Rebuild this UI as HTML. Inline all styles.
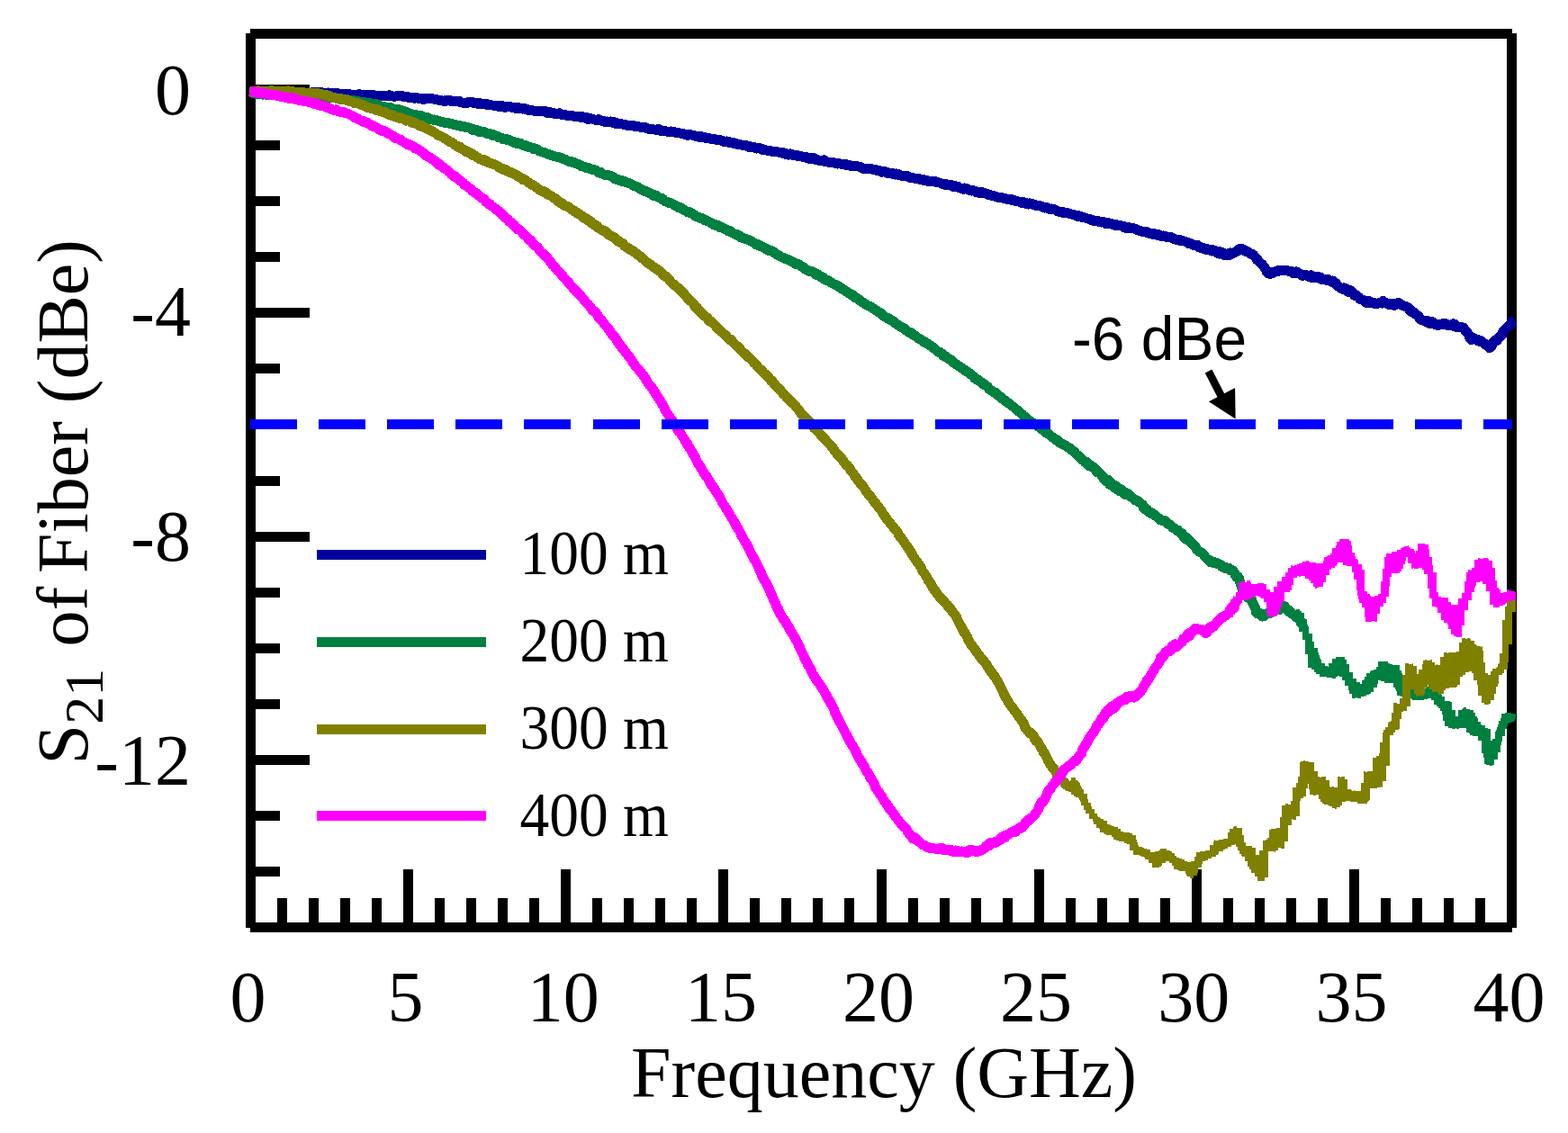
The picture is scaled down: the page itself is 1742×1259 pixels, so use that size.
<!DOCTYPE html>
<html><head><meta charset="utf-8"><title>S21 of Fiber</title>
<style>html,body{margin:0;padding:0;background:#fff}body{width:1742px;height:1259px;overflow:hidden}</style>
</head><body>
<svg width="1742" height="1259" viewBox="0 0 1742 1259" style="display:block">
<rect width="1742" height="1259" fill="#fff"/>
<g stroke="#000" stroke-width="11" fill="none" shape-rendering="crispEdges">
<path d="M278.5,37 V1031 M278,37.5 H1680 M1679.5,37 V1031 M278,1030.5 H1680"/>
<path d="M278.5,99.5 H344 M278.5,161.5 H311 M278.5,223.5 H311 M278.5,285.5 H311 M278.5,347.5 H344 M278.5,409.5 H311 M278.5,471.5 H311 M278.5,534.5 H311 M278.5,596.5 H344 M278.5,658.5 H311 M278.5,720.5 H311 M278.5,782.5 H311 M278.5,844.5 H344 M278.5,906.5 H311 M278.5,968.5 H311 M313.5,1030.5 V998 M348.5,1030.5 V998 M383.5,1030.5 V998 M418.5,1030.5 V998 M453.5,1030.5 V966 M488.5,1030.5 V998 M523.5,1030.5 V998 M558.5,1030.5 V998 M593.5,1030.5 V998 M628.5,1030.5 V966 M663.5,1030.5 V998 M698.5,1030.5 V998 M733.5,1030.5 V998 M768.5,1030.5 V998 M803.5,1030.5 V966 M838.5,1030.5 V998 M873.5,1030.5 V998 M908.5,1030.5 V998 M943.5,1030.5 V998 M979.5,1030.5 V966 M1014.5,1030.5 V998 M1049.5,1030.5 V998 M1084.5,1030.5 V998 M1119.5,1030.5 V998 M1154.5,1030.5 V966 M1189.5,1030.5 V998 M1224.5,1030.5 V998 M1259.5,1030.5 V998 M1294.5,1030.5 V998 M1329.5,1030.5 V966 M1364.5,1030.5 V998 M1399.5,1030.5 V998 M1434.5,1030.5 V998 M1469.5,1030.5 V998 M1504.5,1030.5 V966 M1539.5,1030.5 V998 M1574.5,1030.5 V998 M1609.5,1030.5 V998 M1644.5,1030.5 V998 "/>
</g>
<g fill="none" stroke-width="11" stroke-linejoin="round" shape-rendering="crispEdges">
<path stroke="#00009c" stroke-width="9" d="M277.5,102.0 L281.5,102.0 L285.5,102.0 L289.5,102.0 L293.5,102.1 L297.5,102.1 L301.5,102.1 L305.5,102.2 L309.5,102.2 L313.5,102.2 L317.5,102.3 L321.5,102.3 L325.5,102.4 L329.5,102.5 L333.5,102.6 L337.5,102.7 L341.5,102.8 L345.5,102.9 L349.5,103.0 L353.5,103.1 L357.5,103.3 L361.5,103.5 L365.5,103.7 L369.5,104.0 L373.5,104.2 L377.5,104.4 L381.5,104.5 L385.5,104.7 L389.5,104.8 L393.5,104.9 L397.5,105.1 L401.5,105.2 L405.5,105.3 L409.5,105.5 L413.5,105.6 L417.5,105.8 L421.5,105.9 L425.5,106.1 L429.5,106.3 L433.5,106.4 L437.5,106.7 L441.5,106.9 L445.5,107.2 L449.5,107.5 L453.5,107.9 L457.5,108.3 L461.5,108.8 L465.5,109.2 L469.5,109.6 L473.5,109.9 L477.5,110.3 L481.5,110.6 L485.5,111.0 L489.5,111.3 L493.5,111.7 L497.5,112.0 L501.5,112.3 L505.5,112.7 L509.5,113.0 L513.5,113.4 L517.5,113.8 L521.5,114.2 L525.5,114.5 L529.5,114.9 L533.5,115.4 L537.5,115.8 L541.5,116.2 L545.5,116.7 L549.5,117.1 L553.5,117.6 L557.5,118.1 L561.5,118.5 L565.5,119.0 L569.5,119.5 L573.5,120.0 L577.5,120.5 L581.5,121.0 L585.5,121.6 L589.5,122.1 L593.5,122.6 L597.5,123.2 L601.5,123.7 L605.5,124.3 L609.5,124.8 L613.5,125.4 L617.5,125.9 L621.5,126.5 L625.5,127.1 L629.5,127.7 L633.5,128.3 L637.5,128.9 L641.5,129.6 L645.5,130.2 L649.5,130.9 L653.5,131.5 L657.5,132.2 L661.5,132.9 L665.5,133.6 L669.5,134.2 L673.5,134.9 L677.5,135.6 L681.5,136.3 L685.5,136.9 L689.5,137.6 L693.5,138.3 L697.5,138.9 L701.5,139.6 L705.5,140.2 L709.5,140.8 L713.5,141.5 L717.5,142.1 L721.5,142.7 L725.5,143.4 L729.5,144.0 L733.5,144.6 L737.5,145.3 L741.5,145.9 L745.5,146.5 L749.5,147.2 L753.5,147.8 L757.5,148.5 L761.5,149.1 L765.5,149.8 L769.5,150.5 L773.5,151.2 L777.5,151.9 L781.5,152.6 L785.5,153.4 L789.5,154.1 L793.5,154.9 L797.5,155.7 L801.5,156.5 L805.5,157.3 L809.5,158.1 L813.5,158.9 L817.5,159.8 L821.5,160.6 L825.5,161.4 L829.5,162.3 L833.5,163.1 L837.5,163.9 L841.5,164.7 L845.5,165.5 L849.5,166.3 L853.5,167.1 L857.5,167.9 L861.5,168.7 L865.5,169.4 L869.5,170.2 L873.5,170.9 L877.5,171.7 L881.5,172.4 L885.5,173.2 L889.5,173.9 L893.5,174.6 L897.5,175.4 L901.5,176.1 L905.5,176.8 L909.5,177.5 L913.5,178.3 L917.5,179.0 L921.5,179.7 L925.5,180.5 L929.5,181.2 L933.5,181.9 L937.5,182.6 L941.5,183.4 L945.5,184.1 L949.5,184.9 L953.5,185.6 L957.5,186.4 L961.5,187.1 L965.5,187.9 L969.5,188.7 L973.5,189.4 L977.5,190.2 L981.5,191.0 L985.5,191.8 L989.5,192.5 L993.5,193.3 L997.5,194.1 L1001.5,194.9 L1005.5,195.7 L1009.5,196.5 L1013.5,197.3 L1017.5,198.1 L1021.5,198.9 L1025.5,199.7 L1029.5,200.5 L1033.5,201.3 L1037.5,202.2 L1041.5,203.0 L1045.5,203.9 L1049.5,204.8 L1053.5,205.7 L1057.5,206.6 L1061.5,207.5 L1065.5,208.4 L1069.5,209.3 L1073.5,210.3 L1077.5,211.2 L1081.5,212.2 L1085.5,213.1 L1089.5,214.1 L1093.5,215.0 L1097.5,216.0 L1101.5,216.9 L1105.5,217.9 L1109.5,218.8 L1113.5,219.7 L1117.5,220.7 L1121.5,221.6 L1125.5,222.5 L1129.5,223.4 L1133.5,224.3 L1137.5,225.2 L1141.5,226.2 L1145.5,227.1 L1149.5,228.0 L1153.5,229.0 L1157.5,229.9 L1161.5,230.9 L1165.5,231.9 L1169.5,232.9 L1173.5,233.9 L1177.5,234.9 L1181.5,236.0 L1185.5,237.1 L1189.5,238.1 L1193.5,239.2 L1197.5,240.3 L1201.5,241.3 L1205.5,242.4 L1209.5,243.4 L1213.5,244.4 L1217.5,245.4 L1221.5,246.3 L1225.5,247.2 L1229.5,248.1 L1233.5,248.9 L1237.5,249.8 L1241.5,250.6 L1245.5,251.5 L1249.5,252.3 L1253.5,253.2 L1257.5,254.1 L1261.5,255.0 L1265.5,255.9 L1269.5,256.8 L1273.5,257.7 L1277.5,258.7 L1281.5,259.6 L1285.5,260.6 L1289.5,261.5 L1293.5,262.5 L1297.5,263.5 L1301.5,264.5 L1305.5,265.6 L1309.5,266.7 L1313.5,267.9 L1317.5,269.1 L1321.5,270.5 L1325.5,272.0 L1329.5,273.5 L1333.5,274.8 L1337.5,276.1 L1341.5,277.4 L1345.5,278.4 L1349.5,279.4 L1353.5,280.4 L1357.5,281.4 L1361.5,282.1 L1365.5,282.3 L1369.5,281.5 L1373.5,279.1 L1377.5,277.2 L1381.5,279.1 L1385.5,281.0 L1389.5,282.8 L1393.5,285.7 L1397.5,290.2 L1401.5,294.6 L1405.5,299.1 L1409.5,303.4 L1413.5,303.4 L1417.5,302.8 L1421.5,302.1 L1425.5,301.4 L1429.5,301.3 L1433.5,302.0 L1437.5,302.8 L1441.5,303.5 L1445.5,304.4 L1449.5,305.4 L1453.5,306.4 L1457.5,307.4 L1461.5,308.2 L1465.5,308.8 L1469.5,309.4 L1473.5,309.9 L1477.5,312.0 L1481.5,314.3 L1485.5,316.6 L1489.5,318.8 L1493.5,320.8 L1497.5,322.8 L1501.5,325.2 L1505.5,328.4 L1509.5,331.6 L1513.5,333.2 L1517.5,334.7 L1521.5,336.1 L1525.5,336.9 L1529.5,336.5 L1533.5,336.2 L1537.5,336.4 L1541.5,337.6 L1545.5,338.9 L1549.5,338.6 L1553.5,338.2 L1557.5,338.9 L1561.5,341.2 L1565.5,343.5 L1569.5,346.4 L1573.5,349.9 L1577.5,353.6 L1581.5,355.4 L1585.5,357.0 L1589.5,358.6 L1593.5,360.2 L1597.5,361.8 L1601.5,361.4 L1605.5,360.8 L1609.5,360.1 L1613.5,360.8 L1617.5,361.6 L1621.5,362.5 L1625.5,364.9 L1629.5,370.1 L1633.5,375.4 L1637.5,377.2 L1641.5,378.5 L1645.5,379.8 L1649.5,382.6 L1653.5,385.6 L1657.5,382.5 L1661.5,378.5 L1665.5,374.4 L1669.5,370.1 L1673.5,365.8 L1677.5,361.5 L1681.5,357.9"/>
<path stroke="#00009c" d="M277.5,102.0 L278.5,102.0 L279.5,102.0 L280.5,102.0 L281.5,101.7 L282.5,101.7 L283.5,101.7 L284.5,102.5 L285.5,102.5 L286.5,102.5 L287.5,101.4 L288.5,101.4 L289.5,101.4 L290.5,101.4 L291.5,102.7 L292.5,102.7 L293.5,102.7 L294.5,102.7 L295.5,101.6 L296.5,101.6 L297.5,101.6 L298.5,101.6 L299.5,102.3 L300.5,102.3 L301.5,102.3 L302.5,102.3 L303.5,102.3 L304.5,102.3 L305.5,102.4 L306.5,102.4 L307.5,102.4 L308.5,102.4 L309.5,102.4 L310.5,102.7 L311.5,102.7 L312.5,102.7 L313.5,102.7 L314.5,102.0 L315.5,102.0 L316.5,102.0 L317.5,102.0 L318.5,102.9 L319.5,102.9 L320.5,103.0 L321.5,103.0 L322.5,101.6 L323.5,102.6 L324.5,102.5 L325.5,102.5 L326.5,102.5 L327.5,103.2 L328.5,102.1 L329.5,102.1 L330.5,102.1 L331.5,102.1 L332.5,102.5 L333.5,102.5 L334.5,102.0 L335.5,102.0 L336.5,102.0 L337.5,102.0 L338.5,102.5 L339.5,102.5 L340.5,102.5 L341.5,103.0 L342.5,103.1 L343.5,103.1 L344.5,103.1 L345.5,103.4 L346.5,102.7 L347.5,102.7 L348.5,102.8 L349.5,103.0 L350.5,103.1 L351.5,102.6 L352.5,102.7 L353.5,102.9 L354.5,102.5 L355.5,102.5 L356.5,102.6 L357.5,102.6 L358.5,103.8 L359.5,103.8 L360.5,103.1 L361.5,103.2 L362.5,103.3 L363.5,103.3 L364.5,103.0 L365.5,103.1 L366.5,103.1 L367.5,103.3 L368.5,103.3 L369.5,103.4 L370.5,103.4 L371.5,103.5 L372.5,103.5 L373.5,103.5 L374.5,103.6 L375.5,103.6 L376.5,105.0 L377.5,104.1 L378.5,104.1 L379.5,104.2 L380.5,105.0 L381.5,105.1 L382.5,104.1 L383.5,104.1 L384.5,104.5 L385.5,104.6 L386.5,104.6 L387.5,104.5 L388.5,105.1 L389.5,105.2 L390.5,105.2 L391.5,105.2 L392.5,105.3 L393.5,105.3 L394.5,105.4 L395.5,105.3 L396.5,105.3 L397.5,105.3 L398.5,104.9 L399.5,104.9 L400.5,105.0 L401.5,105.0 L402.5,105.3 L403.5,105.3 L404.5,105.3 L405.5,105.7 L406.5,105.0 L407.5,105.0 L408.5,105.1 L409.5,105.1 L410.5,105.6 L411.5,106.2 L412.5,105.0 L413.5,105.0 L414.5,105.1 L415.5,106.2 L416.5,106.2 L417.5,106.3 L418.5,106.3 L419.5,106.1 L420.5,106.7 L421.5,106.6 L422.5,106.7 L423.5,106.7 L424.5,106.5 L425.5,106.5 L426.5,106.6 L427.5,106.6 L428.5,106.1 L429.5,106.1 L430.5,106.1 L431.5,106.2 L432.5,105.9 L433.5,105.9 L434.5,106.9 L435.5,107.0 L436.5,107.0 L437.5,107.0 L438.5,107.1 L439.5,107.1 L440.5,106.7 L441.5,106.8 L442.5,106.9 L443.5,106.9 L444.5,107.0 L445.5,106.4 L446.5,106.5 L447.5,107.4 L448.5,107.5 L449.5,107.4 L450.5,107.5 L451.5,107.5 L452.5,107.6 L453.5,108.3 L454.5,108.4 L455.5,108.5 L456.5,108.6 L457.5,108.1 L458.5,108.3 L459.5,108.4 L460.5,109.3 L461.5,108.6 L462.5,108.7 L463.5,108.8 L464.5,108.9 L465.5,109.6 L466.5,109.7 L467.5,109.8 L468.5,109.9 L469.5,110.3 L470.5,110.0 L471.5,110.3 L472.5,109.2 L473.5,109.3 L474.5,109.4 L475.5,109.4 L476.5,109.5 L477.5,109.6 L478.5,109.7 L479.5,109.8 L480.5,109.9 L481.5,110.1 L482.5,110.2 L483.5,110.3 L484.5,110.4 L485.5,110.9 L486.5,111.0 L487.5,111.1 L488.5,111.6 L489.5,111.7 L490.5,111.8 L491.5,112.1 L492.5,112.2 L493.5,112.3 L494.5,112.4 L495.5,111.4 L496.5,111.2 L497.5,111.3 L498.5,111.4 L499.5,111.5 L500.5,112.2 L501.5,112.3 L502.5,112.4 L503.5,112.5 L504.5,112.3 L505.5,112.4 L506.5,112.7 L507.5,112.8 L508.5,112.2 L509.5,112.3 L510.5,112.4 L511.5,113.8 L512.5,113.9 L513.5,114.0 L514.5,114.1 L515.5,114.3 L516.5,114.3 L517.5,114.4 L518.5,114.5 L519.5,113.8 L520.5,113.9 L521.5,114.0 L522.5,113.8 L523.5,113.6 L524.5,113.7 L525.5,113.8 L526.5,114.6 L527.5,114.2 L528.5,114.3 L529.5,114.4 L530.5,114.5 L531.5,115.7 L532.5,114.8 L533.5,114.9 L534.5,115.0 L535.5,115.9 L536.5,116.0 L537.5,115.8 L538.5,115.9 L539.5,116.1 L540.5,116.2 L541.5,115.9 L542.5,116.0 L543.5,116.7 L544.5,116.8 L545.5,116.9 L546.5,117.0 L547.5,117.0 L548.5,117.1 L549.5,117.2 L550.5,117.7 L551.5,117.8 L552.5,117.9 L553.5,118.1 L554.5,118.3 L555.5,118.4 L556.5,117.4 L557.5,117.5 L558.5,117.6 L559.5,119.0 L560.5,119.1 L561.5,119.2 L562.5,118.2 L563.5,118.4 L564.5,118.5 L565.5,118.6 L566.5,118.7 L567.5,118.8 L568.5,118.9 L569.5,119.5 L570.5,119.7 L571.5,119.8 L572.5,119.9 L573.5,120.7 L574.5,120.8 L575.5,119.5 L576.5,119.7 L577.5,120.7 L578.5,120.8 L579.5,120.9 L580.5,121.1 L581.5,120.3 L582.5,120.5 L583.5,121.2 L584.5,121.4 L585.5,121.5 L586.5,122.3 L587.5,122.3 L588.5,122.4 L589.5,122.5 L590.5,122.6 L591.5,122.8 L592.5,123.0 L593.5,123.2 L594.5,123.3 L595.5,123.4 L596.5,123.3 L597.5,123.4 L598.5,123.6 L599.5,123.1 L600.5,123.2 L601.5,123.4 L602.5,123.5 L603.5,123.4 L604.5,123.6 L605.5,123.7 L606.5,123.9 L607.5,125.2 L608.5,125.3 L609.5,125.5 L610.5,125.6 L611.5,124.8 L612.5,125.0 L613.5,125.1 L614.5,125.2 L615.5,126.3 L616.5,126.5 L617.5,126.6 L618.5,126.1 L619.5,126.2 L620.5,126.4 L621.5,125.8 L622.5,126.8 L623.5,127.3 L624.5,127.4 L625.5,127.6 L626.5,127.7 L627.5,127.9 L628.5,127.9 L629.5,128.0 L630.5,128.6 L631.5,128.7 L632.5,128.9 L633.5,129.0 L634.5,128.4 L635.5,128.5 L636.5,128.7 L637.5,129.2 L638.5,129.6 L639.5,129.8 L640.5,129.7 L641.5,129.8 L642.5,130.0 L643.5,129.4 L644.5,129.6 L645.5,130.7 L646.5,129.7 L647.5,129.9 L648.5,130.0 L649.5,130.1 L650.5,130.3 L651.5,130.4 L652.5,132.1 L653.5,132.3 L654.5,132.4 L655.5,131.7 L656.5,131.9 L657.5,132.1 L658.5,132.2 L659.5,132.9 L660.5,133.1 L661.5,133.2 L662.5,133.4 L663.5,133.6 L664.5,132.7 L665.5,132.9 L666.5,133.1 L667.5,134.0 L668.5,134.2 L669.5,134.3 L670.5,134.5 L671.5,135.3 L672.5,135.4 L673.5,135.6 L674.5,135.0 L675.5,135.2 L676.5,135.3 L677.5,135.8 L678.5,135.1 L679.5,136.1 L680.5,136.2 L681.5,136.4 L682.5,135.9 L683.5,136.1 L684.5,137.4 L685.5,136.9 L686.5,137.0 L687.5,137.2 L688.5,137.8 L689.5,137.7 L690.5,137.9 L691.5,138.0 L692.5,138.2 L693.5,138.8 L694.5,138.9 L695.5,139.1 L696.5,138.9 L697.5,139.4 L698.5,139.6 L699.5,139.5 L700.5,139.6 L701.5,139.4 L702.5,139.6 L703.5,139.7 L704.5,139.9 L705.5,140.6 L706.5,140.8 L707.5,140.9 L708.5,140.6 L709.5,140.8 L710.5,141.0 L711.5,141.1 L712.5,141.7 L713.5,141.9 L714.5,141.4 L715.5,141.5 L716.5,141.7 L717.5,141.8 L718.5,142.8 L719.5,142.9 L720.5,143.1 L721.5,143.3 L722.5,143.4 L723.5,143.6 L724.5,143.8 L725.5,143.8 L726.5,144.0 L727.5,144.0 L728.5,144.2 L729.5,144.3 L730.5,144.5 L731.5,143.6 L732.5,143.7 L733.5,145.2 L734.5,145.4 L735.5,145.5 L736.5,145.2 L737.5,145.4 L738.5,145.7 L739.5,145.8 L740.5,146.0 L741.5,146.2 L742.5,146.3 L743.5,146.1 L744.5,146.2 L745.5,146.0 L746.5,146.2 L747.5,146.3 L748.5,146.7 L749.5,146.8 L750.5,147.2 L751.5,147.4 L752.5,147.4 L753.5,147.6 L754.5,147.7 L755.5,148.1 L756.5,148.2 L757.5,148.4 L758.5,148.6 L759.5,148.9 L760.5,149.1 L761.5,149.3 L762.5,149.4 L763.5,150.2 L764.5,150.4 L765.5,149.6 L766.5,149.8 L767.5,149.8 L768.5,150.0 L769.5,150.1 L770.5,150.3 L771.5,150.8 L772.5,151.0 L773.5,151.5 L774.5,151.7 L775.5,151.9 L776.5,152.0 L777.5,152.5 L778.5,151.8 L779.5,151.8 L780.5,152.0 L781.5,152.2 L782.5,152.7 L783.5,152.9 L784.5,153.7 L785.5,153.9 L786.5,153.5 L787.5,153.7 L788.5,153.9 L789.5,154.1 L790.5,154.3 L791.5,154.5 L792.5,154.6 L793.5,154.8 L794.5,154.9 L795.5,155.1 L796.5,155.3 L797.5,155.5 L798.5,155.4 L799.5,155.6 L800.5,155.8 L801.5,156.2 L802.5,156.4 L803.5,156.6 L804.5,157.5 L805.5,157.7 L806.5,157.9 L807.5,157.0 L808.5,157.2 L809.5,157.4 L810.5,158.8 L811.5,158.4 L812.5,158.6 L813.5,158.8 L814.5,159.4 L815.5,158.9 L816.5,159.4 L817.5,159.6 L818.5,160.2 L819.5,160.4 L820.5,160.6 L821.5,160.6 L822.5,160.8 L823.5,161.0 L824.5,161.2 L825.5,161.5 L826.5,161.7 L827.5,161.4 L828.5,161.6 L829.5,161.8 L830.5,162.0 L831.5,163.4 L832.5,163.6 L833.5,163.8 L834.5,163.0 L835.5,163.2 L836.5,163.3 L837.5,163.5 L838.5,164.0 L839.5,164.2 L840.5,165.0 L841.5,164.2 L842.5,164.4 L843.5,164.5 L844.5,164.7 L845.5,165.0 L846.5,166.2 L847.5,165.9 L848.5,166.1 L849.5,166.6 L850.5,166.8 L851.5,167.0 L852.5,167.2 L853.5,167.3 L854.5,167.5 L855.5,167.7 L856.5,167.9 L857.5,168.3 L858.5,168.5 L859.5,168.7 L860.5,168.9 L861.5,168.4 L862.5,168.6 L863.5,168.8 L864.5,169.0 L865.5,169.3 L866.5,169.6 L867.5,169.8 L868.5,169.9 L869.5,170.4 L870.5,169.8 L871.5,170.0 L872.5,170.2 L873.5,171.7 L874.5,171.9 L875.5,172.1 L876.5,172.2 L877.5,170.9 L878.5,171.1 L879.5,171.5 L880.5,172.2 L881.5,172.4 L882.5,172.5 L883.5,172.7 L884.5,172.9 L885.5,172.6 L886.5,173.8 L887.5,173.0 L888.5,173.2 L889.5,173.8 L890.5,173.9 L891.5,174.1 L892.5,174.3 L893.5,174.5 L894.5,174.3 L895.5,174.5 L896.5,175.9 L897.5,176.0 L898.5,176.2 L899.5,176.4 L900.5,176.2 L901.5,175.4 L902.5,175.6 L903.5,175.7 L904.5,175.9 L905.5,177.0 L906.5,177.4 L907.5,177.6 L908.5,177.8 L909.5,178.3 L910.5,178.5 L911.5,178.6 L912.5,178.8 L913.5,178.9 L914.5,178.2 L915.5,177.9 L916.5,179.5 L917.5,179.7 L918.5,179.8 L919.5,180.0 L920.5,180.3 L921.5,180.5 L922.5,180.7 L923.5,180.9 L924.5,180.5 L925.5,180.7 L926.5,180.9 L927.5,181.1 L928.5,181.3 L929.5,181.9 L930.5,182.1 L931.5,181.7 L932.5,181.9 L933.5,182.1 L934.5,182.1 L935.5,182.3 L936.5,182.5 L937.5,182.7 L938.5,182.1 L939.5,182.2 L940.5,183.5 L941.5,183.7 L942.5,183.4 L943.5,183.6 L944.5,183.8 L945.5,184.5 L946.5,184.7 L947.5,184.9 L948.5,184.4 L949.5,184.6 L950.5,184.8 L951.5,185.0 L952.5,184.8 L953.5,185.0 L954.5,185.2 L955.5,185.5 L956.5,186.1 L957.5,186.3 L958.5,187.3 L959.5,187.4 L960.5,187.6 L961.5,187.4 L962.5,187.6 L963.5,187.4 L964.5,187.6 L965.5,187.1 L966.5,187.3 L967.5,187.5 L968.5,187.7 L969.5,188.3 L970.5,188.3 L971.5,188.5 L972.5,188.7 L973.5,188.9 L974.5,189.9 L975.5,189.4 L976.5,189.6 L977.5,189.8 L978.5,189.9 L979.5,191.3 L980.5,190.4 L981.5,190.6 L982.5,190.6 L983.5,190.8 L984.5,191.0 L985.5,192.3 L986.5,192.5 L987.5,192.7 L988.5,192.4 L989.5,192.6 L990.5,192.8 L991.5,192.2 L992.5,193.7 L993.5,193.9 L994.5,194.1 L995.5,193.0 L996.5,193.2 L997.5,193.4 L998.5,194.7 L999.5,194.7 L1000.5,194.9 L1001.5,195.1 L1002.5,195.3 L1003.5,195.5 L1004.5,195.7 L1005.5,195.6 L1006.5,195.8 L1007.5,195.7 L1008.5,195.9 L1009.5,196.1 L1010.5,197.1 L1011.5,197.3 L1012.5,197.5 L1013.5,197.7 L1014.5,197.8 L1015.5,198.0 L1016.5,198.2 L1017.5,198.4 L1018.5,198.1 L1019.5,198.3 L1020.5,198.5 L1021.5,199.2 L1022.5,199.4 L1023.5,199.1 L1024.5,199.3 L1025.5,199.5 L1026.5,200.6 L1027.5,200.4 L1028.5,200.7 L1029.5,200.2 L1030.5,201.3 L1031.5,201.5 L1032.5,201.7 L1033.5,201.9 L1034.5,201.5 L1035.5,201.7 L1036.5,201.7 L1037.5,201.9 L1038.5,201.7 L1039.5,201.9 L1040.5,202.5 L1041.5,202.7 L1042.5,202.9 L1043.5,203.1 L1044.5,203.2 L1045.5,203.8 L1046.5,204.1 L1047.5,204.3 L1048.5,204.1 L1049.5,205.4 L1050.5,205.7 L1051.5,204.8 L1052.5,205.1 L1053.5,205.3 L1054.5,205.9 L1055.5,205.4 L1056.5,205.6 L1057.5,205.9 L1058.5,207.4 L1059.5,207.6 L1060.5,207.2 L1061.5,206.8 L1062.5,207.0 L1063.5,207.2 L1064.5,207.5 L1065.5,208.5 L1066.5,208.8 L1067.5,209.0 L1068.5,209.3 L1069.5,209.9 L1070.5,210.2 L1071.5,209.0 L1072.5,209.3 L1073.5,209.5 L1074.5,209.7 L1075.5,210.5 L1076.5,210.8 L1077.5,211.6 L1078.5,211.9 L1079.5,212.1 L1080.5,211.6 L1081.5,211.8 L1082.5,212.0 L1083.5,212.3 L1084.5,213.4 L1085.5,213.1 L1086.5,213.3 L1087.5,214.4 L1088.5,214.6 L1089.5,213.4 L1090.5,213.6 L1091.5,213.8 L1092.5,214.1 L1093.5,214.9 L1094.5,215.1 L1095.5,214.9 L1096.5,215.9 L1097.5,216.1 L1098.5,216.5 L1099.5,216.7 L1100.5,216.9 L1101.5,217.2 L1102.5,217.3 L1103.5,217.5 L1104.5,217.8 L1105.5,218.0 L1106.5,218.5 L1107.5,218.8 L1108.5,219.1 L1109.5,219.3 L1110.5,219.5 L1111.5,219.8 L1112.5,219.6 L1113.5,219.8 L1114.5,220.1 L1115.5,220.3 L1116.5,220.6 L1117.5,220.6 L1118.5,221.1 L1119.5,221.6 L1120.5,221.4 L1121.5,221.6 L1122.5,221.9 L1123.5,222.4 L1124.5,221.9 L1125.5,222.1 L1126.5,222.5 L1127.5,222.7 L1128.5,223.5 L1129.5,223.7 L1130.5,223.9 L1131.5,224.0 L1132.5,224.2 L1133.5,224.4 L1134.5,225.1 L1135.5,225.5 L1136.5,224.6 L1137.5,224.8 L1138.5,225.1 L1139.5,225.2 L1140.5,226.6 L1141.5,226.8 L1142.5,227.1 L1143.5,225.9 L1144.5,226.1 L1145.5,226.4 L1146.5,226.6 L1147.5,227.1 L1148.5,227.3 L1149.5,227.5 L1150.5,228.2 L1151.5,228.5 L1152.5,228.1 L1153.5,228.3 L1154.5,228.7 L1155.5,228.9 L1156.5,229.2 L1157.5,229.4 L1158.5,230.2 L1159.5,230.8 L1160.5,231.1 L1161.5,230.3 L1162.5,230.6 L1163.5,231.2 L1164.5,231.4 L1165.5,232.3 L1166.5,232.5 L1167.5,232.8 L1168.5,232.0 L1169.5,232.3 L1170.5,232.5 L1171.5,232.8 L1172.5,233.3 L1173.5,233.6 L1174.5,234.6 L1175.5,234.9 L1176.5,235.1 L1177.5,235.4 L1178.5,235.8 L1179.5,236.1 L1180.5,235.2 L1181.5,236.3 L1182.5,236.5 L1183.5,236.5 L1184.5,236.8 L1185.5,236.5 L1186.5,236.8 L1187.5,237.3 L1188.5,237.4 L1189.5,237.7 L1190.5,238.0 L1191.5,238.2 L1192.5,238.4 L1193.5,239.0 L1194.5,239.3 L1195.5,239.5 L1196.5,240.2 L1197.5,240.4 L1198.5,239.8 L1199.5,240.1 L1200.5,240.3 L1201.5,241.1 L1202.5,241.3 L1203.5,241.5 L1204.5,241.7 L1205.5,242.0 L1206.5,242.3 L1207.5,242.7 L1208.5,243.0 L1209.5,243.3 L1210.5,243.5 L1211.5,243.8 L1212.5,244.0 L1213.5,245.0 L1214.5,245.3 L1215.5,245.5 L1216.5,245.7 L1217.5,245.1 L1218.5,245.3 L1219.5,245.5 L1220.5,246.4 L1221.5,246.7 L1222.5,246.9 L1223.5,247.1 L1224.5,246.4 L1225.5,246.6 L1226.5,247.3 L1227.5,247.5 L1228.5,248.5 L1229.5,248.8 L1230.5,247.7 L1231.5,247.9 L1232.5,248.1 L1233.5,248.9 L1234.5,249.1 L1235.5,248.8 L1236.5,249.0 L1237.5,249.2 L1238.5,250.3 L1239.5,250.5 L1240.5,249.8 L1241.5,250.0 L1242.5,250.3 L1243.5,250.5 L1244.5,250.6 L1245.5,250.8 L1246.5,251.0 L1247.5,251.3 L1248.5,251.5 L1249.5,253.0 L1250.5,253.2 L1251.5,253.5 L1252.5,253.7 L1253.5,252.4 L1254.5,252.7 L1255.5,253.8 L1256.5,254.0 L1257.5,253.4 L1258.5,253.6 L1259.5,253.8 L1260.5,254.0 L1261.5,254.9 L1262.5,255.1 L1263.5,255.5 L1264.5,255.8 L1265.5,256.0 L1266.5,256.4 L1267.5,256.6 L1268.5,257.4 L1269.5,257.6 L1270.5,257.8 L1271.5,257.8 L1272.5,258.0 L1273.5,258.2 L1274.5,257.8 L1275.5,258.8 L1276.5,259.1 L1277.5,259.3 L1278.5,259.7 L1279.5,259.9 L1280.5,260.2 L1281.5,260.4 L1282.5,259.8 L1283.5,260.0 L1284.5,261.0 L1285.5,261.3 L1286.5,260.6 L1287.5,260.8 L1288.5,262.0 L1289.5,262.2 L1290.5,262.5 L1291.5,262.7 L1292.5,262.0 L1293.5,262.3 L1294.5,262.5 L1295.5,263.4 L1296.5,263.7 L1297.5,263.4 L1298.5,263.6 L1299.5,263.8 L1300.5,263.7 L1301.5,263.8 L1302.5,264.1 L1303.5,265.2 L1304.5,265.4 L1305.5,265.7 L1306.5,266.0 L1307.5,266.4 L1308.5,266.7 L1309.5,267.0 L1310.5,267.3 L1311.5,266.8 L1312.5,267.1 L1313.5,267.4 L1314.5,267.7 L1315.5,268.0 L1316.5,268.3 L1317.5,268.8 L1318.5,269.1 L1319.5,269.5 L1320.5,270.6 L1321.5,270.9 L1322.5,270.6 L1323.5,270.9 L1324.5,271.3 L1325.5,272.2 L1326.5,272.6 L1327.5,272.1 L1328.5,272.5 L1329.5,272.8 L1330.5,272.5 L1331.5,274.7 L1332.5,273.8 L1333.5,275.2 L1334.5,275.5 L1335.5,275.9 L1336.5,276.2 L1337.5,275.8 L1338.5,276.2 L1339.5,276.5 L1340.5,277.4 L1341.5,276.9 L1342.5,277.1 L1343.5,277.4 L1344.5,277.6 L1345.5,278.7 L1346.5,279.0 L1347.5,277.8 L1348.5,278.0 L1349.5,278.3 L1350.5,278.5 L1351.5,280.5 L1352.5,280.8 L1353.5,281.0 L1354.5,282.1 L1355.5,279.9 L1356.5,280.2 L1357.5,280.4 L1358.5,280.7 L1359.5,283.4 L1360.5,283.6 L1361.5,282.4 L1362.5,282.5 L1363.5,282.5 L1364.5,283.8 L1365.5,283.8 L1366.5,280.9 L1367.5,280.9 L1368.5,282.2 L1369.5,281.6 L1370.5,281.0 L1371.5,280.4 L1372.5,280.3 L1373.5,279.7 L1374.5,279.1 L1375.5,278.5 L1376.5,276.8 L1377.5,276.7 L1378.5,277.2 L1379.5,276.6 L1380.5,277.0 L1381.5,277.5 L1382.5,278.1 L1383.5,278.5 L1384.5,279.1 L1385.5,279.6 L1386.5,280.1 L1387.5,280.9 L1388.5,281.4 L1389.5,281.9 L1390.5,281.9 L1391.5,282.4 L1392.5,283.2 L1393.5,284.3 L1394.5,285.3 L1395.5,286.4 L1396.5,288.9 L1397.5,289.2 L1398.5,290.4 L1399.5,291.5 L1400.5,292.6 L1401.5,293.1 L1402.5,294.2 L1403.5,295.3 L1404.5,297.1 L1405.5,298.2 L1406.5,299.3 L1407.5,302.5 L1408.5,303.6 L1409.5,303.9 L1410.5,304.4 L1411.5,304.2 L1412.5,304.0 L1413.5,302.8 L1414.5,302.7 L1415.5,302.5 L1416.5,302.3 L1417.5,301.2 L1418.5,301.1 L1419.5,300.9 L1420.5,300.7 L1421.5,300.6 L1422.5,300.7 L1423.5,300.5 L1424.5,300.3 L1425.5,300.1 L1426.5,300.1 L1427.5,300.0 L1428.5,300.0 L1429.5,300.8 L1430.5,300.9 L1431.5,301.1 L1432.5,301.3 L1433.5,301.5 L1434.5,301.7 L1435.5,301.9 L1436.5,303.5 L1437.5,303.3 L1438.5,303.3 L1439.5,301.9 L1440.5,302.1 L1441.5,302.3 L1442.5,304.0 L1443.5,304.2 L1444.5,304.4 L1445.5,304.6 L1446.5,306.1 L1447.5,306.3 L1448.5,305.6 L1449.5,305.8 L1450.5,306.1 L1451.5,305.9 L1452.5,306.2 L1453.5,306.4 L1454.5,306.7 L1455.5,308.1 L1456.5,305.7 L1457.5,308.0 L1458.5,308.6 L1459.5,307.7 L1460.5,307.9 L1461.5,308.1 L1462.5,308.2 L1463.5,307.5 L1464.5,307.6 L1465.5,307.8 L1466.5,307.9 L1467.5,310.2 L1468.5,310.3 L1469.5,310.5 L1470.5,311.0 L1471.5,310.8 L1472.5,311.0 L1473.5,311.1 L1474.5,311.5 L1475.5,310.5 L1476.5,311.4 L1477.5,312.0 L1478.5,312.6 L1479.5,313.2 L1480.5,312.1 L1481.5,312.7 L1482.5,313.9 L1483.5,314.5 L1484.5,315.0 L1485.5,317.3 L1486.5,317.8 L1487.5,318.9 L1488.5,319.4 L1489.5,319.9 L1490.5,320.5 L1491.5,321.0 L1492.5,321.5 L1493.5,320.0 L1494.5,320.5 L1495.5,321.0 L1496.5,321.5 L1497.5,324.2 L1498.5,324.7 L1499.5,322.5 L1500.5,323.1 L1501.5,323.7 L1502.5,324.5 L1503.5,325.3 L1504.5,327.9 L1505.5,328.7 L1506.5,327.8 L1507.5,328.6 L1508.5,329.4 L1509.5,330.2 L1510.5,332.2 L1511.5,332.5 L1512.5,332.9 L1513.5,333.0 L1514.5,333.4 L1515.5,333.8 L1516.5,335.8 L1517.5,336.1 L1518.5,336.5 L1519.5,336.8 L1520.5,334.5 L1521.5,334.9 L1522.5,335.3 L1523.5,335.6 L1524.5,336.7 L1525.5,336.6 L1526.5,336.5 L1527.5,337.8 L1528.5,337.4 L1529.5,337.3 L1530.5,337.2 L1531.5,337.1 L1532.5,336.5 L1533.5,336.5 L1534.5,336.4 L1535.5,337.1 L1536.5,334.6 L1537.5,335.5 L1538.5,335.8 L1539.5,337.0 L1540.5,337.3 L1541.5,337.6 L1542.5,338.1 L1543.5,338.4 L1544.5,337.1 L1545.5,337.4 L1546.5,337.5 L1547.5,337.4 L1548.5,339.3 L1549.5,339.2 L1550.5,337.1 L1551.5,337.0 L1552.5,336.8 L1553.5,336.7 L1554.5,336.6 L1555.5,338.2 L1556.5,338.4 L1557.5,338.9 L1558.5,339.5 L1559.5,340.1 L1560.5,340.0 L1561.5,340.6 L1562.5,340.7 L1563.5,341.3 L1564.5,341.9 L1565.5,342.5 L1566.5,345.4 L1567.5,346.0 L1568.5,346.8 L1569.5,346.3 L1570.5,347.1 L1571.5,348.0 L1572.5,348.9 L1573.5,349.8 L1574.5,350.2 L1575.5,351.1 L1576.5,352.0 L1577.5,354.5 L1578.5,355.2 L1579.5,355.6 L1580.5,356.0 L1581.5,356.1 L1582.5,356.5 L1583.5,356.9 L1584.5,356.1 L1585.5,356.5 L1586.5,358.8 L1587.5,359.2 L1588.5,359.6 L1589.5,357.2 L1590.5,357.6 L1591.5,358.0 L1592.5,359.9 L1593.5,360.3 L1594.5,360.2 L1595.5,360.6 L1596.5,361.0 L1597.5,361.4 L1598.5,360.5 L1599.5,360.4 L1600.5,360.2 L1601.5,360.0 L1602.5,360.5 L1603.5,360.3 L1604.5,359.6 L1605.5,359.5 L1606.5,361.1 L1607.5,361.0 L1608.5,360.8 L1609.5,361.6 L1610.5,361.4 L1611.5,361.6 L1612.5,361.8 L1613.5,362.0 L1614.5,359.9 L1615.5,360.1 L1616.5,360.4 L1617.5,363.1 L1618.5,363.3 L1619.5,363.5 L1620.5,363.8 L1621.5,363.6 L1622.5,363.9 L1623.5,364.1 L1624.5,363.7 L1625.5,364.0 L1626.5,365.3 L1627.5,366.6 L1628.5,368.2 L1629.5,369.0 L1630.5,370.3 L1631.5,371.6 L1632.5,375.0 L1633.5,376.3 L1634.5,377.5 L1635.5,374.9 L1636.5,375.3 L1637.5,375.6 L1638.5,376.7 L1639.5,376.8 L1640.5,377.2 L1641.5,377.5 L1642.5,379.1 L1643.5,378.9 L1644.5,379.3 L1645.5,378.9 L1646.5,379.4 L1647.5,380.5 L1648.5,381.2 L1649.5,382.0 L1650.5,382.7 L1651.5,383.8 L1652.5,384.6 L1653.5,385.3 L1654.5,386.8 L1655.5,385.8 L1656.5,384.8 L1657.5,383.8 L1658.5,380.7 L1659.5,379.7 L1660.5,378.9 L1661.5,377.9 L1662.5,378.8 L1663.5,377.8 L1664.5,376.7 L1665.5,374.4 L1666.5,373.3 L1667.5,373.5 L1668.5,372.4 L1669.5,368.8 L1670.5,367.7 L1671.5,366.7 L1672.5,365.7 L1673.5,364.7 L1674.5,363.6 L1675.5,362.2 L1676.5,362.0 L1677.5,360.9 L1678.5,359.9 L1679.5,359.0 L1680.5,357.2 L1681.5,356.3 L1682.5,355.9"/>
<path stroke="#008040" stroke-width="9" d="M277.5,102.0 L281.5,103.0 L285.5,103.9 L289.5,104.5 L293.5,104.7 L297.5,104.9 L301.5,105.0 L305.5,105.1 L309.5,105.2 L313.5,105.3 L317.5,105.4 L321.5,105.6 L325.5,105.7 L329.5,105.9 L333.5,106.1 L337.5,106.3 L341.5,106.5 L345.5,106.7 L349.5,107.0 L353.5,107.3 L357.5,107.6 L361.5,108.0 L365.5,108.4 L369.5,108.8 L373.5,109.3 L377.5,109.8 L381.5,110.3 L385.5,110.9 L389.5,111.4 L393.5,112.0 L397.5,112.6 L401.5,113.3 L405.5,114.0 L409.5,114.7 L413.5,115.5 L417.5,116.3 L421.5,117.2 L425.5,118.0 L429.5,118.9 L433.5,119.8 L437.5,120.8 L441.5,121.9 L445.5,123.0 L449.5,124.2 L453.5,125.3 L457.5,126.5 L461.5,127.7 L465.5,128.8 L469.5,129.9 L473.5,130.9 L477.5,131.9 L481.5,132.9 L485.5,133.9 L489.5,134.9 L493.5,135.8 L497.5,136.8 L501.5,137.7 L505.5,138.7 L509.5,139.7 L513.5,140.6 L517.5,141.7 L521.5,142.7 L525.5,143.8 L529.5,144.9 L533.5,146.0 L537.5,147.2 L541.5,148.3 L545.5,149.6 L549.5,150.8 L553.5,152.0 L557.5,153.3 L561.5,154.6 L565.5,155.9 L569.5,157.2 L573.5,158.6 L577.5,159.9 L581.5,161.3 L585.5,162.6 L589.5,164.0 L593.5,165.4 L597.5,166.8 L601.5,168.2 L605.5,169.6 L609.5,171.0 L613.5,172.4 L617.5,173.8 L621.5,175.2 L625.5,176.6 L629.5,178.0 L633.5,179.5 L637.5,180.9 L641.5,182.3 L645.5,183.8 L649.5,185.2 L653.5,186.7 L657.5,188.1 L661.5,189.6 L665.5,191.1 L669.5,192.6 L673.5,194.2 L677.5,195.7 L681.5,197.3 L685.5,198.9 L689.5,200.5 L693.5,202.1 L697.5,203.8 L701.5,205.5 L705.5,207.2 L709.5,209.0 L713.5,210.8 L717.5,212.6 L721.5,214.5 L725.5,216.4 L729.5,218.3 L733.5,220.3 L737.5,222.2 L741.5,224.2 L745.5,226.1 L749.5,228.1 L753.5,230.1 L757.5,232.1 L761.5,234.0 L765.5,236.0 L769.5,237.9 L773.5,239.9 L777.5,241.8 L781.5,243.7 L785.5,245.5 L789.5,247.4 L793.5,249.3 L797.5,251.1 L801.5,253.0 L805.5,254.9 L809.5,256.7 L813.5,258.6 L817.5,260.5 L821.5,262.3 L825.5,264.2 L829.5,266.1 L833.5,268.0 L837.5,269.9 L841.5,271.9 L845.5,273.8 L849.5,275.8 L853.5,277.7 L857.5,279.7 L861.5,281.7 L865.5,283.6 L869.5,285.6 L873.5,287.6 L877.5,289.6 L881.5,291.6 L885.5,293.6 L889.5,295.7 L893.5,297.7 L897.5,299.8 L901.5,301.9 L905.5,304.0 L909.5,306.2 L913.5,308.4 L917.5,310.6 L921.5,312.9 L925.5,315.2 L929.5,317.5 L933.5,319.9 L937.5,322.3 L941.5,324.8 L945.5,327.3 L949.5,329.8 L953.5,332.3 L957.5,334.9 L961.5,337.5 L965.5,340.1 L969.5,342.7 L973.5,345.3 L977.5,347.9 L981.5,350.5 L985.5,353.1 L989.5,355.7 L993.5,358.3 L997.5,360.9 L1001.5,363.5 L1005.5,366.1 L1009.5,368.7 L1013.5,371.3 L1017.5,374.0 L1021.5,376.6 L1025.5,379.3 L1029.5,382.0 L1033.5,384.7 L1037.5,387.4 L1041.5,390.1 L1045.5,392.9 L1049.5,395.7 L1053.5,398.5 L1057.5,401.3 L1061.5,404.1 L1065.5,407.0 L1069.5,409.8 L1073.5,412.7 L1077.5,415.7 L1081.5,418.6 L1085.5,421.5 L1089.5,424.5 L1093.5,427.5 L1097.5,430.5 L1101.5,433.5 L1105.5,436.6 L1109.5,439.6 L1113.5,442.7 L1117.5,445.9 L1121.5,449.1 L1125.5,452.4 L1129.5,455.7 L1133.5,458.9 L1137.5,462.2 L1141.5,465.4 L1145.5,468.6 L1149.5,471.6 L1153.5,474.6 L1157.5,477.5 L1161.5,480.3 L1165.5,483.1 L1169.5,485.8 L1173.5,488.5 L1177.5,491.2 L1181.5,494.0 L1185.5,496.8 L1189.5,499.6 L1193.5,502.6 L1197.5,505.6 L1201.5,508.8 L1205.5,512.2 L1209.5,515.8 L1213.5,519.4 L1217.5,523.1 L1221.5,526.7 L1225.5,530.3 L1229.5,533.8 L1233.5,537.1 L1237.5,539.9 L1241.5,542.9 L1245.5,545.3 L1249.5,547.7 L1253.5,550.1 L1257.5,552.5 L1261.5,555.3 L1265.5,558.8 L1269.5,562.3 L1273.5,565.8 L1277.5,569.1 L1281.5,572.1 L1285.5,575.1 L1289.5,577.6 L1293.5,579.3 L1297.5,581.0 L1301.5,583.4 L1305.5,587.0 L1309.5,590.7 L1313.5,594.4 L1317.5,598.2 L1321.5,602.0 L1325.5,605.8 L1329.5,609.5 L1333.5,613.1 L1337.5,616.6 L1341.5,620.1 L1345.5,623.6 L1349.5,625.2 L1353.5,626.7 L1357.5,628.1 L1361.5,629.8 L1365.5,631.8 L1369.5,633.8 L1373.5,639.2 L1377.5,645.2 L1381.5,658.2 L1385.5,663.5 L1389.5,667.5 L1393.5,675.0 L1397.5,681.0 L1401.5,683.7 L1405.5,682.8 L1409.5,681.5 L1413.5,680.2 L1417.5,677.7 L1421.5,675.0 L1425.5,672.3 L1429.5,675.5 L1433.5,679.5 L1437.5,682.8 L1441.5,686.3 L1445.5,690.5"/>
<path stroke="#008040" d="M277.5,102.0 L278.5,102.3 L279.5,102.5 L280.5,102.8 L281.5,103.8 L282.5,103.8 L283.5,104.1 L284.5,104.2 L285.5,104.4 L286.5,104.6 L287.5,103.6 L288.5,103.7 L289.5,103.8 L290.5,103.9 L291.5,105.0 L292.5,105.0 L293.5,104.5 L294.5,104.6 L295.5,104.6 L296.5,105.6 L297.5,104.9 L298.5,105.6 L299.5,105.7 L300.5,105.7 L301.5,105.8 L302.5,105.8 L303.5,105.8 L304.5,105.9 L305.5,105.8 L306.5,105.8 L307.5,104.9 L308.5,104.6 L309.5,104.6 L310.5,104.7 L311.5,104.5 L312.5,104.5 L313.5,104.5 L314.5,104.5 L315.5,105.5 L316.5,105.5 L317.5,105.6 L318.5,105.6 L319.5,105.8 L320.5,105.8 L321.5,105.8 L322.5,105.9 L323.5,104.9 L324.5,105.0 L325.5,105.0 L326.5,105.1 L327.5,105.2 L328.5,105.2 L329.5,105.2 L330.5,105.2 L331.5,105.3 L332.5,106.0 L333.5,106.1 L334.5,106.4 L335.5,106.4 L336.5,106.4 L337.5,106.5 L338.5,105.9 L339.5,105.9 L340.5,106.0 L341.5,107.1 L342.5,106.6 L343.5,106.6 L344.5,106.7 L345.5,106.8 L346.5,106.1 L347.5,106.3 L348.5,106.4 L349.5,106.4 L350.5,106.5 L351.5,107.0 L352.5,107.0 L353.5,107.1 L354.5,107.2 L355.5,107.8 L356.5,107.9 L357.5,108.3 L358.5,108.4 L359.5,108.5 L360.5,107.6 L361.5,107.7 L362.5,107.4 L363.5,107.5 L364.5,107.6 L365.5,109.1 L366.5,109.2 L367.5,107.8 L368.5,107.9 L369.5,108.1 L370.5,108.4 L371.5,108.5 L372.5,109.1 L373.5,109.2 L374.5,109.4 L375.5,109.5 L376.5,109.9 L377.5,110.0 L378.5,110.7 L379.5,110.9 L380.5,111.0 L381.5,110.2 L382.5,110.3 L383.5,110.9 L384.5,111.1 L385.5,111.2 L386.5,110.9 L387.5,111.0 L388.5,111.1 L389.5,111.2 L390.5,111.2 L391.5,111.3 L392.5,111.4 L393.5,111.9 L394.5,112.1 L395.5,112.2 L396.5,112.4 L397.5,112.3 L398.5,113.4 L399.5,113.5 L400.5,113.7 L401.5,113.9 L402.5,113.2 L403.5,113.4 L404.5,113.6 L405.5,113.8 L406.5,114.8 L407.5,115.0 L408.5,115.2 L409.5,115.4 L410.5,114.7 L411.5,114.9 L412.5,115.1 L413.5,115.4 L414.5,116.0 L415.5,116.2 L416.5,116.4 L417.5,115.7 L418.5,115.9 L419.5,116.2 L420.5,116.4 L421.5,117.9 L422.5,118.1 L423.5,118.3 L424.5,118.5 L425.5,118.5 L426.5,118.7 L427.5,118.9 L428.5,119.1 L429.5,119.1 L430.5,119.3 L431.5,119.6 L432.5,119.3 L433.5,119.5 L434.5,120.4 L435.5,120.6 L436.5,120.9 L437.5,121.2 L438.5,121.1 L439.5,121.4 L440.5,121.9 L441.5,122.2 L442.5,121.5 L443.5,121.7 L444.5,122.0 L445.5,123.5 L446.5,123.6 L447.5,123.3 L448.5,123.6 L449.5,123.9 L450.5,124.2 L451.5,124.1 L452.5,125.3 L453.5,125.6 L454.5,125.9 L455.5,126.1 L456.5,126.4 L457.5,126.7 L458.5,127.0 L459.5,127.0 L460.5,127.3 L461.5,127.6 L462.5,128.3 L463.5,128.6 L464.5,128.4 L465.5,128.6 L466.5,128.4 L467.5,128.7 L468.5,128.9 L469.5,130.1 L470.5,130.8 L471.5,131.1 L472.5,131.3 L473.5,130.2 L474.5,130.5 L475.5,130.7 L476.5,132.1 L477.5,132.4 L478.5,132.6 L479.5,132.9 L480.5,133.0 L481.5,133.2 L482.5,133.0 L483.5,133.2 L484.5,133.6 L485.5,133.9 L486.5,134.2 L487.5,134.4 L488.5,134.8 L489.5,135.1 L490.5,135.3 L491.5,135.6 L492.5,135.9 L493.5,136.1 L494.5,136.3 L495.5,136.6 L496.5,136.8 L497.5,137.0 L498.5,136.8 L499.5,137.0 L500.5,137.4 L501.5,137.7 L502.5,137.9 L503.5,138.3 L504.5,138.5 L505.5,138.8 L506.5,138.9 L507.5,139.2 L508.5,139.4 L509.5,139.2 L510.5,139.2 L511.5,140.4 L512.5,140.6 L513.5,140.4 L514.5,140.7 L515.5,140.9 L516.5,141.2 L517.5,141.0 L518.5,141.3 L519.5,141.5 L520.5,141.8 L521.5,142.1 L522.5,142.4 L523.5,143.8 L524.5,144.1 L525.5,144.4 L526.5,143.8 L527.5,144.1 L528.5,144.6 L529.5,144.6 L530.5,144.8 L531.5,146.2 L532.5,146.5 L533.5,145.8 L534.5,146.1 L535.5,146.4 L536.5,146.3 L537.5,146.6 L538.5,146.9 L539.5,147.2 L540.5,148.2 L541.5,148.5 L542.5,148.8 L543.5,149.1 L544.5,148.9 L545.5,149.2 L546.5,150.4 L547.5,150.7 L548.5,149.9 L549.5,150.2 L550.5,150.8 L551.5,151.1 L552.5,151.4 L553.5,152.8 L554.5,152.5 L555.5,152.9 L556.5,153.2 L557.5,153.5 L558.5,154.4 L559.5,154.3 L560.5,154.7 L561.5,155.0 L562.5,155.3 L563.5,154.8 L564.5,155.1 L565.5,155.5 L566.5,155.8 L567.5,156.4 L568.5,156.7 L569.5,157.0 L570.5,158.2 L571.5,158.6 L572.5,158.9 L573.5,159.3 L574.5,158.6 L575.5,158.9 L576.5,159.3 L577.5,159.2 L578.5,159.5 L579.5,160.9 L580.5,161.3 L581.5,161.8 L582.5,162.1 L583.5,161.5 L584.5,161.9 L585.5,162.9 L586.5,163.3 L587.5,163.3 L588.5,163.6 L589.5,164.0 L590.5,164.2 L591.5,164.6 L592.5,165.5 L593.5,164.8 L594.5,165.1 L595.5,165.5 L596.5,165.8 L597.5,166.7 L598.5,167.6 L599.5,168.0 L600.5,168.3 L601.5,168.7 L602.5,169.1 L603.5,169.1 L604.5,169.5 L605.5,169.8 L606.5,170.2 L607.5,170.8 L608.5,171.2 L609.5,171.5 L610.5,171.7 L611.5,172.0 L612.5,172.6 L613.5,172.9 L614.5,173.3 L615.5,173.4 L616.5,173.7 L617.5,174.1 L618.5,174.2 L619.5,174.6 L620.5,174.6 L621.5,175.0 L622.5,175.3 L623.5,175.4 L624.5,175.7 L625.5,176.4 L626.5,176.8 L627.5,177.2 L628.5,177.6 L629.5,178.3 L630.5,178.7 L631.5,179.0 L632.5,179.4 L633.5,179.8 L634.5,180.1 L635.5,179.7 L636.5,180.1 L637.5,180.4 L638.5,181.3 L639.5,181.6 L640.5,182.0 L641.5,182.3 L642.5,182.5 L643.5,182.9 L644.5,183.2 L645.5,184.5 L646.5,184.5 L647.5,184.9 L648.5,185.3 L649.5,185.6 L650.5,186.2 L651.5,186.4 L652.5,186.8 L653.5,187.1 L654.5,186.9 L655.5,187.3 L656.5,187.7 L657.5,188.1 L658.5,188.5 L659.5,188.9 L660.5,188.8 L661.5,189.1 L662.5,189.7 L663.5,190.1 L664.5,191.5 L665.5,191.9 L666.5,191.1 L667.5,191.4 L668.5,193.0 L669.5,193.3 L670.5,193.8 L671.5,194.1 L672.5,194.3 L673.5,194.1 L674.5,194.4 L675.5,194.8 L676.5,194.8 L677.5,195.2 L678.5,195.6 L679.5,195.9 L680.5,196.3 L681.5,197.0 L682.5,198.4 L683.5,198.8 L684.5,199.2 L685.5,199.6 L686.5,199.3 L687.5,199.7 L688.5,200.4 L689.5,200.8 L690.5,201.3 L691.5,200.7 L692.5,201.2 L693.5,201.6 L694.5,202.0 L695.5,202.4 L696.5,202.8 L697.5,203.2 L698.5,203.7 L699.5,203.9 L700.5,204.3 L701.5,204.7 L702.5,205.7 L703.5,206.1 L704.5,206.5 L705.5,207.0 L706.5,207.2 L707.5,207.6 L708.5,208.0 L709.5,208.5 L710.5,209.7 L711.5,210.1 L712.5,210.6 L713.5,211.0 L714.5,211.2 L715.5,212.1 L716.5,212.5 L717.5,212.3 L718.5,213.1 L719.5,213.6 L720.5,214.1 L721.5,214.6 L722.5,215.0 L723.5,215.5 L724.5,216.2 L725.5,217.2 L726.5,217.7 L727.5,216.7 L728.5,217.2 L729.5,217.6 L730.5,218.8 L731.5,219.3 L732.5,219.8 L733.5,220.3 L734.5,220.1 L735.5,220.6 L736.5,221.2 L737.5,222.9 L738.5,223.4 L739.5,223.9 L740.5,224.1 L741.5,224.5 L742.5,225.0 L743.5,225.5 L744.5,225.4 L745.5,225.8 L746.5,226.3 L747.5,226.8 L748.5,227.5 L749.5,228.0 L750.5,228.5 L751.5,229.0 L752.5,229.3 L753.5,229.8 L754.5,231.0 L755.5,230.4 L756.5,230.9 L757.5,232.0 L758.5,232.5 L759.5,233.0 L760.5,233.5 L761.5,234.3 L762.5,234.8 L763.5,235.4 L764.5,235.9 L765.5,236.3 L766.5,235.8 L767.5,236.3 L768.5,236.8 L769.5,237.6 L770.5,238.1 L771.5,239.7 L772.5,240.2 L773.5,240.6 L774.5,241.1 L775.5,241.1 L776.5,241.6 L777.5,242.1 L778.5,242.5 L779.5,242.4 L780.5,242.9 L781.5,243.3 L782.5,243.8 L783.5,245.1 L784.5,245.2 L785.5,245.3 L786.5,245.8 L787.5,246.2 L788.5,246.7 L789.5,247.6 L790.5,248.1 L791.5,248.6 L792.5,249.0 L793.5,249.9 L794.5,250.3 L795.5,249.7 L796.5,250.2 L797.5,250.3 L798.5,250.8 L799.5,252.6 L800.5,252.7 L801.5,252.3 L802.5,252.8 L803.5,253.2 L804.5,254.2 L805.5,254.7 L806.5,255.1 L807.5,255.6 L808.5,256.5 L809.5,256.0 L810.5,256.5 L811.5,257.0 L812.5,257.4 L813.5,258.8 L814.5,259.3 L815.5,259.8 L816.5,260.2 L817.5,260.8 L818.5,261.2 L819.5,260.9 L820.5,261.4 L821.5,261.8 L822.5,263.6 L823.5,264.0 L824.5,264.1 L825.5,264.6 L826.5,265.0 L827.5,265.2 L828.5,265.7 L829.5,265.7 L830.5,266.2 L831.5,266.4 L832.5,267.1 L833.5,267.5 L834.5,268.0 L835.5,268.8 L836.5,269.2 L837.5,269.7 L838.5,270.2 L839.5,271.4 L840.5,271.9 L841.5,271.2 L842.5,271.7 L843.5,273.3 L844.5,273.2 L845.5,273.4 L846.5,273.9 L847.5,274.4 L848.5,274.8 L849.5,275.3 L850.5,275.8 L851.5,277.3 L852.5,277.8 L853.5,278.3 L854.5,277.9 L855.5,278.4 L856.5,278.4 L857.5,278.9 L858.5,279.4 L859.5,279.9 L860.5,280.8 L861.5,281.9 L862.5,282.4 L863.5,282.9 L864.5,283.4 L865.5,284.1 L866.5,284.7 L867.5,285.2 L868.5,285.7 L869.5,286.2 L870.5,286.6 L871.5,287.1 L872.5,287.6 L873.5,288.1 L874.5,288.0 L875.5,288.5 L876.5,289.1 L877.5,289.6 L878.5,290.1 L879.5,290.6 L880.5,290.8 L881.5,291.3 L882.5,292.6 L883.5,293.1 L884.5,293.6 L885.5,293.0 L886.5,293.5 L887.5,294.1 L888.5,294.6 L889.5,295.5 L890.5,296.0 L891.5,296.5 L892.5,297.1 L893.5,298.4 L894.5,298.9 L895.5,299.5 L896.5,300.0 L897.5,300.5 L898.5,301.1 L899.5,301.6 L900.5,301.6 L901.5,301.5 L902.5,302.1 L903.5,302.6 L904.5,302.7 L905.5,304.6 L906.5,305.1 L907.5,304.4 L908.5,305.0 L909.5,305.9 L910.5,306.4 L911.5,307.6 L912.5,308.2 L913.5,307.6 L914.5,308.1 L915.5,310.1 L916.5,310.7 L917.5,311.2 L918.5,311.2 L919.5,311.3 L920.5,311.8 L921.5,312.4 L922.5,313.8 L923.5,314.0 L924.5,314.6 L925.5,315.2 L926.5,315.8 L927.5,315.9 L928.5,316.5 L929.5,317.0 L930.5,317.6 L931.5,318.5 L932.5,318.6 L933.5,319.2 L934.5,320.3 L935.5,321.0 L936.5,321.4 L937.5,322.0 L938.5,322.6 L939.5,323.2 L940.5,324.0 L941.5,324.6 L942.5,325.2 L943.5,325.8 L944.5,326.8 L945.5,327.5 L946.5,327.4 L947.5,328.0 L948.5,328.7 L949.5,330.3 L950.5,330.9 L951.5,331.0 L952.5,331.6 L953.5,332.3 L954.5,332.9 L955.5,333.9 L956.5,334.6 L957.5,335.2 L958.5,336.1 L959.5,336.7 L960.5,337.3 L961.5,338.0 L962.5,338.6 L963.5,339.3 L964.5,339.8 L965.5,340.4 L966.5,340.2 L967.5,340.8 L968.5,341.5 L969.5,342.3 L970.5,342.9 L971.5,343.6 L972.5,344.2 L973.5,344.9 L974.5,345.5 L975.5,346.4 L976.5,347.1 L977.5,347.7 L978.5,347.8 L979.5,349.6 L980.5,350.2 L981.5,350.9 L982.5,351.6 L983.5,352.2 L984.5,352.7 L985.5,353.3 L986.5,354.3 L987.5,353.9 L988.5,354.5 L989.5,355.2 L990.5,356.0 L991.5,356.4 L992.5,357.1 L993.5,357.7 L994.5,359.0 L995.5,359.6 L996.5,360.5 L997.5,361.1 L998.5,361.8 L999.5,362.4 L1000.5,362.9 L1001.5,363.5 L1002.5,363.7 L1003.5,364.4 L1004.5,365.0 L1005.5,365.7 L1006.5,367.1 L1007.5,367.7 L1008.5,368.4 L1009.5,369.0 L1010.5,369.7 L1011.5,369.3 L1012.5,370.0 L1013.5,370.6 L1014.5,372.1 L1015.5,372.3 L1016.5,372.9 L1017.5,373.6 L1018.5,374.3 L1019.5,375.3 L1020.5,376.0 L1021.5,376.6 L1022.5,377.3 L1023.5,377.6 L1024.5,378.2 L1025.5,379.1 L1026.5,379.9 L1027.5,380.5 L1028.5,380.6 L1029.5,381.2 L1030.5,381.9 L1031.5,382.6 L1032.5,383.5 L1033.5,384.2 L1034.5,384.6 L1035.5,385.2 L1036.5,386.4 L1037.5,387.0 L1038.5,387.7 L1039.5,388.4 L1040.5,389.5 L1041.5,390.2 L1042.5,390.9 L1043.5,391.6 L1044.5,391.5 L1045.5,392.2 L1046.5,392.8 L1047.5,394.9 L1048.5,395.6 L1049.5,395.1 L1050.5,395.8 L1051.5,396.9 L1052.5,397.6 L1053.5,398.3 L1054.5,399.0 L1055.5,399.3 L1056.5,400.0 L1057.5,400.7 L1058.5,402.2 L1059.5,402.9 L1060.5,403.8 L1061.5,404.5 L1062.5,405.1 L1063.5,405.8 L1064.5,406.5 L1065.5,407.2 L1066.5,407.3 L1067.5,408.4 L1068.5,408.9 L1069.5,409.7 L1070.5,410.4 L1071.5,411.1 L1072.5,411.9 L1073.5,412.7 L1074.5,413.4 L1075.5,413.4 L1076.5,414.2 L1077.5,414.9 L1078.5,416.0 L1079.5,416.7 L1080.5,417.5 L1081.5,418.2 L1082.5,420.1 L1083.5,420.8 L1084.5,421.6 L1085.5,422.3 L1086.5,421.8 L1087.5,422.6 L1088.5,423.6 L1089.5,424.4 L1090.5,425.1 L1091.5,426.2 L1092.5,427.3 L1093.5,427.0 L1094.5,427.7 L1095.5,428.4 L1096.5,429.2 L1097.5,430.0 L1098.5,431.9 L1099.5,432.6 L1100.5,433.4 L1101.5,433.9 L1102.5,434.6 L1103.5,435.4 L1104.5,436.3 L1105.5,435.9 L1106.5,436.7 L1107.5,437.4 L1108.5,439.0 L1109.5,439.8 L1110.5,440.4 L1111.5,441.1 L1112.5,442.4 L1113.5,443.2 L1114.5,443.5 L1115.5,444.3 L1116.5,445.1 L1117.5,445.9 L1118.5,446.7 L1119.5,447.4 L1120.5,447.8 L1121.5,448.6 L1122.5,449.6 L1123.5,450.3 L1124.5,451.2 L1125.5,451.8 L1126.5,452.7 L1127.5,453.6 L1128.5,454.4 L1129.5,455.2 L1130.5,456.2 L1131.5,457.0 L1132.5,457.8 L1133.5,458.5 L1134.5,459.3 L1135.5,460.2 L1136.5,461.4 L1137.5,462.2 L1138.5,463.0 L1139.5,464.1 L1140.5,464.9 L1141.5,466.0 L1142.5,466.8 L1143.5,467.6 L1144.5,467.7 L1145.5,468.4 L1146.5,469.2 L1147.5,470.0 L1148.5,470.7 L1149.5,471.5 L1150.5,472.2 L1151.5,472.7 L1152.5,473.4 L1153.5,473.9 L1154.5,474.6 L1155.5,475.4 L1156.5,476.3 L1157.5,477.0 L1158.5,477.7 L1159.5,478.4 L1160.5,479.7 L1161.5,480.4 L1162.5,481.1 L1163.5,481.3 L1164.5,482.0 L1165.5,482.7 L1166.5,483.6 L1167.5,484.3 L1168.5,485.3 L1169.5,485.9 L1170.5,486.6 L1171.5,487.3 L1172.5,488.5 L1173.5,489.1 L1174.5,488.6 L1175.5,490.5 L1176.5,491.2 L1177.5,491.9 L1178.5,492.6 L1179.5,493.3 L1180.5,493.8 L1181.5,493.6 L1182.5,494.3 L1183.5,495.0 L1184.5,495.7 L1185.5,496.7 L1186.5,496.8 L1187.5,497.4 L1188.5,498.1 L1189.5,499.4 L1190.5,500.1 L1191.5,500.8 L1192.5,501.6 L1193.5,501.8 L1194.5,503.3 L1195.5,504.7 L1196.5,505.5 L1197.5,505.9 L1198.5,506.9 L1199.5,507.7 L1200.5,509.1 L1201.5,510.1 L1202.5,510.9 L1203.5,511.7 L1204.5,512.6 L1205.5,513.8 L1206.5,514.6 L1207.5,513.4 L1208.5,516.3 L1209.5,517.2 L1210.5,518.1 L1211.5,517.0 L1212.5,517.9 L1213.5,518.8 L1214.5,518.8 L1215.5,519.7 L1216.5,520.7 L1217.5,521.6 L1218.5,524.6 L1219.5,523.9 L1220.5,524.9 L1221.5,525.8 L1222.5,526.7 L1223.5,527.9 L1224.5,528.8 L1225.5,529.6 L1226.5,532.7 L1227.5,533.6 L1228.5,534.5 L1229.5,532.7 L1230.5,533.0 L1231.5,533.9 L1232.5,538.1 L1233.5,536.1 L1234.5,536.9 L1235.5,539.8 L1236.5,540.7 L1237.5,541.6 L1238.5,542.4 L1239.5,539.8 L1240.5,540.5 L1241.5,544.1 L1242.5,544.7 L1243.5,545.3 L1244.5,545.9 L1245.5,543.8 L1246.5,544.4 L1247.5,547.7 L1248.5,548.3 L1249.5,548.9 L1250.5,549.5 L1251.5,547.6 L1252.5,548.2 L1253.5,548.8 L1254.5,549.4 L1255.5,551.5 L1256.5,552.1 L1257.5,552.7 L1258.5,553.3 L1259.5,554.4 L1260.5,555.1 L1261.5,556.0 L1262.5,555.8 L1263.5,556.6 L1264.5,557.0 L1265.5,557.9 L1266.5,558.5 L1267.5,559.4 L1268.5,560.3 L1269.5,561.1 L1270.5,564.6 L1271.5,565.5 L1272.5,564.4 L1273.5,565.3 L1274.5,566.2 L1275.5,568.3 L1276.5,569.1 L1277.5,569.8 L1278.5,570.6 L1279.5,569.8 L1280.5,570.6 L1281.5,571.3 L1282.5,572.1 L1283.5,573.1 L1284.5,573.8 L1285.5,574.6 L1286.5,575.3 L1287.5,576.1 L1288.5,577.5 L1289.5,577.9 L1290.5,578.3 L1291.5,578.7 L1292.5,578.1 L1293.5,578.6 L1294.5,579.0 L1295.5,579.4 L1296.5,581.7 L1297.5,582.1 L1298.5,582.5 L1299.5,582.9 L1300.5,583.3 L1301.5,584.5 L1302.5,586.0 L1303.5,586.9 L1304.5,586.9 L1305.5,587.8 L1306.5,588.7 L1307.5,589.6 L1308.5,589.0 L1309.5,590.8 L1310.5,591.7 L1311.5,592.6 L1312.5,593.5 L1313.5,592.9 L1314.5,595.1 L1315.5,597.3 L1316.5,598.3 L1317.5,599.2 L1318.5,597.4 L1319.5,598.3 L1320.5,599.3 L1321.5,601.1 L1322.5,602.0 L1323.5,603.0 L1324.5,603.9 L1325.5,605.0 L1326.5,605.9 L1327.5,606.9 L1328.5,607.8 L1329.5,610.9 L1330.5,611.3 L1331.5,612.2 L1332.5,613.0 L1333.5,613.9 L1334.5,613.8 L1335.5,614.7 L1336.5,615.6 L1337.5,616.4 L1338.5,618.6 L1339.5,619.5 L1340.5,620.3 L1341.5,621.2 L1342.5,622.0 L1343.5,622.8 L1344.5,623.7 L1345.5,625.0 L1346.5,623.8 L1347.5,624.1 L1348.5,625.4 L1349.5,625.8 L1350.5,625.0 L1351.5,625.4 L1352.5,625.7 L1353.5,627.1 L1354.5,627.2 L1355.5,627.5 L1356.5,627.9 L1357.5,629.9 L1358.5,630.2 L1359.5,630.6 L1360.5,631.0 L1361.5,631.4 L1362.5,631.8 L1363.5,630.9 L1364.5,632.4 L1365.5,631.5 L1366.5,633.4 L1367.5,633.9 L1368.5,634.4 L1369.5,633.9 L1370.5,634.9 L1371.5,636.4 L1372.5,639.4 L1373.5,640.9 L1374.5,641.7 L1375.5,641.1 L1376.5,642.6 L1377.5,646.7 L1378.5,649.2 L1379.5,652.7 L1380.5,656.2 L1381.5,657.5 L1382.5,659.8 L1383.5,661.1 L1384.5,662.1 L1385.5,663.1 L1386.5,664.1 L1387.5,663.0 L1388.5,664.0 L1389.5,665.0 L1390.5,666.5 L1391.5,669.7 L1392.5,671.7 L1393.5,673.0 L1394.5,675.0 L1395.5,680.3 L1396.5,681.7 L1397.5,681.3 L1398.5,682.0 L1399.5,682.7 L1400.5,681.9 L1401.5,682.6 L1402.5,685.1 L1403.5,684.8 L1404.5,684.4 L1405.5,682.7 L1406.5,682.3 L1407.5,681.8 L1408.5,681.4 L1409.5,681.1 L1410.5,681.5 L1411.5,681.1 L1412.5,680.8 L1413.5,679.0 L1414.5,678.5 L1415.5,679.1 L1416.5,678.4 L1417.5,677.8 L1418.5,677.1 L1419.5,674.3 L1420.5,678.0 L1421.5,677.3 L1422.5,676.6 L1423.5,672.4 L1424.5,674.3 L1425.5,673.6 L1426.5,673.2 L1427.5,674.2 L1428.5,676.6 L1429.5,677.6 L1430.5,678.6 L1431.5,679.6 L1432.5,678.6 L1433.5,679.6 L1434.5,681.6 L1435.5,681.9 L1436.5,682.7 L1437.5,683.5 L1438.5,684.1 L1439.5,684.8 L1440.5,685.8 L1441.5,686.8 L1442.5,687.7 L1443.5,688.7 L1444.5,689.7 L1445.5,692.1 L1446.5,693.2"/>
<path stroke="none" fill="#008040" d="M1440.0,677 L1441.0,677 L1441.0,677 L1442.0,677 L1442.0,677 L1443.0,677 L1443.0,677 L1444.0,677 L1444.0,679 L1445.0,679 L1445.0,679 L1446.0,679 L1446.0,681 L1447.0,681 L1447.0,681 L1448.0,681 L1448.0,681 L1449.0,681 L1449.0,688 L1450.0,688 L1450.0,688 L1451.0,688 L1451.0,688 L1452.0,688 L1452.0,694 L1453.0,694 L1453.0,696 L1454.0,696 L1454.0,704 L1455.0,704 L1455.0,704 L1456.0,704 L1456.0,704 L1457.0,704 L1457.0,704 L1458.0,704 L1458.0,713 L1459.0,713 L1459.0,713 L1460.0,713 L1460.0,720 L1461.0,720 L1461.0,720 L1462.0,720 L1462.0,720 L1463.0,720 L1463.0,720 L1464.0,720 L1464.0,725 L1465.0,725 L1465.0,728 L1466.0,728 L1466.0,731 L1467.0,731 L1467.0,733 L1468.0,733 L1468.0,737 L1469.0,737 L1469.0,737 L1470.0,737 L1470.0,737 L1471.0,737 L1471.0,737 L1472.0,737 L1472.0,740 L1473.0,740 L1473.0,740 L1474.0,740 L1474.0,740 L1475.0,740 L1475.0,741 L1476.0,741 L1476.0,737 L1477.0,737 L1477.0,737 L1478.0,737 L1478.0,737 L1479.0,737 L1479.0,737 L1480.0,737 L1480.0,732 L1481.0,732 L1481.0,732 L1482.0,732 L1482.0,732 L1483.0,732 L1483.0,732 L1484.0,732 L1484.0,730 L1485.0,730 L1485.0,730 L1486.0,730 L1486.0,730 L1487.0,730 L1487.0,730 L1488.0,730 L1488.0,730 L1489.0,730 L1489.0,730 L1490.0,730 L1490.0,730 L1491.0,730 L1491.0,730 L1492.0,730 L1492.0,730 L1493.0,730 L1493.0,730 L1494.0,730 L1494.0,733 L1495.0,733 L1495.0,733 L1496.0,733 L1496.0,738 L1497.0,738 L1497.0,738 L1498.0,738 L1498.0,738 L1499.0,738 L1499.0,747 L1500.0,747 L1500.0,747 L1501.0,747 L1501.0,747 L1502.0,747 L1502.0,747 L1503.0,747 L1503.0,754 L1504.0,754 L1504.0,754 L1505.0,754 L1505.0,754 L1506.0,754 L1506.0,754 L1507.0,754 L1507.0,758 L1508.0,758 L1508.0,758 L1509.0,758 L1509.0,758 L1510.0,758 L1510.0,758 L1511.0,758 L1511.0,760 L1512.0,760 L1512.0,760 L1513.0,760 L1513.0,756 L1514.0,756 L1514.0,756 L1515.0,756 L1515.0,755 L1516.0,755 L1516.0,752 L1517.0,752 L1517.0,752 L1518.0,752 L1518.0,748 L1519.0,748 L1519.0,748 L1520.0,748 L1520.0,748 L1521.0,748 L1521.0,748 L1522.0,748 L1522.0,746 L1523.0,746 L1523.0,745 L1524.0,745 L1524.0,745 L1525.0,745 L1525.0,745 L1526.0,745 L1526.0,744 L1527.0,744 L1527.0,744 L1528.0,744 L1528.0,744 L1529.0,744 L1529.0,741 L1530.0,741 L1530.0,741 L1531.0,741 L1531.0,735 L1532.0,735 L1532.0,735 L1533.0,735 L1533.0,735 L1534.0,735 L1534.0,735 L1535.0,735 L1535.0,735 L1536.0,735 L1536.0,735 L1537.0,735 L1537.0,735 L1538.0,735 L1538.0,735 L1539.0,735 L1539.0,735 L1540.0,735 L1540.0,735 L1541.0,735 L1541.0,735 L1542.0,735 L1542.0,737 L1543.0,737 L1543.0,737 L1544.0,737 L1544.0,738 L1545.0,738 L1545.0,738 L1546.0,738 L1546.0,738 L1547.0,738 L1547.0,739 L1548.0,739 L1548.0,739 L1549.0,739 L1549.0,739 L1550.0,739 L1550.0,739 L1551.0,739 L1551.0,739 L1552.0,739 L1552.0,739 L1553.0,739 L1553.0,739 L1554.0,739 L1554.0,739 L1555.0,739 L1555.0,745 L1556.0,745 L1556.0,745 L1557.0,745 L1557.0,748 L1558.0,748 L1558.0,752 L1559.0,752 L1559.0,752 L1560.0,752 L1560.0,752 L1561.0,752 L1561.0,752 L1562.0,752 L1562.0,758 L1563.0,758 L1563.0,758 L1564.0,758 L1564.0,758 L1565.0,758 L1565.0,763 L1566.0,763 L1566.0,763 L1567.0,763 L1567.0,763 L1568.0,763 L1568.0,763 L1569.0,763 L1569.0,764 L1570.0,764 L1570.0,764 L1571.0,764 L1571.0,765 L1572.0,765 L1572.0,765 L1573.0,765 L1573.0,765 L1574.0,765 L1574.0,765 L1575.0,765 L1575.0,765 L1576.0,765 L1576.0,765 L1577.0,765 L1577.0,765 L1578.0,765 L1578.0,765 L1579.0,765 L1579.0,766 L1580.0,766 L1580.0,766 L1581.0,766 L1581.0,766 L1582.0,766 L1582.0,766 L1583.0,766 L1583.0,765 L1584.0,765 L1584.0,763 L1585.0,763 L1585.0,763 L1586.0,763 L1586.0,763 L1587.0,763 L1587.0,759 L1588.0,759 L1588.0,759 L1589.0,759 L1589.0,759 L1590.0,759 L1590.0,759 L1591.0,759 L1591.0,764 L1592.0,764 L1592.0,764 L1593.0,764 L1593.0,764 L1594.0,764 L1594.0,764 L1595.0,764 L1595.0,767 L1596.0,767 L1596.0,767 L1597.0,767 L1597.0,767 L1598.0,767 L1598.0,769 L1599.0,769 L1599.0,769 L1600.0,769 L1600.0,769 L1601.0,769 L1601.0,772 L1602.0,772 L1602.0,774 L1603.0,774 L1603.0,774 L1604.0,774 L1604.0,774 L1605.0,774 L1605.0,779 L1606.0,779 L1606.0,779 L1607.0,779 L1607.0,779 L1608.0,779 L1608.0,779 L1609.0,779 L1609.0,779 L1610.0,779 L1610.0,779 L1611.0,779 L1611.0,780 L1612.0,780 L1612.0,780 L1613.0,780 L1613.0,789 L1614.0,789 L1614.0,789 L1615.0,789 L1615.0,789 L1616.0,789 L1616.0,789 L1617.0,789 L1617.0,796 L1618.0,796 L1618.0,796 L1619.0,796 L1619.0,796 L1620.0,796 L1620.0,789 L1621.0,789 L1621.0,789 L1622.0,789 L1622.0,789 L1623.0,789 L1623.0,789 L1624.0,789 L1624.0,788 L1625.0,788 L1625.0,787 L1626.0,787 L1626.0,786 L1627.0,786 L1627.0,786 L1628.0,786 L1628.0,786 L1629.0,786 L1629.0,788 L1630.0,788 L1630.0,788 L1631.0,788 L1631.0,788 L1632.0,788 L1632.0,788 L1633.0,788 L1633.0,789 L1634.0,789 L1634.0,789 L1635.0,789 L1635.0,789 L1636.0,789 L1636.0,789 L1637.0,789 L1637.0,792 L1638.0,792 L1638.0,792 L1639.0,792 L1639.0,796 L1640.0,796 L1640.0,796 L1641.0,796 L1641.0,798 L1642.0,798 L1642.0,802 L1643.0,802 L1643.0,802 L1644.0,802 L1644.0,802 L1645.0,802 L1645.0,805 L1646.0,805 L1646.0,806 L1647.0,806 L1647.0,806 L1648.0,806 L1648.0,806 L1649.0,806 L1649.0,806 L1650.0,806 L1650.0,809 L1651.0,809 L1651.0,809 L1652.0,809 L1652.0,809 L1653.0,809 L1653.0,810 L1654.0,810 L1654.0,810 L1655.0,810 L1655.0,810 L1656.0,810 L1656.0,823 L1657.0,823 L1657.0,823 L1658.0,823 L1658.0,821 L1659.0,821 L1659.0,821 L1660.0,821 L1660.0,821 L1661.0,821 L1661.0,813 L1662.0,813 L1662.0,811 L1663.0,811 L1663.0,808 L1664.0,808 L1664.0,805 L1665.0,805 L1665.0,801 L1666.0,801 L1666.0,801 L1667.0,801 L1667.0,798 L1668.0,798 L1668.0,793 L1669.0,793 L1669.0,793 L1670.0,793 L1670.0,793 L1671.0,793 L1671.0,793 L1672.0,793 L1672.0,792 L1673.0,792 L1673.0,792 L1674.0,792 L1674.0,792 L1675.0,792 L1675.0,792 L1676.0,792 L1676.0,792 L1677.0,792 L1677.0,792 L1678.0,792 L1678.0,792 L1679.0,792 L1679.0,793 L1680.0,793 L1680.0,793 L1681.0,793 L1681.0,793 L1682.0,793 L1682.0,793 L1683.0,793 L1683.0,793 L1684.0,793 L1684.0,799 L1683.0,799 L1683.0,801 L1682.0,801 L1682.0,802 L1681.0,802 L1681.0,802 L1680.0,802 L1680.0,802 L1679.0,802 L1679.0,803 L1678.0,803 L1678.0,803 L1677.0,803 L1677.0,804 L1676.0,804 L1676.0,804 L1675.0,804 L1675.0,807 L1674.0,807 L1674.0,810 L1673.0,810 L1673.0,810 L1672.0,810 L1672.0,818 L1671.0,818 L1671.0,818 L1670.0,818 L1670.0,818 L1669.0,818 L1669.0,824 L1668.0,824 L1668.0,828 L1667.0,828 L1667.0,836 L1666.0,836 L1666.0,836 L1665.0,836 L1665.0,836 L1664.0,836 L1664.0,844 L1663.0,844 L1663.0,844 L1662.0,844 L1662.0,844 L1661.0,844 L1661.0,844 L1660.0,844 L1660.0,850 L1659.0,850 L1659.0,850 L1658.0,850 L1658.0,851 L1657.0,851 L1657.0,851 L1656.0,851 L1656.0,851 L1655.0,851 L1655.0,850 L1654.0,850 L1654.0,850 L1653.0,850 L1653.0,850 L1652.0,850 L1652.0,850 L1651.0,850 L1651.0,849 L1650.0,849 L1650.0,849 L1649.0,849 L1649.0,842 L1648.0,842 L1648.0,837 L1647.0,837 L1647.0,837 L1646.0,837 L1646.0,823 L1645.0,823 L1645.0,823 L1644.0,823 L1644.0,823 L1643.0,823 L1643.0,823 L1642.0,823 L1642.0,818 L1641.0,818 L1641.0,818 L1640.0,818 L1640.0,818 L1639.0,818 L1639.0,818 L1638.0,818 L1638.0,818 L1637.0,818 L1637.0,818 L1636.0,818 L1636.0,817 L1635.0,817 L1635.0,817 L1634.0,817 L1634.0,817 L1633.0,817 L1633.0,815 L1632.0,815 L1632.0,814 L1631.0,814 L1631.0,814 L1630.0,814 L1630.0,814 L1629.0,814 L1629.0,809 L1628.0,809 L1628.0,809 L1627.0,809 L1627.0,809 L1626.0,809 L1626.0,809 L1625.0,809 L1625.0,809 L1624.0,809 L1624.0,809 L1623.0,809 L1623.0,809 L1622.0,809 L1622.0,809 L1621.0,809 L1621.0,810 L1620.0,810 L1620.0,810 L1619.0,810 L1619.0,810 L1618.0,810 L1618.0,809 L1617.0,809 L1617.0,810 L1616.0,810 L1616.0,810 L1615.0,810 L1615.0,810 L1614.0,810 L1614.0,810 L1613.0,810 L1613.0,809 L1612.0,809 L1612.0,809 L1611.0,809 L1611.0,809 L1610.0,809 L1610.0,809 L1609.0,809 L1609.0,807 L1608.0,807 L1608.0,807 L1607.0,807 L1607.0,807 L1606.0,807 L1606.0,807 L1605.0,807 L1605.0,801 L1604.0,801 L1604.0,801 L1603.0,801 L1603.0,794 L1602.0,794 L1602.0,790 L1601.0,790 L1601.0,790 L1600.0,790 L1600.0,787 L1599.0,787 L1599.0,787 L1598.0,787 L1598.0,785 L1597.0,785 L1597.0,785 L1596.0,785 L1596.0,783 L1595.0,783 L1595.0,783 L1594.0,783 L1594.0,783 L1593.0,783 L1593.0,778 L1592.0,778 L1592.0,778 L1591.0,778 L1591.0,778 L1590.0,778 L1590.0,776 L1589.0,776 L1589.0,776 L1588.0,776 L1588.0,776 L1587.0,776 L1587.0,776 L1586.0,776 L1586.0,777 L1585.0,777 L1585.0,777 L1584.0,777 L1584.0,777 L1583.0,777 L1583.0,777 L1582.0,777 L1582.0,778 L1581.0,778 L1581.0,778 L1580.0,778 L1580.0,778 L1579.0,778 L1579.0,778 L1578.0,778 L1578.0,778 L1577.0,778 L1577.0,778 L1576.0,778 L1576.0,778 L1575.0,778 L1575.0,778 L1574.0,778 L1574.0,778 L1573.0,778 L1573.0,778 L1572.0,778 L1572.0,778 L1571.0,778 L1571.0,778 L1570.0,778 L1570.0,778 L1569.0,778 L1569.0,777 L1568.0,777 L1568.0,776 L1567.0,776 L1567.0,776 L1566.0,776 L1566.0,776 L1565.0,776 L1565.0,776 L1564.0,776 L1564.0,776 L1563.0,776 L1563.0,775 L1562.0,775 L1562.0,775 L1561.0,775 L1561.0,775 L1560.0,775 L1560.0,775 L1559.0,775 L1559.0,775 L1558.0,775 L1558.0,774 L1557.0,774 L1557.0,774 L1556.0,774 L1556.0,773 L1555.0,773 L1555.0,773 L1554.0,773 L1554.0,773 L1553.0,773 L1553.0,773 L1552.0,773 L1552.0,768 L1551.0,768 L1551.0,766 L1550.0,766 L1550.0,764 L1549.0,764 L1549.0,764 L1548.0,764 L1548.0,759 L1547.0,759 L1547.0,759 L1546.0,759 L1546.0,759 L1545.0,759 L1545.0,759 L1544.0,759 L1544.0,759 L1543.0,759 L1543.0,759 L1542.0,759 L1542.0,759 L1541.0,759 L1541.0,759 L1540.0,759 L1540.0,759 L1539.0,759 L1539.0,759 L1538.0,759 L1538.0,757 L1537.0,757 L1537.0,757 L1536.0,757 L1536.0,757 L1535.0,757 L1535.0,757 L1534.0,757 L1534.0,756 L1533.0,756 L1533.0,756 L1532.0,756 L1532.0,756 L1531.0,756 L1531.0,760 L1530.0,760 L1530.0,764 L1529.0,764 L1529.0,764 L1528.0,764 L1528.0,764 L1527.0,764 L1527.0,764 L1526.0,764 L1526.0,769 L1525.0,769 L1525.0,769 L1524.0,769 L1524.0,769 L1523.0,769 L1523.0,771 L1522.0,771 L1522.0,771 L1521.0,771 L1521.0,772 L1520.0,772 L1520.0,772 L1519.0,772 L1519.0,772 L1518.0,772 L1518.0,774 L1517.0,774 L1517.0,773 L1516.0,773 L1516.0,774 L1515.0,774 L1515.0,774 L1514.0,774 L1514.0,774 L1513.0,774 L1513.0,774 L1512.0,774 L1512.0,776 L1511.0,776 L1511.0,776 L1510.0,776 L1510.0,776 L1509.0,776 L1509.0,776 L1508.0,776 L1508.0,775 L1507.0,775 L1507.0,775 L1506.0,775 L1506.0,776 L1505.0,776 L1505.0,776 L1504.0,776 L1504.0,776 L1503.0,776 L1503.0,776 L1502.0,776 L1502.0,771 L1501.0,771 L1501.0,771 L1500.0,771 L1500.0,771 L1499.0,771 L1499.0,767 L1498.0,767 L1498.0,762 L1497.0,762 L1497.0,762 L1496.0,762 L1496.0,762 L1495.0,762 L1495.0,762 L1494.0,762 L1494.0,756 L1493.0,756 L1493.0,756 L1492.0,756 L1492.0,756 L1491.0,756 L1491.0,752 L1490.0,752 L1490.0,752 L1489.0,752 L1489.0,752 L1488.0,752 L1488.0,751 L1487.0,751 L1487.0,751 L1486.0,751 L1486.0,752 L1485.0,752 L1485.0,752 L1484.0,752 L1484.0,754 L1483.0,754 L1483.0,754 L1482.0,754 L1482.0,754 L1481.0,754 L1481.0,754 L1480.0,754 L1480.0,753 L1479.0,753 L1479.0,753 L1478.0,753 L1478.0,753 L1477.0,753 L1477.0,753 L1476.0,753 L1476.0,753 L1475.0,753 L1475.0,753 L1474.0,753 L1474.0,752 L1473.0,752 L1473.0,752 L1472.0,752 L1472.0,752 L1471.0,752 L1471.0,752 L1470.0,752 L1470.0,752 L1469.0,752 L1469.0,752 L1468.0,752 L1468.0,752 L1467.0,752 L1467.0,752 L1466.0,752 L1466.0,749 L1465.0,749 L1465.0,749 L1464.0,749 L1464.0,749 L1463.0,749 L1463.0,749 L1462.0,749 L1462.0,747 L1461.0,747 L1461.0,747 L1460.0,747 L1460.0,744 L1459.0,744 L1459.0,744 L1458.0,744 L1458.0,744 L1457.0,744 L1457.0,742 L1456.0,742 L1456.0,742 L1455.0,742 L1455.0,742 L1454.0,742 L1454.0,742 L1453.0,742 L1453.0,727 L1452.0,727 L1452.0,727 L1451.0,727 L1451.0,727 L1450.0,727 L1450.0,711 L1449.0,711 L1449.0,711 L1448.0,711 L1448.0,711 L1447.0,711 L1447.0,702 L1446.0,702 L1446.0,702 L1445.0,702 L1445.0,702 L1444.0,702 L1444.0,702 L1443.0,702 L1443.0,695 L1442.0,695 L1442.0,695 L1441.0,695 L1441.0,695 L1440.0,695Z"/>
<path stroke="#808000" stroke-width="9" d="M277.5,102.0 L281.5,101.8 L285.5,101.7 L289.5,101.6 L293.5,101.6 L297.5,101.5 L301.5,101.5 L305.5,101.5 L309.5,101.5 L313.5,101.5 L317.5,101.6 L321.5,101.8 L325.5,102.0 L329.5,102.2 L333.5,102.5 L337.5,102.8 L341.5,103.2 L345.5,103.6 L349.5,104.0 L353.5,104.4 L357.5,105.1 L361.5,106.0 L365.5,106.9 L369.5,107.9 L373.5,108.9 L377.5,109.9 L381.5,110.8 L385.5,111.8 L389.5,112.9 L393.5,114.0 L397.5,115.2 L401.5,116.4 L405.5,117.7 L409.5,119.0 L413.5,120.3 L417.5,121.7 L421.5,123.0 L425.5,124.4 L429.5,125.8 L433.5,127.2 L437.5,128.6 L441.5,130.0 L445.5,131.4 L449.5,132.8 L453.5,134.3 L457.5,135.8 L461.5,137.4 L465.5,139.1 L469.5,140.8 L473.5,142.6 L477.5,144.6 L481.5,146.7 L485.5,148.8 L489.5,151.1 L493.5,153.4 L497.5,155.8 L501.5,158.2 L505.5,160.6 L509.5,163.0 L513.5,165.4 L517.5,167.7 L521.5,170.0 L525.5,172.2 L529.5,174.2 L533.5,176.2 L537.5,178.1 L541.5,179.9 L545.5,181.7 L549.5,183.4 L553.5,185.2 L557.5,187.0 L561.5,188.8 L565.5,190.7 L569.5,192.7 L573.5,194.9 L577.5,197.1 L581.5,199.3 L585.5,201.7 L589.5,204.1 L593.5,206.5 L597.5,209.0 L601.5,211.5 L605.5,214.1 L609.5,216.6 L613.5,219.1 L617.5,221.7 L621.5,224.2 L625.5,226.8 L629.5,229.3 L633.5,231.9 L637.5,234.5 L641.5,237.1 L645.5,239.7 L649.5,242.3 L653.5,244.9 L657.5,247.6 L661.5,250.3 L665.5,253.0 L669.5,255.7 L673.5,258.4 L677.5,261.2 L681.5,264.0 L685.5,266.8 L689.5,269.6 L693.5,272.5 L697.5,275.3 L701.5,278.2 L705.5,281.1 L709.5,284.0 L713.5,286.9 L717.5,289.9 L721.5,292.9 L725.5,296.1 L729.5,299.2 L733.5,302.5 L737.5,305.9 L741.5,309.3 L745.5,313.0 L749.5,316.8 L753.5,320.8 L757.5,324.9 L761.5,329.0 L765.5,333.2 L769.5,337.4 L773.5,341.5 L777.5,345.5 L781.5,349.5 L785.5,353.3 L789.5,357.1 L793.5,360.9 L797.5,364.7 L801.5,368.4 L805.5,372.2 L809.5,375.9 L813.5,379.7 L817.5,383.6 L821.5,387.5 L825.5,391.4 L829.5,395.3 L833.5,399.2 L837.5,403.2 L841.5,407.1 L845.5,411.1 L849.5,415.2 L853.5,419.3 L857.5,423.4 L861.5,427.6 L865.5,431.8 L869.5,436.1 L873.5,440.5 L877.5,444.9 L881.5,449.3 L885.5,453.7 L889.5,458.2 L893.5,462.7 L897.5,467.2 L901.5,471.7 L905.5,476.2 L909.5,480.6 L913.5,485.1 L917.5,489.6 L921.5,494.1 L925.5,498.7 L929.5,503.4 L933.5,508.1 L937.5,512.9 L941.5,517.9 L945.5,523.0 L949.5,528.2 L953.5,533.6 L957.5,539.0 L961.5,544.5 L965.5,549.9 L969.5,555.3 L973.5,560.6 L977.5,565.9 L981.5,571.1 L985.5,576.3 L989.5,581.6 L993.5,587.0 L997.5,592.5 L1001.5,598.1 L1005.5,604.0 L1009.5,609.9 L1013.5,616.0 L1017.5,622.1 L1021.5,628.4 L1025.5,634.9 L1029.5,641.6 L1033.5,648.2 L1037.5,654.4 L1041.5,660.0 L1045.5,664.8 L1049.5,669.3 L1053.5,673.7 L1057.5,678.6 L1061.5,684.3 L1065.5,691.1 L1069.5,698.8 L1073.5,706.6 L1077.5,713.9 L1081.5,720.2 L1085.5,725.8 L1089.5,730.8 L1093.5,735.7 L1097.5,740.8 L1101.5,746.2 L1105.5,752.5 L1109.5,759.9 L1113.5,767.9 L1117.5,775.7 L1121.5,782.4 L1125.5,788.3 L1129.5,793.9 L1133.5,799.2 L1137.5,804.6 L1141.5,810.1 L1145.5,815.3 L1149.5,820.6 L1153.5,826.2 L1157.5,832.5 L1161.5,840.4 L1165.5,848.2 L1169.5,854.0 L1173.5,859.3 L1177.5,864.3 L1181.5,868.6 L1185.5,871.7 L1189.5,873.0 L1193.5,872.8 L1197.5,879.3"/>
<path stroke="#808000" d="M277.5,102.0 L278.5,102.0 L279.5,101.9 L280.5,101.9 L281.5,101.8 L282.5,101.1 L283.5,101.0 L284.5,101.0 L285.5,102.5 L286.5,100.9 L287.5,100.9 L288.5,101.6 L289.5,101.6 L290.5,101.6 L291.5,101.9 L292.5,101.9 L293.5,101.9 L294.5,101.3 L295.5,101.6 L296.5,101.6 L297.5,101.3 L298.5,101.2 L299.5,101.2 L300.5,100.8 L301.5,100.8 L302.5,100.8 L303.5,100.8 L304.5,102.1 L305.5,102.1 L306.5,102.1 L307.5,102.1 L308.5,101.2 L309.5,101.7 L310.5,101.7 L311.5,101.7 L312.5,101.7 L313.5,102.1 L314.5,101.0 L315.5,101.0 L316.5,101.4 L317.5,101.5 L318.5,101.5 L319.5,100.9 L320.5,100.9 L321.5,102.5 L322.5,102.6 L323.5,101.3 L324.5,101.3 L325.5,102.6 L326.5,102.6 L327.5,102.6 L328.5,102.7 L329.5,102.7 L330.5,102.8 L331.5,102.0 L332.5,102.0 L333.5,102.1 L334.5,102.2 L335.5,102.7 L336.5,102.8 L337.5,102.9 L338.5,103.0 L339.5,103.1 L340.5,103.8 L341.5,103.8 L342.5,103.9 L343.5,104.0 L344.5,104.1 L345.5,103.7 L346.5,103.8 L347.5,103.2 L348.5,103.2 L349.5,103.3 L350.5,103.4 L351.5,103.5 L352.5,103.7 L353.5,103.8 L354.5,104.0 L355.5,104.4 L356.5,104.6 L357.5,104.8 L358.5,105.0 L359.5,105.2 L360.5,105.1 L361.5,105.3 L362.5,105.6 L363.5,105.8 L364.5,106.0 L365.5,107.2 L366.5,107.4 L367.5,107.7 L368.5,107.9 L369.5,108.2 L370.5,108.5 L371.5,108.7 L372.5,108.9 L373.5,109.2 L374.5,109.4 L375.5,109.7 L376.5,109.7 L377.5,110.0 L378.5,110.2 L379.5,109.7 L380.5,110.1 L381.5,110.4 L382.5,110.6 L383.5,110.8 L384.5,111.1 L385.5,111.3 L386.5,111.6 L387.5,112.4 L388.5,112.6 L389.5,112.9 L390.5,113.0 L391.5,113.3 L392.5,113.6 L393.5,114.5 L394.5,114.8 L395.5,114.5 L396.5,114.8 L397.5,114.8 L398.5,115.1 L399.5,115.4 L400.5,116.3 L401.5,116.3 L402.5,116.6 L403.5,116.9 L404.5,117.3 L405.5,118.0 L406.5,118.8 L407.5,119.1 L408.5,119.4 L409.5,119.7 L410.5,119.9 L411.5,120.3 L412.5,120.6 L413.5,120.9 L414.5,120.7 L415.5,121.1 L416.5,121.4 L417.5,122.2 L418.5,122.6 L419.5,121.7 L420.5,122.0 L421.5,122.4 L422.5,123.6 L423.5,123.9 L424.5,124.3 L425.5,124.6 L426.5,124.1 L427.5,124.4 L428.5,125.8 L429.5,126.2 L430.5,126.5 L431.5,127.2 L432.5,127.6 L433.5,127.9 L434.5,128.3 L435.5,127.9 L436.5,128.2 L437.5,128.6 L438.5,129.6 L439.5,130.0 L440.5,130.2 L441.5,130.5 L442.5,130.9 L443.5,131.2 L444.5,130.9 L445.5,131.3 L446.5,131.4 L447.5,131.7 L448.5,132.0 L449.5,132.3 L450.5,133.7 L451.5,134.1 L452.5,133.3 L453.5,133.7 L454.5,134.0 L455.5,134.4 L456.5,134.7 L457.5,135.1 L458.5,136.9 L459.5,135.9 L460.5,136.7 L461.5,137.1 L462.5,137.3 L463.5,137.7 L464.5,138.2 L465.5,139.4 L466.5,139.8 L467.5,140.2 L468.5,139.6 L469.5,140.9 L470.5,141.3 L471.5,141.3 L472.5,141.7 L473.5,142.2 L474.5,142.7 L475.5,143.8 L476.5,144.3 L477.5,144.3 L478.5,144.8 L479.5,145.5 L480.5,146.1 L481.5,146.7 L482.5,147.3 L483.5,147.8 L484.5,148.3 L485.5,149.4 L486.5,149.9 L487.5,150.5 L488.5,151.1 L489.5,151.2 L490.5,151.8 L491.5,152.2 L492.5,152.8 L493.5,153.4 L494.5,154.0 L495.5,154.6 L496.5,155.2 L497.5,155.8 L498.5,156.8 L499.5,157.4 L500.5,158.0 L501.5,157.9 L502.5,158.5 L503.5,159.1 L504.5,160.6 L505.5,161.2 L506.5,161.8 L507.5,162.4 L508.5,163.1 L509.5,163.7 L510.5,163.0 L511.5,164.6 L512.5,165.2 L513.5,165.8 L514.5,165.6 L515.5,166.2 L516.5,166.8 L517.5,168.3 L518.5,168.9 L519.5,169.4 L520.5,168.7 L521.5,169.3 L522.5,169.8 L523.5,171.3 L524.5,172.1 L525.5,171.4 L526.5,172.9 L527.5,173.1 L528.5,173.6 L529.5,174.2 L530.5,175.3 L531.5,175.8 L532.5,176.5 L533.5,176.7 L534.5,177.1 L535.5,177.6 L536.5,178.1 L537.5,177.5 L538.5,178.0 L539.5,179.2 L540.5,178.8 L541.5,179.9 L542.5,180.4 L543.5,180.8 L544.5,181.3 L545.5,181.5 L546.5,181.8 L547.5,182.2 L548.5,182.6 L549.5,183.0 L550.5,183.2 L551.5,183.7 L552.5,184.7 L553.5,185.1 L554.5,186.0 L555.5,186.4 L556.5,186.9 L557.5,187.7 L558.5,188.2 L559.5,187.6 L560.5,188.1 L561.5,188.6 L562.5,189.1 L563.5,190.0 L564.5,190.5 L565.5,191.0 L566.5,191.5 L567.5,191.6 L568.5,192.1 L569.5,192.7 L570.5,193.2 L571.5,193.7 L572.5,193.7 L573.5,194.2 L574.5,194.8 L575.5,196.0 L576.5,196.6 L577.5,197.1 L578.5,197.2 L579.5,198.4 L580.5,199.6 L581.5,199.0 L582.5,199.5 L583.5,200.1 L584.5,200.7 L585.5,201.7 L586.5,202.3 L587.5,202.9 L588.5,203.4 L589.5,204.5 L590.5,205.0 L591.5,205.6 L592.5,206.1 L593.5,206.7 L594.5,207.3 L595.5,207.9 L596.5,208.5 L597.5,209.7 L598.5,210.3 L599.5,211.0 L600.5,211.6 L601.5,212.2 L602.5,212.9 L603.5,213.4 L604.5,212.8 L605.5,213.4 L606.5,214.1 L607.5,214.7 L608.5,216.4 L609.5,216.3 L610.5,216.9 L611.5,217.2 L612.5,217.8 L613.5,218.7 L614.5,219.3 L615.5,219.9 L616.5,220.4 L617.5,221.0 L618.5,222.2 L619.5,222.8 L620.5,224.2 L621.5,224.8 L622.5,225.4 L623.5,226.1 L624.5,225.8 L625.5,227.2 L626.5,227.9 L627.5,228.5 L628.5,228.8 L629.5,229.4 L630.5,229.5 L631.5,230.1 L632.5,230.8 L633.5,231.4 L634.5,232.7 L635.5,232.8 L636.5,233.4 L637.5,234.1 L638.5,235.3 L639.5,235.4 L640.5,236.0 L641.5,237.1 L642.5,237.8 L643.5,237.6 L644.5,238.3 L645.5,239.3 L646.5,240.0 L647.5,240.6 L648.5,242.2 L649.5,241.6 L650.5,242.2 L651.5,243.1 L652.5,244.6 L653.5,245.2 L654.5,244.9 L655.5,245.6 L656.5,246.2 L657.5,248.2 L658.5,248.8 L659.5,249.5 L660.5,250.2 L661.5,249.8 L662.5,250.5 L663.5,251.2 L664.5,253.0 L665.5,253.6 L666.5,254.3 L667.5,254.8 L668.5,255.5 L669.5,256.2 L670.5,256.8 L671.5,256.4 L672.5,257.1 L673.5,258.5 L674.5,259.1 L675.5,259.8 L676.5,261.1 L677.5,261.8 L678.5,262.0 L679.5,262.7 L680.5,262.6 L681.5,263.3 L682.5,264.0 L683.5,264.7 L684.5,265.9 L685.5,267.6 L686.5,268.3 L687.5,268.1 L688.5,268.7 L689.5,269.4 L690.5,270.1 L691.5,270.4 L692.5,271.1 L693.5,273.0 L694.5,273.7 L695.5,274.4 L696.5,275.1 L697.5,275.2 L698.5,276.4 L699.5,277.1 L700.5,277.8 L701.5,277.6 L702.5,278.3 L703.5,279.1 L704.5,280.2 L705.5,280.9 L706.5,281.1 L707.5,281.9 L708.5,283.2 L709.5,283.5 L710.5,284.2 L711.5,285.0 L712.5,286.2 L713.5,286.9 L714.5,287.7 L715.5,288.4 L716.5,289.7 L717.5,290.5 L718.5,291.3 L719.5,292.1 L720.5,292.8 L721.5,293.1 L722.5,293.9 L723.5,294.6 L724.5,295.4 L725.5,296.2 L726.5,297.0 L727.5,297.8 L728.5,298.4 L729.5,299.0 L730.5,299.8 L731.5,300.6 L732.5,301.0 L733.5,301.8 L734.5,302.6 L735.5,304.0 L736.5,305.1 L737.5,305.9 L738.5,306.8 L739.5,307.0 L740.5,307.9 L741.5,308.8 L742.5,309.7 L743.5,310.4 L744.5,312.7 L745.5,313.7 L746.5,314.6 L747.5,315.6 L748.5,315.9 L749.5,316.9 L750.5,317.7 L751.5,318.7 L752.5,319.6 L753.5,320.0 L754.5,321.0 L755.5,322.0 L756.5,323.1 L757.5,324.1 L758.5,325.1 L759.5,326.2 L760.5,327.2 L761.5,328.7 L762.5,329.7 L763.5,330.8 L764.5,332.0 L765.5,333.1 L766.5,334.1 L767.5,334.6 L768.5,335.6 L769.5,336.6 L770.5,337.7 L771.5,340.2 L772.5,341.2 L773.5,342.3 L774.5,341.9 L775.5,343.9 L776.5,344.9 L777.5,345.9 L778.5,346.8 L779.5,347.8 L780.5,348.8 L781.5,349.8 L782.5,350.8 L783.5,351.8 L784.5,352.7 L785.5,352.7 L786.5,355.1 L787.5,356.0 L788.5,357.0 L789.5,357.9 L790.5,357.6 L791.5,358.5 L792.5,359.5 L793.5,360.4 L794.5,361.6 L795.5,362.6 L796.5,364.3 L797.5,365.3 L798.5,366.2 L799.5,366.6 L800.5,367.5 L801.5,368.8 L802.5,369.7 L803.5,370.6 L804.5,371.6 L805.5,372.2 L806.5,372.4 L807.5,374.6 L808.5,375.6 L809.5,376.5 L810.5,377.5 L811.5,377.0 L812.5,378.0 L813.5,378.9 L814.5,380.7 L815.5,381.6 L816.5,382.6 L817.5,383.5 L818.5,384.6 L819.5,384.9 L820.5,386.0 L821.5,387.0 L822.5,387.9 L823.5,389.7 L824.5,390.7 L825.5,391.6 L826.5,392.6 L827.5,393.0 L828.5,394.0 L829.5,395.0 L830.5,396.0 L831.5,396.8 L832.5,397.8 L833.5,398.7 L834.5,399.5 L835.5,400.4 L836.5,401.4 L837.5,402.8 L838.5,403.8 L839.5,404.7 L840.5,405.7 L841.5,407.3 L842.5,408.3 L843.5,409.3 L844.5,410.3 L845.5,410.9 L846.5,411.9 L847.5,413.3 L848.5,414.5 L849.5,415.2 L850.5,416.2 L851.5,416.9 L852.5,417.9 L853.5,419.0 L854.5,420.3 L855.5,421.5 L856.5,423.1 L857.5,422.9 L858.5,424.0 L859.5,425.8 L860.5,426.9 L861.5,428.2 L862.5,429.3 L863.5,430.3 L864.5,431.4 L865.5,431.4 L866.5,432.5 L867.5,434.6 L868.5,435.7 L869.5,436.8 L870.5,437.9 L871.5,438.6 L872.5,439.7 L873.5,440.8 L874.5,441.8 L875.5,443.4 L876.5,444.5 L877.5,445.0 L878.5,446.1 L879.5,447.2 L880.5,448.3 L881.5,448.6 L882.5,449.7 L883.5,450.8 L884.5,452.2 L885.5,453.3 L886.5,454.7 L887.5,455.8 L888.5,456.9 L889.5,459.0 L890.5,460.1 L891.5,461.2 L892.5,462.3 L893.5,462.9 L894.5,464.0 L895.5,464.4 L896.5,465.5 L897.5,466.9 L898.5,468.0 L899.5,469.1 L900.5,470.0 L901.5,472.4 L902.5,473.5 L903.5,474.7 L904.5,475.8 L905.5,476.0 L906.5,477.1 L907.5,478.2 L908.5,479.5 L909.5,480.7 L910.5,481.7 L911.5,482.8 L912.5,483.9 L913.5,485.0 L914.5,486.1 L915.5,487.0 L916.5,488.1 L917.5,489.2 L918.5,490.4 L919.5,491.3 L920.5,492.5 L921.5,493.6 L922.5,494.6 L923.5,495.8 L924.5,496.9 L925.5,498.1 L926.5,499.8 L927.5,500.9 L928.5,502.6 L929.5,503.8 L930.5,505.0 L931.5,506.2 L932.5,506.3 L933.5,507.5 L934.5,509.7 L935.5,510.2 L936.5,511.4 L937.5,513.3 L938.5,514.5 L939.5,515.7 L940.5,517.0 L941.5,517.1 L942.5,518.4 L943.5,519.7 L944.5,521.0 L945.5,523.4 L946.5,524.7 L947.5,525.6 L948.5,527.0 L949.5,529.0 L950.5,529.9 L951.5,531.2 L952.5,532.5 L953.5,534.2 L954.5,535.5 L955.5,536.9 L956.5,537.6 L957.5,538.9 L958.5,540.3 L959.5,541.4 L960.5,542.8 L961.5,544.7 L962.5,546.0 L963.5,547.4 L964.5,548.8 L965.5,550.1 L966.5,551.0 L967.5,552.3 L968.5,553.6 L969.5,555.0 L970.5,556.5 L971.5,557.8 L972.5,558.9 L973.5,560.2 L974.5,561.5 L975.5,562.8 L976.5,564.3 L977.5,565.3 L978.5,566.6 L979.5,567.9 L980.5,570.1 L981.5,571.4 L982.5,572.7 L983.5,574.5 L984.5,575.8 L985.5,577.1 L986.5,578.3 L987.5,579.6 L988.5,581.0 L989.5,582.3 L990.5,583.4 L991.5,584.3 L992.5,585.6 L993.5,587.2 L994.5,588.6 L995.5,589.1 L996.5,590.5 L997.5,591.9 L998.5,594.4 L999.5,595.8 L1000.5,596.7 L1001.5,598.1 L1002.5,599.6 L1003.5,601.0 L1004.5,602.4 L1005.5,604.1 L1006.5,605.5 L1007.5,606.8 L1008.5,608.3 L1009.5,609.8 L1010.5,611.3 L1011.5,612.7 L1012.5,614.8 L1013.5,616.4 L1014.5,617.9 L1015.5,619.4 L1016.5,621.0 L1017.5,622.5 L1018.5,623.7 L1019.5,625.2 L1020.5,626.3 L1021.5,627.9 L1022.5,629.5 L1023.5,631.1 L1024.5,633.9 L1025.5,635.6 L1026.5,636.3 L1027.5,637.9 L1028.5,639.6 L1029.5,641.1 L1030.5,642.8 L1031.5,645.6 L1032.5,645.9 L1033.5,647.6 L1034.5,649.6 L1035.5,651.7 L1036.5,653.2 L1037.5,654.7 L1038.5,656.2 L1039.5,657.2 L1040.5,658.6 L1041.5,660.4 L1042.5,661.6 L1043.5,662.9 L1044.5,663.7 L1045.5,664.9 L1046.5,666.0 L1047.5,667.1 L1048.5,667.9 L1049.5,669.0 L1050.5,670.5 L1051.5,671.6 L1052.5,672.2 L1053.5,674.3 L1054.5,675.5 L1055.5,675.9 L1056.5,677.1 L1057.5,678.8 L1058.5,680.1 L1059.5,681.3 L1060.5,682.5 L1061.5,684.0 L1062.5,685.6 L1063.5,687.8 L1064.5,690.1 L1065.5,691.9 L1066.5,693.8 L1067.5,695.7 L1068.5,697.3 L1069.5,699.3 L1070.5,701.4 L1071.5,703.4 L1072.5,703.9 L1073.5,705.8 L1074.5,707.7 L1075.5,711.0 L1076.5,712.2 L1077.5,714.0 L1078.5,715.7 L1079.5,717.6 L1080.5,718.0 L1081.5,719.5 L1082.5,720.9 L1083.5,722.3 L1084.5,723.7 L1085.5,725.0 L1086.5,726.4 L1087.5,727.7 L1088.5,729.5 L1089.5,730.7 L1090.5,732.0 L1091.5,733.2 L1092.5,733.8 L1093.5,735.1 L1094.5,736.3 L1095.5,738.0 L1096.5,739.3 L1097.5,741.4 L1098.5,742.7 L1099.5,744.0 L1100.5,746.2 L1101.5,746.7 L1102.5,748.1 L1103.5,749.7 L1104.5,751.2 L1105.5,752.2 L1106.5,754.0 L1107.5,755.8 L1108.5,757.1 L1109.5,759.0 L1110.5,761.0 L1111.5,763.0 L1112.5,765.1 L1113.5,766.9 L1114.5,768.9 L1115.5,771.5 L1116.5,773.4 L1117.5,775.3 L1118.5,777.1 L1119.5,778.6 L1120.5,780.2 L1121.5,781.9 L1122.5,783.4 L1123.5,784.9 L1124.5,785.8 L1125.5,787.3 L1126.5,788.7 L1127.5,790.1 L1128.5,791.6 L1129.5,793.0 L1130.5,794.3 L1131.5,795.6 L1132.5,797.1 L1133.5,798.6 L1134.5,800.0 L1135.5,801.3 L1136.5,802.6 L1137.5,803.9 L1138.5,807.7 L1139.5,809.1 L1140.5,810.5 L1141.5,811.8 L1142.5,812.6 L1143.5,814.0 L1144.5,815.3 L1145.5,814.3 L1146.5,815.7 L1147.5,817.0 L1148.5,818.3 L1149.5,821.5 L1150.5,823.1 L1151.5,822.3 L1152.5,823.7 L1153.5,825.1 L1154.5,826.8 L1155.5,828.9 L1156.5,830.5 L1157.5,832.3 L1158.5,834.1 L1159.5,836.4 L1160.5,836.8 L1161.5,838.8 L1162.5,840.8 L1163.5,842.8 L1164.5,845.2 L1165.5,847.0 L1166.5,848.7 L1167.5,850.5 L1168.5,851.5 L1169.5,853.5 L1170.5,854.0 L1171.5,855.3 L1172.5,856.7 L1173.5,858.0 L1174.5,862.3 L1175.5,862.9 L1176.5,864.2 L1177.5,865.4 L1178.5,865.1 L1179.5,866.2 L1180.5,867.3 L1181.5,868.3 L1182.5,869.2 L1183.5,871.4 L1184.5,872.2 L1185.5,872.8 L1186.5,873.3 L1187.5,873.9 L1188.5,874.2 L1189.5,874.3 L1190.5,873.5 L1191.5,873.4 L1192.5,871.8 L1193.5,871.9 L1194.5,872.5 L1195.5,875.5 L1196.5,876.9 L1197.5,880.8 L1198.5,882.2"/>
<path stroke="none" fill="#808000" d="M1190.0,864 L1191.0,864 L1191.0,864 L1192.0,864 L1192.0,864 L1193.0,864 L1193.0,864 L1194.0,864 L1194.0,864 L1195.0,864 L1195.0,869 L1196.0,869 L1196.0,869 L1197.0,869 L1197.0,876 L1198.0,876 L1198.0,876 L1199.0,876 L1199.0,876 L1200.0,876 L1200.0,876 L1201.0,876 L1201.0,877 L1202.0,877 L1202.0,877 L1203.0,877 L1203.0,877 L1204.0,877 L1204.0,882 L1205.0,882 L1205.0,882 L1206.0,882 L1206.0,882 L1207.0,882 L1207.0,882 L1208.0,882 L1208.0,888 L1209.0,888 L1209.0,892 L1210.0,892 L1210.0,892 L1211.0,892 L1211.0,892 L1212.0,892 L1212.0,896 L1213.0,896 L1213.0,899 L1214.0,899 L1214.0,899 L1215.0,899 L1215.0,899 L1216.0,899 L1216.0,904 L1217.0,904 L1217.0,904 L1218.0,904 L1218.0,904 L1219.0,904 L1219.0,907 L1220.0,907 L1220.0,908 L1221.0,908 L1221.0,908 L1222.0,908 L1222.0,909 L1223.0,909 L1223.0,910 L1224.0,910 L1224.0,910 L1225.0,910 L1225.0,910 L1226.0,910 L1226.0,912 L1227.0,912 L1227.0,912 L1228.0,912 L1228.0,912 L1229.0,912 L1229.0,912 L1230.0,912 L1230.0,916 L1231.0,916 L1231.0,916 L1232.0,916 L1232.0,916 L1233.0,916 L1233.0,917 L1234.0,917 L1234.0,917 L1235.0,917 L1235.0,918 L1236.0,918 L1236.0,918 L1237.0,918 L1237.0,918 L1238.0,918 L1238.0,919 L1239.0,919 L1239.0,919 L1240.0,919 L1240.0,919 L1241.0,919 L1241.0,919 L1242.0,919 L1242.0,921 L1243.0,921 L1243.0,921 L1244.0,921 L1244.0,921 L1245.0,921 L1245.0,924 L1246.0,924 L1246.0,924 L1247.0,924 L1247.0,924 L1248.0,924 L1248.0,925 L1249.0,925 L1249.0,925 L1250.0,925 L1250.0,925 L1251.0,925 L1251.0,925 L1252.0,925 L1252.0,925 L1253.0,925 L1253.0,925 L1254.0,925 L1254.0,925 L1255.0,925 L1255.0,926 L1256.0,926 L1256.0,926 L1257.0,926 L1257.0,926 L1258.0,926 L1258.0,928 L1259.0,928 L1259.0,928 L1260.0,928 L1260.0,928 L1261.0,928 L1261.0,928 L1262.0,928 L1262.0,933 L1263.0,933 L1263.0,936 L1264.0,936 L1264.0,939 L1265.0,939 L1265.0,941 L1266.0,941 L1266.0,941 L1267.0,941 L1267.0,941 L1268.0,941 L1268.0,941 L1269.0,941 L1269.0,942 L1270.0,942 L1270.0,942 L1271.0,942 L1271.0,943 L1272.0,943 L1272.0,943 L1273.0,943 L1273.0,943 L1274.0,943 L1274.0,944 L1275.0,944 L1275.0,944 L1276.0,944 L1276.0,944 L1277.0,944 L1277.0,944 L1278.0,944 L1278.0,947 L1279.0,947 L1279.0,947 L1280.0,947 L1280.0,947 L1281.0,947 L1281.0,947 L1282.0,947 L1282.0,947 L1283.0,947 L1283.0,946 L1284.0,946 L1284.0,946 L1285.0,946 L1285.0,946 L1286.0,946 L1286.0,946 L1287.0,946 L1287.0,945 L1288.0,945 L1288.0,945 L1289.0,945 L1289.0,943 L1290.0,943 L1290.0,943 L1291.0,943 L1291.0,943 L1292.0,943 L1292.0,943 L1293.0,943 L1293.0,943 L1294.0,943 L1294.0,943 L1295.0,943 L1295.0,943 L1296.0,943 L1296.0,945 L1297.0,945 L1297.0,945 L1298.0,945 L1298.0,945 L1299.0,945 L1299.0,945 L1300.0,945 L1300.0,946 L1301.0,946 L1301.0,946 L1302.0,946 L1302.0,948 L1303.0,948 L1303.0,948 L1304.0,948 L1304.0,948 L1305.0,948 L1305.0,951 L1306.0,951 L1306.0,951 L1307.0,951 L1307.0,953 L1308.0,953 L1308.0,953 L1309.0,953 L1309.0,953 L1310.0,953 L1310.0,954 L1311.0,954 L1311.0,954 L1312.0,954 L1312.0,954 L1313.0,954 L1313.0,955 L1314.0,955 L1314.0,955 L1315.0,955 L1315.0,955 L1316.0,955 L1316.0,957 L1317.0,957 L1317.0,957 L1318.0,957 L1318.0,957 L1319.0,957 L1319.0,958 L1320.0,958 L1320.0,958 L1321.0,958 L1321.0,958 L1322.0,958 L1322.0,958 L1323.0,958 L1323.0,957 L1324.0,957 L1324.0,957 L1325.0,957 L1325.0,957 L1326.0,957 L1326.0,957 L1327.0,957 L1327.0,952 L1328.0,952 L1328.0,952 L1329.0,952 L1329.0,947 L1330.0,947 L1330.0,947 L1331.0,947 L1331.0,947 L1332.0,947 L1332.0,947 L1333.0,947 L1333.0,946 L1334.0,946 L1334.0,946 L1335.0,946 L1335.0,946 L1336.0,946 L1336.0,946 L1337.0,946 L1337.0,946 L1338.0,946 L1338.0,946 L1339.0,946 L1339.0,945 L1340.0,945 L1340.0,945 L1341.0,945 L1341.0,945 L1342.0,945 L1342.0,945 L1343.0,945 L1343.0,945 L1344.0,945 L1344.0,939 L1345.0,939 L1345.0,939 L1346.0,939 L1346.0,939 L1347.0,939 L1347.0,939 L1348.0,939 L1348.0,935 L1349.0,935 L1349.0,933 L1350.0,933 L1350.0,934 L1351.0,934 L1351.0,934 L1352.0,934 L1352.0,934 L1353.0,934 L1353.0,934 L1354.0,934 L1354.0,933 L1355.0,933 L1355.0,933 L1356.0,933 L1356.0,933 L1357.0,933 L1357.0,933 L1358.0,933 L1358.0,933 L1359.0,933 L1359.0,932 L1360.0,932 L1360.0,932 L1361.0,932 L1361.0,932 L1362.0,932 L1362.0,932 L1363.0,932 L1363.0,932 L1364.0,932 L1364.0,925 L1365.0,925 L1365.0,925 L1366.0,925 L1366.0,921 L1367.0,921 L1367.0,921 L1368.0,921 L1368.0,921 L1369.0,921 L1369.0,921 L1370.0,921 L1370.0,919 L1371.0,919 L1371.0,918 L1372.0,918 L1372.0,918 L1373.0,918 L1373.0,918 L1374.0,918 L1374.0,920 L1375.0,920 L1375.0,920 L1376.0,920 L1376.0,920 L1377.0,920 L1377.0,920 L1378.0,920 L1378.0,920 L1379.0,920 L1379.0,920 L1380.0,920 L1380.0,928 L1381.0,928 L1381.0,928 L1382.0,928 L1382.0,936 L1383.0,936 L1383.0,936 L1384.0,936 L1384.0,940 L1385.0,940 L1385.0,940 L1386.0,940 L1386.0,940 L1387.0,940 L1387.0,940 L1388.0,940 L1388.0,940 L1389.0,940 L1389.0,940 L1390.0,940 L1390.0,940 L1391.0,940 L1391.0,942 L1392.0,942 L1392.0,942 L1393.0,942 L1393.0,942 L1394.0,942 L1394.0,942 L1395.0,942 L1395.0,950 L1396.0,950 L1396.0,950 L1397.0,950 L1397.0,950 L1398.0,950 L1398.0,950 L1399.0,950 L1399.0,945 L1400.0,945 L1400.0,945 L1401.0,945 L1401.0,945 L1402.0,945 L1402.0,945 L1403.0,945 L1403.0,934 L1404.0,934 L1404.0,934 L1405.0,934 L1405.0,934 L1406.0,934 L1406.0,933 L1407.0,933 L1407.0,933 L1408.0,933 L1408.0,931 L1409.0,931 L1409.0,931 L1410.0,931 L1410.0,922 L1411.0,922 L1411.0,922 L1412.0,922 L1412.0,921 L1413.0,921 L1413.0,921 L1414.0,921 L1414.0,921 L1415.0,921 L1415.0,921 L1416.0,921 L1416.0,921 L1417.0,921 L1417.0,921 L1418.0,921 L1418.0,920 L1419.0,920 L1419.0,920 L1420.0,920 L1420.0,920 L1421.0,920 L1421.0,920 L1422.0,920 L1422.0,908 L1423.0,908 L1423.0,908 L1424.0,908 L1424.0,895 L1425.0,895 L1425.0,895 L1426.0,895 L1426.0,895 L1427.0,895 L1427.0,895 L1428.0,895 L1428.0,893 L1429.0,893 L1429.0,893 L1430.0,893 L1430.0,893 L1431.0,893 L1431.0,894 L1432.0,894 L1432.0,894 L1433.0,894 L1433.0,894 L1434.0,894 L1434.0,890 L1435.0,890 L1435.0,890 L1436.0,890 L1436.0,875 L1437.0,875 L1437.0,875 L1438.0,875 L1438.0,875 L1439.0,875 L1439.0,875 L1440.0,875 L1440.0,870 L1441.0,870 L1441.0,870 L1442.0,870 L1442.0,863 L1443.0,863 L1443.0,863 L1444.0,863 L1444.0,847 L1445.0,847 L1445.0,846 L1446.0,846 L1446.0,846 L1447.0,846 L1447.0,846 L1448.0,846 L1448.0,845 L1449.0,845 L1449.0,845 L1450.0,845 L1450.0,846 L1451.0,846 L1451.0,846 L1452.0,846 L1452.0,846 L1453.0,846 L1453.0,846 L1454.0,846 L1454.0,847 L1455.0,847 L1455.0,847 L1456.0,847 L1456.0,847 L1457.0,847 L1457.0,847 L1458.0,847 L1458.0,847 L1459.0,847 L1459.0,847 L1460.0,847 L1460.0,857 L1461.0,857 L1461.0,857 L1462.0,857 L1462.0,857 L1463.0,857 L1463.0,857 L1464.0,857 L1464.0,863 L1465.0,863 L1465.0,863 L1466.0,863 L1466.0,864 L1467.0,864 L1467.0,864 L1468.0,864 L1468.0,863 L1469.0,863 L1469.0,863 L1470.0,863 L1470.0,863 L1471.0,863 L1471.0,863 L1472.0,863 L1472.0,863 L1473.0,863 L1473.0,867 L1474.0,867 L1474.0,867 L1475.0,867 L1475.0,867 L1476.0,867 L1476.0,867 L1477.0,867 L1477.0,874 L1478.0,874 L1478.0,875 L1479.0,875 L1479.0,874 L1480.0,874 L1480.0,874 L1481.0,874 L1481.0,874 L1482.0,874 L1482.0,875 L1483.0,875 L1483.0,875 L1484.0,875 L1484.0,875 L1485.0,875 L1485.0,875 L1486.0,875 L1486.0,863 L1487.0,863 L1487.0,863 L1488.0,863 L1488.0,863 L1489.0,863 L1489.0,864 L1490.0,864 L1490.0,863 L1491.0,863 L1491.0,863 L1492.0,863 L1492.0,863 L1493.0,863 L1493.0,863 L1494.0,863 L1494.0,866 L1495.0,866 L1495.0,866 L1496.0,866 L1496.0,866 L1497.0,866 L1497.0,877 L1498.0,877 L1498.0,877 L1499.0,877 L1499.0,877 L1500.0,877 L1500.0,877 L1501.0,877 L1501.0,878 L1502.0,878 L1502.0,879 L1503.0,879 L1503.0,879 L1504.0,879 L1504.0,878 L1505.0,878 L1505.0,879 L1506.0,879 L1506.0,879 L1507.0,879 L1507.0,879 L1508.0,879 L1508.0,879 L1509.0,879 L1509.0,879 L1510.0,879 L1510.0,879 L1511.0,879 L1511.0,879 L1512.0,879 L1512.0,870 L1513.0,870 L1513.0,870 L1514.0,870 L1514.0,870 L1515.0,870 L1515.0,857 L1516.0,857 L1516.0,857 L1517.0,857 L1517.0,858 L1518.0,858 L1518.0,858 L1519.0,858 L1519.0,857 L1520.0,857 L1520.0,857 L1521.0,857 L1521.0,857 L1522.0,857 L1522.0,857 L1523.0,857 L1523.0,857 L1524.0,857 L1524.0,857 L1525.0,857 L1525.0,842 L1526.0,842 L1526.0,842 L1527.0,842 L1527.0,842 L1528.0,842 L1528.0,842 L1529.0,842 L1529.0,840 L1530.0,840 L1530.0,840 L1531.0,840 L1531.0,840 L1532.0,840 L1532.0,837 L1533.0,837 L1533.0,825 L1534.0,825 L1534.0,825 L1535.0,825 L1535.0,825 L1536.0,825 L1536.0,814 L1537.0,814 L1537.0,811 L1538.0,811 L1538.0,811 L1539.0,811 L1539.0,808 L1540.0,808 L1540.0,808 L1541.0,808 L1541.0,808 L1542.0,808 L1542.0,803 L1543.0,803 L1543.0,802 L1544.0,802 L1544.0,802 L1545.0,802 L1545.0,801 L1546.0,801 L1546.0,792 L1547.0,792 L1547.0,792 L1548.0,792 L1548.0,781 L1549.0,781 L1549.0,781 L1550.0,781 L1550.0,781 L1551.0,781 L1551.0,781 L1552.0,781 L1552.0,782 L1553.0,782 L1553.0,782 L1554.0,782 L1554.0,782 L1555.0,782 L1555.0,776 L1556.0,776 L1556.0,776 L1557.0,776 L1557.0,776 L1558.0,776 L1558.0,750 L1559.0,750 L1559.0,750 L1560.0,750 L1560.0,750 L1561.0,750 L1561.0,737 L1562.0,737 L1562.0,737 L1563.0,737 L1563.0,737 L1564.0,737 L1564.0,737 L1565.0,737 L1565.0,738 L1566.0,738 L1566.0,738 L1567.0,738 L1567.0,738 L1568.0,738 L1568.0,738 L1569.0,738 L1569.0,737 L1570.0,737 L1570.0,740 L1571.0,740 L1571.0,740 L1572.0,740 L1572.0,740 L1573.0,740 L1573.0,740 L1574.0,740 L1574.0,749 L1575.0,749 L1575.0,749 L1576.0,749 L1576.0,744 L1577.0,744 L1577.0,744 L1578.0,744 L1578.0,744 L1579.0,744 L1579.0,744 L1580.0,744 L1580.0,738 L1581.0,738 L1581.0,734 L1582.0,734 L1582.0,734 L1583.0,734 L1583.0,733 L1584.0,733 L1584.0,733 L1585.0,733 L1585.0,734 L1586.0,734 L1586.0,734 L1587.0,734 L1587.0,734 L1588.0,734 L1588.0,734 L1589.0,734 L1589.0,733 L1590.0,733 L1590.0,733 L1591.0,733 L1591.0,736 L1592.0,736 L1592.0,736 L1593.0,736 L1593.0,736 L1594.0,736 L1594.0,739 L1595.0,739 L1595.0,739 L1596.0,739 L1596.0,738 L1597.0,738 L1597.0,739 L1598.0,739 L1598.0,739 L1599.0,739 L1599.0,739 L1600.0,739 L1600.0,730 L1601.0,730 L1601.0,730 L1602.0,730 L1602.0,730 L1603.0,730 L1603.0,730 L1604.0,730 L1604.0,725 L1605.0,725 L1605.0,725 L1606.0,725 L1606.0,725 L1607.0,725 L1607.0,725 L1608.0,725 L1608.0,726 L1609.0,726 L1609.0,725 L1610.0,725 L1610.0,725 L1611.0,725 L1611.0,725 L1612.0,725 L1612.0,725 L1613.0,725 L1613.0,725 L1614.0,725 L1614.0,725 L1615.0,725 L1615.0,725 L1616.0,725 L1616.0,725 L1617.0,725 L1617.0,725 L1618.0,725 L1618.0,724 L1619.0,724 L1619.0,724 L1620.0,724 L1620.0,724 L1621.0,724 L1621.0,714 L1622.0,714 L1622.0,714 L1623.0,714 L1623.0,714 L1624.0,714 L1624.0,709 L1625.0,709 L1625.0,709 L1626.0,709 L1626.0,709 L1627.0,709 L1627.0,709 L1628.0,709 L1628.0,710 L1629.0,710 L1629.0,710 L1630.0,710 L1630.0,709 L1631.0,709 L1631.0,709 L1632.0,709 L1632.0,709 L1633.0,709 L1633.0,710 L1634.0,710 L1634.0,712 L1635.0,712 L1635.0,712 L1636.0,712 L1636.0,712 L1637.0,712 L1637.0,712 L1638.0,712 L1638.0,716 L1639.0,716 L1639.0,716 L1640.0,716 L1640.0,717 L1641.0,717 L1641.0,718 L1642.0,718 L1642.0,718 L1643.0,718 L1643.0,718 L1644.0,718 L1644.0,718 L1645.0,718 L1645.0,719 L1646.0,719 L1646.0,718 L1647.0,718 L1647.0,723 L1648.0,723 L1648.0,736 L1649.0,736 L1649.0,736 L1650.0,736 L1650.0,748 L1651.0,748 L1651.0,748 L1652.0,748 L1652.0,748 L1653.0,748 L1653.0,750 L1654.0,750 L1654.0,750 L1655.0,750 L1655.0,750 L1656.0,750 L1656.0,746 L1657.0,746 L1657.0,746 L1658.0,746 L1658.0,743 L1659.0,743 L1659.0,743 L1660.0,743 L1660.0,743 L1661.0,743 L1661.0,743 L1662.0,743 L1662.0,742 L1663.0,742 L1663.0,741 L1664.0,741 L1664.0,738 L1665.0,738 L1665.0,737 L1666.0,737 L1666.0,726 L1667.0,726 L1667.0,726 L1668.0,726 L1668.0,726 L1669.0,726 L1669.0,689 L1670.0,689 L1670.0,689 L1671.0,689 L1671.0,689 L1672.0,689 L1672.0,674 L1673.0,674 L1673.0,674 L1674.0,674 L1674.0,668 L1675.0,668 L1675.0,668 L1676.0,668 L1676.0,668 L1677.0,668 L1677.0,667 L1678.0,667 L1678.0,667 L1679.0,667 L1679.0,667 L1680.0,667 L1680.0,667 L1681.0,667 L1681.0,666 L1682.0,666 L1682.0,666 L1683.0,666 L1683.0,666 L1684.0,666 L1684.0,680 L1683.0,680 L1683.0,680 L1682.0,680 L1682.0,680 L1681.0,680 L1681.0,680 L1680.0,680 L1680.0,716 L1679.0,716 L1679.0,716 L1678.0,716 L1678.0,716 L1677.0,716 L1677.0,716 L1676.0,716 L1676.0,736 L1675.0,736 L1675.0,744 L1674.0,744 L1674.0,744 L1673.0,744 L1673.0,744 L1672.0,744 L1672.0,744 L1671.0,744 L1671.0,748 L1670.0,748 L1670.0,748 L1669.0,748 L1669.0,750 L1668.0,750 L1668.0,750 L1667.0,750 L1667.0,750 L1666.0,750 L1666.0,750 L1665.0,750 L1665.0,760 L1664.0,760 L1664.0,763 L1663.0,763 L1663.0,763 L1662.0,763 L1662.0,771 L1661.0,771 L1661.0,771 L1660.0,771 L1660.0,778 L1659.0,778 L1659.0,778 L1658.0,778 L1658.0,778 L1657.0,778 L1657.0,778 L1656.0,778 L1656.0,782 L1655.0,782 L1655.0,782 L1654.0,782 L1654.0,783 L1653.0,783 L1653.0,783 L1652.0,783 L1652.0,783 L1651.0,783 L1651.0,783 L1650.0,783 L1650.0,783 L1649.0,783 L1649.0,781 L1648.0,781 L1648.0,781 L1647.0,781 L1647.0,781 L1646.0,781 L1646.0,773 L1645.0,773 L1645.0,773 L1644.0,773 L1644.0,773 L1643.0,773 L1643.0,773 L1642.0,773 L1642.0,761 L1641.0,761 L1641.0,756 L1640.0,756 L1640.0,756 L1639.0,756 L1639.0,756 L1638.0,756 L1638.0,756 L1637.0,756 L1637.0,748 L1636.0,748 L1636.0,748 L1635.0,748 L1635.0,746 L1634.0,746 L1634.0,746 L1633.0,746 L1633.0,746 L1632.0,746 L1632.0,747 L1631.0,747 L1631.0,747 L1630.0,747 L1630.0,747 L1629.0,747 L1629.0,747 L1628.0,747 L1628.0,750 L1627.0,750 L1627.0,750 L1626.0,750 L1626.0,750 L1625.0,750 L1625.0,752 L1624.0,752 L1624.0,752 L1623.0,752 L1623.0,752 L1622.0,752 L1622.0,761 L1621.0,761 L1621.0,761 L1620.0,761 L1620.0,761 L1619.0,761 L1619.0,763 L1618.0,763 L1618.0,764 L1617.0,764 L1617.0,764 L1616.0,764 L1616.0,764 L1615.0,764 L1615.0,764 L1614.0,764 L1614.0,764 L1613.0,764 L1613.0,764 L1612.0,764 L1612.0,764 L1611.0,764 L1611.0,764 L1610.0,764 L1610.0,765 L1609.0,765 L1609.0,765 L1608.0,765 L1608.0,765 L1607.0,765 L1607.0,765 L1606.0,765 L1606.0,767 L1605.0,767 L1605.0,767 L1604.0,767 L1604.0,771 L1603.0,771 L1603.0,771 L1602.0,771 L1602.0,771 L1601.0,771 L1601.0,771 L1600.0,771 L1600.0,772 L1599.0,772 L1599.0,772 L1598.0,772 L1598.0,770 L1597.0,770 L1597.0,769 L1596.0,769 L1596.0,768 L1595.0,768 L1595.0,769 L1594.0,769 L1594.0,769 L1593.0,769 L1593.0,769 L1592.0,769 L1592.0,769 L1591.0,769 L1591.0,766 L1590.0,766 L1590.0,766 L1589.0,766 L1589.0,766 L1588.0,766 L1588.0,761 L1587.0,761 L1587.0,761 L1586.0,761 L1586.0,764 L1585.0,764 L1585.0,764 L1584.0,764 L1584.0,764 L1583.0,764 L1583.0,771 L1582.0,771 L1582.0,773 L1581.0,773 L1581.0,773 L1580.0,773 L1580.0,774 L1579.0,774 L1579.0,773 L1578.0,773 L1578.0,773 L1577.0,773 L1577.0,773 L1576.0,773 L1576.0,773 L1575.0,773 L1575.0,774 L1574.0,774 L1574.0,774 L1573.0,774 L1573.0,771 L1572.0,771 L1572.0,771 L1571.0,771 L1571.0,766 L1570.0,766 L1570.0,766 L1569.0,766 L1569.0,766 L1568.0,766 L1568.0,766 L1567.0,766 L1567.0,785 L1566.0,785 L1566.0,785 L1565.0,785 L1565.0,785 L1564.0,785 L1564.0,785 L1563.0,785 L1563.0,790 L1562.0,790 L1562.0,790 L1561.0,790 L1561.0,790 L1560.0,790 L1560.0,790 L1559.0,790 L1559.0,791 L1558.0,791 L1558.0,791 L1557.0,791 L1557.0,799 L1556.0,799 L1556.0,799 L1555.0,799 L1555.0,810 L1554.0,810 L1554.0,811 L1553.0,811 L1553.0,811 L1552.0,811 L1552.0,811 L1551.0,811 L1551.0,811 L1550.0,811 L1550.0,814 L1549.0,814 L1549.0,814 L1548.0,814 L1548.0,817 L1547.0,817 L1547.0,817 L1546.0,817 L1546.0,817 L1545.0,817 L1545.0,817 L1544.0,817 L1544.0,851 L1543.0,851 L1543.0,851 L1542.0,851 L1542.0,851 L1541.0,851 L1541.0,851 L1540.0,851 L1540.0,868 L1539.0,868 L1539.0,868 L1538.0,868 L1538.0,868 L1537.0,868 L1537.0,868 L1536.0,868 L1536.0,875 L1535.0,875 L1535.0,874 L1534.0,874 L1534.0,875 L1533.0,875 L1533.0,875 L1532.0,875 L1532.0,875 L1531.0,875 L1531.0,875 L1530.0,875 L1530.0,876 L1529.0,876 L1529.0,876 L1528.0,876 L1528.0,876 L1527.0,876 L1527.0,876 L1526.0,876 L1526.0,876 L1525.0,876 L1525.0,876 L1524.0,876 L1524.0,876 L1523.0,876 L1523.0,876 L1522.0,876 L1522.0,889 L1521.0,889 L1521.0,890 L1520.0,890 L1520.0,891 L1519.0,891 L1519.0,893 L1518.0,893 L1518.0,893 L1517.0,893 L1517.0,893 L1516.0,893 L1516.0,893 L1515.0,893 L1515.0,893 L1514.0,893 L1514.0,893 L1513.0,893 L1513.0,893 L1512.0,893 L1512.0,893 L1511.0,893 L1511.0,893 L1510.0,893 L1510.0,893 L1509.0,893 L1509.0,893 L1508.0,893 L1508.0,891 L1507.0,891 L1507.0,891 L1506.0,891 L1506.0,891 L1505.0,891 L1505.0,891 L1504.0,891 L1504.0,891 L1503.0,891 L1503.0,891 L1502.0,891 L1502.0,891 L1501.0,891 L1501.0,891 L1500.0,891 L1500.0,890 L1499.0,890 L1499.0,890 L1498.0,890 L1498.0,890 L1497.0,890 L1497.0,890 L1496.0,890 L1496.0,890 L1495.0,890 L1495.0,891 L1494.0,891 L1494.0,891 L1493.0,891 L1493.0,891 L1492.0,891 L1492.0,891 L1491.0,891 L1491.0,895 L1490.0,895 L1490.0,895 L1489.0,895 L1489.0,897 L1488.0,897 L1488.0,897 L1487.0,897 L1487.0,897 L1486.0,897 L1486.0,897 L1485.0,897 L1485.0,899 L1484.0,899 L1484.0,899 L1483.0,899 L1483.0,898 L1482.0,898 L1482.0,898 L1481.0,898 L1481.0,898 L1480.0,898 L1480.0,896 L1479.0,896 L1479.0,896 L1478.0,896 L1478.0,896 L1477.0,896 L1477.0,895 L1476.0,895 L1476.0,895 L1475.0,895 L1475.0,894 L1474.0,894 L1474.0,894 L1473.0,894 L1473.0,894 L1472.0,894 L1472.0,894 L1471.0,894 L1471.0,893 L1470.0,893 L1470.0,893 L1469.0,893 L1469.0,891 L1468.0,891 L1468.0,891 L1467.0,891 L1467.0,888 L1466.0,888 L1466.0,888 L1465.0,888 L1465.0,883 L1464.0,883 L1464.0,883 L1463.0,883 L1463.0,883 L1462.0,883 L1462.0,884 L1461.0,884 L1461.0,884 L1460.0,884 L1460.0,884 L1459.0,884 L1459.0,883 L1458.0,883 L1458.0,883 L1457.0,883 L1457.0,883 L1456.0,883 L1456.0,883 L1455.0,883 L1455.0,877 L1454.0,877 L1454.0,871 L1453.0,871 L1453.0,876 L1452.0,876 L1452.0,876 L1451.0,876 L1451.0,885 L1450.0,885 L1450.0,885 L1449.0,885 L1449.0,885 L1448.0,885 L1448.0,887 L1447.0,887 L1447.0,887 L1446.0,887 L1446.0,887 L1445.0,887 L1445.0,890 L1444.0,890 L1444.0,907 L1443.0,907 L1443.0,907 L1442.0,907 L1442.0,907 L1441.0,907 L1441.0,907 L1440.0,907 L1440.0,911 L1439.0,911 L1439.0,911 L1438.0,911 L1438.0,911 L1437.0,911 L1437.0,911 L1436.0,911 L1436.0,910 L1435.0,910 L1435.0,917 L1434.0,917 L1434.0,917 L1433.0,917 L1433.0,917 L1432.0,917 L1432.0,917 L1431.0,917 L1431.0,935 L1430.0,935 L1430.0,935 L1429.0,935 L1429.0,935 L1428.0,935 L1428.0,935 L1427.0,935 L1427.0,943 L1426.0,943 L1426.0,943 L1425.0,943 L1425.0,943 L1424.0,943 L1424.0,943 L1423.0,943 L1423.0,942 L1422.0,942 L1422.0,942 L1421.0,942 L1421.0,942 L1420.0,942 L1420.0,945 L1419.0,945 L1419.0,945 L1418.0,945 L1418.0,945 L1417.0,945 L1417.0,947 L1416.0,947 L1416.0,946 L1415.0,946 L1415.0,946 L1414.0,946 L1414.0,946 L1413.0,946 L1413.0,946 L1412.0,946 L1412.0,946 L1411.0,946 L1411.0,946 L1410.0,946 L1410.0,946 L1409.0,946 L1409.0,975 L1408.0,975 L1408.0,975 L1407.0,975 L1407.0,975 L1406.0,975 L1406.0,975 L1405.0,975 L1405.0,979 L1404.0,979 L1404.0,979 L1403.0,979 L1403.0,979 L1402.0,979 L1402.0,979 L1401.0,979 L1401.0,979 L1400.0,979 L1400.0,979 L1399.0,979 L1399.0,979 L1398.0,979 L1398.0,979 L1397.0,979 L1397.0,974 L1396.0,974 L1396.0,974 L1395.0,974 L1395.0,974 L1394.0,974 L1394.0,970 L1393.0,970 L1393.0,970 L1392.0,970 L1392.0,970 L1391.0,970 L1391.0,970 L1390.0,970 L1390.0,966 L1389.0,966 L1389.0,966 L1388.0,966 L1388.0,963 L1387.0,963 L1387.0,963 L1386.0,963 L1386.0,957 L1385.0,957 L1385.0,957 L1384.0,957 L1384.0,957 L1383.0,957 L1383.0,952 L1382.0,952 L1382.0,952 L1381.0,952 L1381.0,952 L1380.0,952 L1380.0,951 L1379.0,951 L1379.0,949 L1378.0,949 L1378.0,949 L1377.0,949 L1377.0,945 L1376.0,945 L1376.0,945 L1375.0,945 L1375.0,941 L1374.0,941 L1374.0,941 L1373.0,941 L1373.0,938 L1372.0,938 L1372.0,939 L1371.0,939 L1371.0,939 L1370.0,939 L1370.0,939 L1369.0,939 L1369.0,939 L1368.0,939 L1368.0,941 L1367.0,941 L1367.0,941 L1366.0,941 L1366.0,941 L1365.0,941 L1365.0,941 L1364.0,941 L1364.0,943 L1363.0,943 L1363.0,943 L1362.0,943 L1362.0,943 L1361.0,943 L1361.0,944 L1360.0,944 L1360.0,944 L1359.0,944 L1359.0,946 L1358.0,946 L1358.0,946 L1357.0,946 L1357.0,946 L1356.0,946 L1356.0,946 L1355.0,946 L1355.0,946 L1354.0,946 L1354.0,949 L1353.0,949 L1353.0,950 L1352.0,950 L1352.0,950 L1351.0,950 L1351.0,952 L1350.0,952 L1350.0,952 L1349.0,952 L1349.0,952 L1348.0,952 L1348.0,952 L1347.0,952 L1347.0,952 L1346.0,952 L1346.0,954 L1345.0,954 L1345.0,954 L1344.0,954 L1344.0,954 L1343.0,954 L1343.0,954 L1342.0,954 L1342.0,956 L1341.0,956 L1341.0,956 L1340.0,956 L1340.0,956 L1339.0,956 L1339.0,957 L1338.0,957 L1338.0,957 L1337.0,957 L1337.0,957 L1336.0,957 L1336.0,960 L1335.0,960 L1335.0,964 L1334.0,964 L1334.0,964 L1333.0,964 L1333.0,964 L1332.0,964 L1332.0,964 L1331.0,964 L1331.0,970 L1330.0,970 L1330.0,973 L1329.0,973 L1329.0,973 L1328.0,973 L1328.0,973 L1327.0,973 L1327.0,973 L1326.0,973 L1326.0,976 L1325.0,976 L1325.0,976 L1324.0,976 L1324.0,976 L1323.0,976 L1323.0,976 L1322.0,976 L1322.0,974 L1321.0,974 L1321.0,974 L1320.0,974 L1320.0,974 L1319.0,974 L1319.0,973 L1318.0,973 L1318.0,971 L1317.0,971 L1317.0,968 L1316.0,968 L1316.0,968 L1315.0,968 L1315.0,968 L1314.0,968 L1314.0,968 L1313.0,968 L1313.0,968 L1312.0,968 L1312.0,968 L1311.0,968 L1311.0,968 L1310.0,968 L1310.0,967 L1309.0,967 L1309.0,967 L1308.0,967 L1308.0,966 L1307.0,966 L1307.0,966 L1306.0,966 L1306.0,966 L1305.0,966 L1305.0,966 L1304.0,966 L1304.0,962 L1303.0,962 L1303.0,962 L1302.0,962 L1302.0,959 L1301.0,959 L1301.0,959 L1300.0,959 L1300.0,959 L1299.0,959 L1299.0,957 L1298.0,957 L1298.0,957 L1297.0,957 L1297.0,957 L1296.0,957 L1296.0,957 L1295.0,957 L1295.0,959 L1294.0,959 L1294.0,959 L1293.0,959 L1293.0,959 L1292.0,959 L1292.0,959 L1291.0,959 L1291.0,962 L1290.0,962 L1290.0,963 L1289.0,963 L1289.0,963 L1288.0,963 L1288.0,964 L1287.0,964 L1287.0,964 L1286.0,964 L1286.0,964 L1285.0,964 L1285.0,964 L1284.0,964 L1284.0,964 L1283.0,964 L1283.0,964 L1282.0,964 L1282.0,964 L1281.0,964 L1281.0,964 L1280.0,964 L1280.0,959 L1279.0,959 L1279.0,959 L1278.0,959 L1278.0,959 L1277.0,959 L1277.0,959 L1276.0,959 L1276.0,955 L1275.0,955 L1275.0,955 L1274.0,955 L1274.0,955 L1273.0,955 L1273.0,955 L1272.0,955 L1272.0,953 L1271.0,953 L1271.0,952 L1270.0,952 L1270.0,952 L1269.0,952 L1269.0,952 L1268.0,952 L1268.0,951 L1267.0,951 L1267.0,951 L1266.0,951 L1266.0,950 L1265.0,950 L1265.0,950 L1264.0,950 L1264.0,950 L1263.0,950 L1263.0,950 L1262.0,950 L1262.0,950 L1261.0,950 L1261.0,950 L1260.0,950 L1260.0,950 L1259.0,950 L1259.0,945 L1258.0,945 L1258.0,945 L1257.0,945 L1257.0,945 L1256.0,945 L1256.0,945 L1255.0,945 L1255.0,938 L1254.0,938 L1254.0,938 L1253.0,938 L1253.0,938 L1252.0,938 L1252.0,937 L1251.0,937 L1251.0,937 L1250.0,937 L1250.0,937 L1249.0,937 L1249.0,935 L1248.0,935 L1248.0,935 L1247.0,935 L1247.0,935 L1246.0,935 L1246.0,935 L1245.0,935 L1245.0,935 L1244.0,935 L1244.0,935 L1243.0,935 L1243.0,934 L1242.0,934 L1242.0,934 L1241.0,934 L1241.0,934 L1240.0,934 L1240.0,933 L1239.0,933 L1239.0,933 L1238.0,933 L1238.0,933 L1237.0,933 L1237.0,930 L1236.0,930 L1236.0,930 L1235.0,930 L1235.0,928 L1234.0,928 L1234.0,928 L1233.0,928 L1233.0,928 L1232.0,928 L1232.0,928 L1231.0,928 L1231.0,928 L1230.0,928 L1230.0,928 L1229.0,928 L1229.0,927 L1228.0,927 L1228.0,927 L1227.0,927 L1227.0,926 L1226.0,926 L1226.0,925 L1225.0,925 L1225.0,925 L1224.0,925 L1224.0,925 L1223.0,925 L1223.0,925 L1222.0,925 L1222.0,921 L1221.0,921 L1221.0,920 L1220.0,920 L1220.0,920 L1219.0,920 L1219.0,920 L1218.0,920 L1218.0,916 L1217.0,916 L1217.0,916 L1216.0,916 L1216.0,916 L1215.0,916 L1215.0,913 L1214.0,913 L1214.0,910 L1213.0,910 L1213.0,910 L1212.0,910 L1212.0,910 L1211.0,910 L1211.0,910 L1210.0,910 L1210.0,904 L1209.0,904 L1209.0,904 L1208.0,904 L1208.0,904 L1207.0,904 L1207.0,904 L1206.0,904 L1206.0,900 L1205.0,900 L1205.0,900 L1204.0,900 L1204.0,895 L1203.0,895 L1203.0,895 L1202.0,895 L1202.0,895 L1201.0,895 L1201.0,891 L1200.0,891 L1200.0,889 L1199.0,889 L1199.0,887 L1198.0,887 L1198.0,886 L1197.0,886 L1197.0,886 L1196.0,886 L1196.0,886 L1195.0,886 L1195.0,883 L1194.0,883 L1194.0,883 L1193.0,883 L1193.0,883 L1192.0,883 L1192.0,883 L1191.0,883 L1191.0,883 L1190.0,883Z"/>
<path stroke="#ff00ff" stroke-width="9" d="M277.5,102.0 L281.5,102.2 L285.5,102.6 L289.5,103.0 L293.5,103.5 L297.5,104.2 L301.5,104.9 L305.5,105.7 L309.5,106.4 L313.5,107.2 L317.5,107.9 L321.5,108.8 L325.5,109.6 L329.5,110.5 L333.5,111.3 L337.5,112.2 L341.5,113.0 L345.5,113.9 L349.5,114.9 L353.5,115.9 L357.5,117.1 L361.5,118.4 L365.5,119.7 L369.5,121.0 L373.5,122.4 L377.5,123.8 L381.5,125.2 L385.5,126.7 L389.5,128.3 L393.5,130.0 L397.5,131.8 L401.5,133.6 L405.5,135.5 L409.5,137.5 L413.5,139.5 L417.5,141.5 L421.5,143.6 L425.5,145.7 L429.5,147.7 L433.5,149.8 L437.5,151.9 L441.5,153.9 L445.5,156.0 L449.5,158.1 L453.5,160.3 L457.5,162.5 L461.5,164.8 L465.5,167.2 L469.5,169.7 L473.5,172.3 L477.5,175.0 L481.5,177.9 L485.5,180.9 L489.5,183.9 L493.5,187.0 L497.5,190.2 L501.5,193.3 L505.5,196.5 L509.5,199.6 L513.5,202.7 L517.5,205.8 L521.5,208.9 L525.5,212.1 L529.5,215.2 L533.5,218.4 L537.5,221.7 L541.5,224.9 L545.5,228.2 L549.5,231.6 L553.5,235.0 L557.5,238.4 L561.5,241.8 L565.5,245.3 L569.5,248.8 L573.5,252.4 L577.5,256.1 L581.5,259.8 L585.5,263.6 L589.5,267.5 L593.5,271.5 L597.5,275.7 L601.5,280.0 L605.5,284.3 L609.5,288.8 L613.5,293.3 L617.5,297.8 L621.5,302.4 L625.5,306.9 L629.5,311.4 L633.5,315.9 L637.5,320.4 L641.5,324.9 L645.5,329.3 L649.5,333.9 L653.5,338.4 L657.5,343.0 L661.5,347.7 L665.5,352.5 L669.5,357.4 L673.5,362.4 L677.5,367.6 L681.5,372.9 L685.5,378.2 L689.5,383.7 L693.5,389.1 L697.5,394.6 L701.5,400.0 L705.5,405.4 L709.5,410.8 L713.5,416.3 L717.5,421.8 L721.5,427.4 L725.5,433.3 L729.5,439.3 L733.5,445.7 L737.5,452.2 L741.5,458.8 L745.5,465.2 L749.5,471.4 L753.5,477.6 L757.5,483.7 L761.5,490.0 L765.5,496.5 L769.5,503.4 L773.5,510.5 L777.5,517.5 L781.5,524.1 L785.5,530.6 L789.5,537.0 L793.5,543.4 L797.5,549.9 L801.5,556.5 L805.5,563.2 L809.5,569.9 L813.5,576.7 L817.5,583.6 L821.5,590.6 L825.5,597.7 L829.5,605.1 L833.5,612.6 L837.5,620.4 L841.5,628.4 L845.5,636.6 L849.5,644.8 L853.5,653.2 L857.5,662.0 L861.5,670.8 L865.5,679.0 L869.5,686.2 L873.5,692.7 L877.5,699.0 L881.5,705.6 L885.5,712.9 L889.5,721.1 L893.5,729.8 L897.5,738.2 L901.5,745.7 L905.5,752.5 L909.5,758.8 L913.5,765.1 L917.5,771.6 L921.5,778.8 L925.5,786.6 L929.5,794.7 L933.5,803.0 L937.5,811.1 L941.5,818.8 L945.5,826.2 L949.5,833.5 L953.5,840.6 L957.5,847.6 L961.5,854.6 L965.5,861.7 L969.5,868.7 L973.5,875.5 L977.5,882.1 L981.5,888.3 L985.5,894.3 L989.5,900.0 L993.5,905.6 L997.5,910.8 L1001.5,915.9 L1005.5,920.8 L1009.5,925.5 L1013.5,929.7 L1017.5,933.1 L1021.5,935.9 L1025.5,938.8 L1029.5,941.6 L1033.5,942.4 L1037.5,942.8 L1041.5,943.1 L1045.5,943.5 L1049.5,944.0 L1053.5,944.4 L1057.5,944.8 L1061.5,945.1 L1065.5,945.5 L1069.5,946.0 L1073.5,946.0 L1077.5,946.0 L1081.5,946.0 L1085.5,946.0 L1089.5,944.0 L1093.5,941.7 L1097.5,939.4 L1101.5,937.2 L1105.5,935.2 L1109.5,933.2 L1113.5,931.2 L1117.5,929.2 L1121.5,927.1 L1125.5,924.6 L1129.5,922.1 L1133.5,919.6 L1137.5,916.5 L1141.5,912.5 L1145.5,908.5 L1149.5,904.5 L1153.5,898.4 L1157.5,892.0 L1161.5,885.6 L1165.5,879.2 L1169.5,872.8 L1173.5,867.1 L1177.5,861.5 L1181.5,856.7 L1185.5,853.2 L1189.5,849.7 L1193.5,846.2 L1197.5,841.8 L1201.5,835.8 L1205.5,829.8 L1209.5,823.5 L1213.5,816.8 L1217.5,810.2 L1221.5,803.8 L1225.5,797.8 L1229.5,791.8 L1233.5,788.5 L1237.5,785.8 L1241.5,783.0 L1245.5,780.1 L1249.5,777.4 L1253.5,775.8 L1257.5,774.3 L1261.5,772.9 L1265.5,769.8 L1269.5,763.8 L1273.5,757.8 L1277.5,751.0 L1281.5,744.2 L1285.5,737.9 L1289.5,732.3 L1293.5,726.7 L1297.5,723.5 L1301.5,720.6 L1305.5,717.8 L1309.5,714.8 L1313.5,711.4 L1317.5,708.1 L1321.5,704.9 L1325.5,701.9 L1329.5,700.2 L1333.5,700.9 L1337.5,701.6 L1341.5,700.8 L1345.5,697.4 L1349.5,694.1 L1353.5,690.7 L1357.5,687.1 L1361.5,683.5 L1365.5,679.9 L1369.5,675.4 L1373.5,670.6"/>
<path stroke="#ff00ff" d="M277.5,102.0 L278.5,102.0 L279.5,102.1 L280.5,102.2 L281.5,101.5 L282.5,102.2 L283.5,102.3 L284.5,102.4 L285.5,102.5 L286.5,103.4 L287.5,103.5 L288.5,103.6 L289.5,103.7 L290.5,102.9 L291.5,103.0 L292.5,103.2 L293.5,103.3 L294.5,104.3 L295.5,104.4 L296.5,104.6 L297.5,104.8 L298.5,104.7 L299.5,105.2 L300.5,105.3 L301.5,105.5 L302.5,105.8 L303.5,105.1 L304.5,105.3 L305.5,105.5 L306.5,106.1 L307.5,105.9 L308.5,106.1 L309.5,106.5 L310.5,107.0 L311.5,107.2 L312.5,107.4 L313.5,107.3 L314.5,107.5 L315.5,107.7 L316.5,108.4 L317.5,108.6 L318.5,108.8 L319.5,109.0 L320.5,109.1 L321.5,109.3 L322.5,108.2 L323.5,108.4 L324.5,108.6 L325.5,108.8 L326.5,110.0 L327.5,110.3 L328.5,110.5 L329.5,110.7 L330.5,110.4 L331.5,110.7 L332.5,111.5 L333.5,111.7 L334.5,111.9 L335.5,112.1 L336.5,112.2 L337.5,112.8 L338.5,112.2 L339.5,112.5 L340.5,112.8 L341.5,113.0 L342.5,113.2 L343.5,113.2 L344.5,113.4 L345.5,113.9 L346.5,114.1 L347.5,114.3 L348.5,115.2 L349.5,115.5 L350.5,114.8 L351.5,115.1 L352.5,115.4 L353.5,115.7 L354.5,116.9 L355.5,117.2 L356.5,117.5 L357.5,117.8 L358.5,117.2 L359.5,117.5 L360.5,117.8 L361.5,118.8 L362.5,119.2 L363.5,119.6 L364.5,120.0 L365.5,120.3 L366.5,120.6 L367.5,121.0 L368.5,121.4 L369.5,121.7 L370.5,122.1 L371.5,122.5 L372.5,122.3 L373.5,121.8 L374.5,123.1 L375.5,123.5 L376.5,123.8 L377.5,124.2 L378.5,124.6 L379.5,124.9 L380.5,124.6 L381.5,124.6 L382.5,125.0 L383.5,125.4 L384.5,125.7 L385.5,126.0 L386.5,126.3 L387.5,126.7 L388.5,127.1 L389.5,127.9 L390.5,128.3 L391.5,128.7 L392.5,129.1 L393.5,130.4 L394.5,130.9 L395.5,131.3 L396.5,131.7 L397.5,131.7 L398.5,132.5 L399.5,133.2 L400.5,133.7 L401.5,134.2 L402.5,134.6 L403.5,135.2 L404.5,134.7 L405.5,135.2 L406.5,135.7 L407.5,136.1 L408.5,137.2 L409.5,137.7 L410.5,138.2 L411.5,138.6 L412.5,139.1 L413.5,140.0 L414.5,140.5 L415.5,141.0 L416.5,140.7 L417.5,141.2 L418.5,141.7 L419.5,142.3 L420.5,143.5 L421.5,144.0 L422.5,144.5 L423.5,145.0 L424.5,145.5 L425.5,145.0 L426.5,145.5 L427.5,146.0 L428.5,146.5 L429.5,147.0 L430.5,147.9 L431.5,148.4 L432.5,148.8 L433.5,149.3 L434.5,149.8 L435.5,150.6 L436.5,150.9 L437.5,151.8 L438.5,153.0 L439.5,153.5 L440.5,153.3 L441.5,153.8 L442.5,154.3 L443.5,154.8 L444.5,155.1 L445.5,156.3 L446.5,156.7 L447.5,157.2 L448.5,157.7 L449.5,158.3 L450.5,159.1 L451.5,159.6 L452.5,160.3 L453.5,160.9 L454.5,161.4 L455.5,160.8 L456.5,161.3 L457.5,161.9 L458.5,162.4 L459.5,162.9 L460.5,164.3 L461.5,164.9 L462.5,165.0 L463.5,165.3 L464.5,165.9 L465.5,166.5 L466.5,167.3 L467.5,167.9 L468.5,168.5 L469.5,169.2 L470.5,169.8 L471.5,170.5 L472.5,172.3 L473.5,173.0 L474.5,173.7 L475.5,174.3 L476.5,174.1 L477.5,174.8 L478.5,175.5 L479.5,176.3 L480.5,177.0 L481.5,177.7 L482.5,178.1 L483.5,178.9 L484.5,179.6 L485.5,181.3 L486.5,181.3 L487.5,183.2 L488.5,183.9 L489.5,183.5 L490.5,184.3 L491.5,185.4 L492.5,186.1 L493.5,186.9 L494.5,187.7 L495.5,188.1 L496.5,188.8 L497.5,189.6 L498.5,190.8 L499.5,191.6 L500.5,192.4 L501.5,193.8 L502.5,194.6 L503.5,195.4 L504.5,196.2 L505.5,195.8 L506.5,196.6 L507.5,197.6 L508.5,198.4 L509.5,199.2 L510.5,200.0 L511.5,200.9 L512.5,201.7 L513.5,202.4 L514.5,203.2 L515.5,204.9 L516.5,205.7 L517.5,206.3 L518.5,206.6 L519.5,207.4 L520.5,208.2 L521.5,209.0 L522.5,209.5 L523.5,210.2 L524.5,212.0 L525.5,212.8 L526.5,213.6 L527.5,214.2 L528.5,214.1 L529.5,215.1 L530.5,216.1 L531.5,216.9 L532.5,217.7 L533.5,218.6 L534.5,219.4 L535.5,220.2 L536.5,220.2 L537.5,221.0 L538.5,221.8 L539.5,224.0 L540.5,224.8 L541.5,225.7 L542.5,226.5 L543.5,226.2 L544.5,227.0 L545.5,228.5 L546.5,229.3 L547.5,229.7 L548.5,230.6 L549.5,231.3 L550.5,232.1 L551.5,233.0 L552.5,233.8 L553.5,234.2 L554.5,235.1 L555.5,235.9 L556.5,236.9 L557.5,237.7 L558.5,239.0 L559.5,239.8 L560.5,241.7 L561.5,241.9 L562.5,242.8 L563.5,243.6 L564.5,244.0 L565.5,245.9 L566.5,246.7 L567.5,247.6 L568.5,247.4 L569.5,249.3 L570.5,250.2 L571.5,250.2 L572.5,252.2 L573.5,253.1 L574.5,254.0 L575.5,255.0 L576.5,254.7 L577.5,255.8 L578.5,256.7 L579.5,257.6 L580.5,259.0 L581.5,259.9 L582.5,260.8 L583.5,261.8 L584.5,262.4 L585.5,263.3 L586.5,264.3 L587.5,266.2 L588.5,267.2 L589.5,267.0 L590.5,268.0 L591.5,269.9 L592.5,270.9 L593.5,271.9 L594.5,272.9 L595.5,273.3 L596.5,274.3 L597.5,275.0 L598.5,277.1 L599.5,278.2 L600.5,279.3 L601.5,280.3 L602.5,281.4 L603.5,282.0 L604.5,283.1 L605.5,283.8 L606.5,284.9 L607.5,286.0 L608.5,287.1 L609.5,288.7 L610.5,289.8 L611.5,290.9 L612.5,292.0 L613.5,294.0 L614.5,294.6 L615.5,295.7 L616.5,296.9 L617.5,298.0 L618.5,299.6 L619.5,300.8 L620.5,301.6 L621.5,302.7 L622.5,303.7 L623.5,304.8 L624.5,305.9 L625.5,307.1 L626.5,308.4 L627.5,309.6 L628.5,310.7 L629.5,311.8 L630.5,312.4 L631.5,313.2 L632.5,315.5 L633.5,316.6 L634.5,317.7 L635.5,318.6 L636.5,319.9 L637.5,321.0 L638.5,322.1 L639.5,323.2 L640.5,324.3 L641.5,325.1 L642.5,325.6 L643.5,326.8 L644.5,328.0 L645.5,329.1 L646.5,330.4 L647.5,331.5 L648.5,332.6 L649.5,334.1 L650.5,335.3 L651.5,336.5 L652.5,337.6 L653.5,338.2 L654.5,339.3 L655.5,340.5 L656.5,342.3 L657.5,343.8 L658.5,345.0 L659.5,345.2 L660.5,346.2 L661.5,346.9 L662.5,348.1 L663.5,349.3 L664.5,351.9 L665.5,353.1 L666.5,354.3 L667.5,355.6 L668.5,355.9 L669.5,357.7 L670.5,358.9 L671.5,360.2 L672.5,361.4 L673.5,362.6 L674.5,363.6 L675.5,364.8 L676.5,366.2 L677.5,367.5 L678.5,369.4 L679.5,370.7 L680.5,372.0 L681.5,373.4 L682.5,374.0 L683.5,375.3 L684.5,376.7 L685.5,379.0 L686.5,380.3 L687.5,381.7 L688.5,383.0 L689.5,384.3 L690.5,385.7 L691.5,387.2 L692.5,387.9 L693.5,389.3 L694.5,390.7 L695.5,392.1 L696.5,393.4 L697.5,394.8 L698.5,395.9 L699.5,397.2 L700.5,398.6 L701.5,399.9 L702.5,401.9 L703.5,403.3 L704.5,404.6 L705.5,406.0 L706.5,407.4 L707.5,408.7 L708.5,409.4 L709.5,410.7 L710.5,412.1 L711.5,413.4 L712.5,414.2 L713.5,415.6 L714.5,417.0 L715.5,418.3 L716.5,419.7 L717.5,421.1 L718.5,423.6 L719.5,425.0 L720.5,426.4 L721.5,427.8 L722.5,428.6 L723.5,429.6 L724.5,431.1 L725.5,432.7 L726.5,434.2 L727.5,435.7 L728.5,437.3 L729.5,439.2 L730.5,440.8 L731.5,442.4 L732.5,444.0 L733.5,445.3 L734.5,446.9 L735.5,448.5 L736.5,450.2 L737.5,451.8 L738.5,454.6 L739.5,456.3 L740.5,457.9 L741.5,459.5 L742.5,461.0 L743.5,462.6 L744.5,464.2 L745.5,465.8 L746.5,466.8 L747.5,468.3 L748.5,469.6 L749.5,471.1 L750.5,472.7 L751.5,475.2 L752.5,476.7 L753.5,478.2 L754.5,479.8 L755.5,480.5 L756.5,482.1 L757.5,483.9 L758.5,485.5 L759.5,487.1 L760.5,488.7 L761.5,490.3 L762.5,491.9 L763.5,492.4 L764.5,495.2 L765.5,496.9 L766.5,498.3 L767.5,500.0 L768.5,501.6 L769.5,503.4 L770.5,505.2 L771.5,506.6 L772.5,508.4 L773.5,511.1 L774.5,512.9 L775.5,514.7 L776.5,516.4 L777.5,517.8 L778.5,519.5 L779.5,521.5 L780.5,522.9 L781.5,524.6 L782.5,526.2 L783.5,527.8 L784.5,528.7 L785.5,530.5 L786.5,532.1 L787.5,533.7 L788.5,535.7 L789.5,537.7 L790.5,539.3 L791.5,540.9 L792.5,541.0 L793.5,542.6 L794.5,544.7 L795.5,546.4 L796.5,548.0 L797.5,549.1 L798.5,550.7 L799.5,552.4 L800.5,554.4 L801.5,556.0 L802.5,558.5 L803.5,560.1 L804.5,561.3 L805.5,563.0 L806.5,564.8 L807.5,566.5 L808.5,568.1 L809.5,569.8 L810.5,571.4 L811.5,573.1 L812.5,574.7 L813.5,576.3 L814.5,578.0 L815.5,579.7 L816.5,581.4 L817.5,584.2 L818.5,585.0 L819.5,586.8 L820.5,588.5 L821.5,590.1 L822.5,591.9 L823.5,594.5 L824.5,596.3 L825.5,598.1 L826.5,599.9 L827.5,601.7 L828.5,603.5 L829.5,604.7 L830.5,606.5 L831.5,608.4 L832.5,611.1 L833.5,613.0 L834.5,614.9 L835.5,616.9 L836.5,618.7 L837.5,620.7 L838.5,622.1 L839.5,624.0 L840.5,626.0 L841.5,628.0 L842.5,630.0 L843.5,632.3 L844.5,634.3 L845.5,636.3 L846.5,639.3 L847.5,641.4 L848.5,643.5 L849.5,645.5 L850.5,646.6 L851.5,648.7 L852.5,650.8 L853.5,652.6 L854.5,654.7 L855.5,656.9 L856.5,660.0 L857.5,661.2 L858.5,664.0 L859.5,666.2 L860.5,668.4 L861.5,670.6 L862.5,673.7 L863.5,675.8 L864.5,676.5 L865.5,679.5 L866.5,681.4 L867.5,683.2 L868.5,684.9 L869.5,687.0 L870.5,687.3 L871.5,688.9 L872.5,690.5 L873.5,692.6 L874.5,694.2 L875.5,695.7 L876.5,697.3 L877.5,699.7 L878.5,701.2 L879.5,702.9 L880.5,704.3 L881.5,706.0 L882.5,707.7 L883.5,709.0 L884.5,711.4 L885.5,713.1 L886.5,715.1 L887.5,717.2 L888.5,719.7 L889.5,721.9 L890.5,724.0 L891.5,726.0 L892.5,728.1 L893.5,730.3 L894.5,732.5 L895.5,734.2 L896.5,736.2 L897.5,738.3 L898.5,740.3 L899.5,741.5 L900.5,743.4 L901.5,745.2 L902.5,747.9 L903.5,749.6 L904.5,751.3 L905.5,752.9 L906.5,754.6 L907.5,756.2 L908.5,757.8 L909.5,758.5 L910.5,760.0 L911.5,761.6 L912.5,763.2 L913.5,764.8 L914.5,766.4 L915.5,768.0 L916.5,770.0 L917.5,771.7 L918.5,773.4 L919.5,775.2 L920.5,777.6 L921.5,778.7 L922.5,780.6 L923.5,782.1 L924.5,784.0 L925.5,786.0 L926.5,788.0 L927.5,791.3 L928.5,793.3 L929.5,795.4 L930.5,797.3 L931.5,799.3 L932.5,801.4 L933.5,803.5 L934.5,804.9 L935.5,807.0 L936.5,809.0 L937.5,811.0 L938.5,813.2 L939.5,815.2 L940.5,816.5 L941.5,818.4 L942.5,820.3 L943.5,822.4 L944.5,824.3 L945.5,826.1 L946.5,827.9 L947.5,829.1 L948.5,830.9 L949.5,832.7 L950.5,834.5 L951.5,836.6 L952.5,839.1 L953.5,840.9 L954.5,842.6 L955.5,844.1 L956.5,845.8 L957.5,847.6 L958.5,849.3 L959.5,850.7 L960.5,852.5 L961.5,855.1 L962.5,856.8 L963.5,857.5 L964.5,859.2 L965.5,861.0 L966.5,863.6 L967.5,865.4 L968.5,866.2 L969.5,868.0 L970.5,869.7 L971.5,871.4 L972.5,874.6 L973.5,876.3 L974.5,878.0 L975.5,879.6 L976.5,880.2 L977.5,882.8 L978.5,883.2 L979.5,884.7 L980.5,887.1 L981.5,888.6 L982.5,890.2 L983.5,891.7 L984.5,892.6 L985.5,894.1 L986.5,895.6 L987.5,897.6 L988.5,899.1 L989.5,900.5 L990.5,901.0 L991.5,902.4 L992.5,903.8 L993.5,905.1 L994.5,906.9 L995.5,908.2 L996.5,909.5 L997.5,911.0 L998.5,912.3 L999.5,913.6 L1000.5,915.0 L1001.5,916.0 L1002.5,917.2 L1003.5,918.5 L1004.5,918.4 L1005.5,919.3 L1006.5,920.5 L1007.5,921.7 L1008.5,924.7 L1009.5,925.8 L1010.5,926.9 L1011.5,928.0 L1012.5,928.5 L1013.5,931.2 L1014.5,932.2 L1015.5,930.2 L1016.5,931.1 L1017.5,931.8 L1018.5,932.5 L1019.5,934.2 L1020.5,935.0 L1021.5,935.7 L1022.5,936.4 L1023.5,937.5 L1024.5,938.2 L1025.5,939.1 L1026.5,938.9 L1027.5,939.6 L1028.5,940.3 L1029.5,941.0 L1030.5,941.5 L1031.5,941.6 L1032.5,941.7 L1033.5,942.5 L1034.5,942.6 L1035.5,942.7 L1036.5,942.9 L1037.5,942.7 L1038.5,943.1 L1039.5,943.2 L1040.5,943.3 L1041.5,943.4 L1042.5,943.5 L1043.5,943.6 L1044.5,942.3 L1045.5,942.4 L1046.5,942.5 L1047.5,942.6 L1048.5,944.7 L1049.5,944.8 L1050.5,944.9 L1051.5,944.8 L1052.5,944.9 L1053.5,945.0 L1054.5,944.1 L1055.5,944.2 L1056.5,944.3 L1057.5,946.1 L1058.5,946.2 L1059.5,946.3 L1060.5,946.1 L1061.5,945.0 L1062.5,945.1 L1063.5,945.2 L1064.5,946.7 L1065.5,946.8 L1066.5,946.9 L1067.5,947.0 L1068.5,946.0 L1069.5,946.1 L1070.5,946.2 L1071.5,946.2 L1072.5,947.3 L1073.5,947.3 L1074.5,947.3 L1075.5,947.3 L1076.5,944.7 L1077.5,944.7 L1078.5,944.8 L1079.5,944.8 L1080.5,944.8 L1081.5,944.8 L1082.5,946.1 L1083.5,946.1 L1084.5,946.1 L1085.5,946.1 L1086.5,946.2 L1087.5,945.6 L1088.5,945.8 L1089.5,945.2 L1090.5,944.6 L1091.5,944.1 L1092.5,943.2 L1093.5,942.7 L1094.5,942.1 L1095.5,940.1 L1096.5,939.5 L1097.5,938.9 L1098.5,940.1 L1099.5,936.7 L1100.5,938.2 L1101.5,937.7 L1102.5,937.2 L1103.5,936.7 L1104.5,935.8 L1105.5,936.8 L1106.5,935.8 L1107.5,935.3 L1108.5,934.8 L1109.5,934.3 L1110.5,932.7 L1111.5,933.4 L1112.5,930.4 L1113.5,929.9 L1114.5,929.4 L1115.5,928.9 L1116.5,930.9 L1117.5,928.5 L1118.5,928.0 L1119.5,927.5 L1120.5,926.9 L1121.5,926.3 L1122.5,925.5 L1123.5,924.9 L1124.5,924.2 L1125.5,923.9 L1126.5,923.3 L1127.5,924.8 L1128.5,924.2 L1129.5,921.8 L1130.5,921.2 L1131.5,920.6 L1132.5,919.9 L1133.5,919.5 L1134.5,920.4 L1135.5,919.8 L1136.5,917.9 L1137.5,916.9 L1138.5,915.9 L1139.5,913.3 L1140.5,912.3 L1141.5,911.3 L1142.5,912.0 L1143.5,911.0 L1144.5,910.0 L1145.5,909.0 L1146.5,908.7 L1147.5,907.7 L1148.5,906.7 L1149.5,905.7 L1150.5,903.5 L1151.5,902.7 L1152.5,901.1 L1153.5,899.5 L1154.5,896.9 L1155.5,893.9 L1156.5,892.3 L1157.5,890.7 L1158.5,891.7 L1159.5,890.1 L1160.5,888.4 L1161.5,886.8 L1162.5,885.2 L1163.5,881.0 L1164.5,879.4 L1165.5,877.8 L1166.5,877.2 L1167.5,875.6 L1168.5,874.0 L1169.5,872.4 L1170.5,871.4 L1171.5,870.0 L1172.5,868.6 L1173.5,868.1 L1174.5,866.7 L1175.5,865.7 L1176.5,864.3 L1177.5,862.9 L1178.5,861.3 L1179.5,859.9 L1180.5,858.7 L1181.5,855.5 L1182.5,855.2 L1183.5,854.3 L1184.5,853.4 L1185.5,852.6 L1186.5,851.6 L1187.5,851.6 L1188.5,850.8 L1189.5,849.9 L1190.5,849.0 L1191.5,847.6 L1192.5,846.7 L1193.5,845.8 L1194.5,845.0 L1195.5,845.8 L1196.5,843.7 L1197.5,842.2 L1198.5,840.7 L1199.5,839.2 L1200.5,838.8 L1201.5,837.3 L1202.5,833.3 L1203.5,831.8 L1204.5,830.3 L1205.5,828.3 L1206.5,826.8 L1207.5,825.3 L1208.5,823.7 L1209.5,821.5 L1210.5,819.8 L1211.5,818.2 L1212.5,816.5 L1213.5,815.4 L1214.5,814.4 L1215.5,812.8 L1216.5,811.1 L1217.5,809.4 L1218.5,806.8 L1219.5,805.1 L1220.5,804.9 L1221.5,803.4 L1222.5,801.9 L1223.5,798.9 L1224.5,797.4 L1225.5,798.2 L1226.5,796.7 L1227.5,793.3 L1228.5,791.8 L1229.5,790.3 L1230.5,789.2 L1231.5,791.2 L1232.5,790.5 L1233.5,786.5 L1234.5,785.8 L1235.5,785.1 L1236.5,784.4 L1237.5,787.4 L1238.5,786.7 L1239.5,782.6 L1240.5,782.7 L1241.5,782.0 L1242.5,780.2 L1243.5,779.5 L1244.5,778.8 L1245.5,778.1 L1246.5,778.7 L1247.5,778.0 L1248.5,776.8 L1249.5,776.1 L1250.5,777.6 L1251.5,774.4 L1252.5,774.7 L1253.5,774.3 L1254.5,773.9 L1255.5,773.6 L1256.5,773.2 L1257.5,774.7 L1258.5,774.4 L1259.5,775.1 L1260.5,774.7 L1261.5,774.3 L1262.5,772.4 L1263.5,772.0 L1264.5,771.1 L1265.5,769.6 L1266.5,769.5 L1267.5,768.0 L1268.5,766.5 L1269.5,765.0 L1270.5,762.8 L1271.5,761.3 L1272.5,759.8 L1273.5,758.3 L1274.5,755.6 L1275.5,755.5 L1276.5,753.8 L1277.5,752.1 L1278.5,750.4 L1279.5,748.7 L1280.5,747.0 L1281.5,745.3 L1282.5,743.6 L1283.5,741.9 L1284.5,740.4 L1285.5,739.4 L1286.5,738.0 L1287.5,736.6 L1288.5,735.2 L1289.5,730.3 L1290.5,731.3 L1291.5,730.9 L1292.5,729.5 L1293.5,727.5 L1294.5,725.0 L1295.5,724.2 L1296.5,723.5 L1297.5,722.8 L1298.5,723.4 L1299.5,723.6 L1300.5,722.9 L1301.5,718.6 L1302.5,719.2 L1303.5,718.5 L1304.5,717.8 L1305.5,715.9 L1306.5,719.1 L1307.5,718.1 L1308.5,717.4 L1309.5,716.5 L1310.5,715.7 L1311.5,714.5 L1312.5,713.7 L1313.5,712.9 L1314.5,709.9 L1315.5,710.6 L1316.5,709.8 L1317.5,708.9 L1318.5,708.1 L1319.5,704.6 L1320.5,703.8 L1321.5,706.8 L1322.5,703.5 L1323.5,703.0 L1324.5,702.3 L1325.5,701.5 L1326.5,699.3 L1327.5,698.6 L1328.5,698.3 L1329.5,698.5 L1330.5,699.0 L1331.5,699.1 L1332.5,699.3 L1333.5,699.1 L1334.5,699.2 L1335.5,700.8 L1336.5,701.0 L1337.5,701.1 L1338.5,700.7 L1339.5,703.9 L1340.5,703.0 L1341.5,702.2 L1342.5,698.8 L1343.5,698.0 L1344.5,697.1 L1345.5,696.3 L1346.5,697.7 L1347.5,696.8 L1348.5,696.0 L1349.5,694.2 L1350.5,693.4 L1351.5,692.5 L1352.5,690.4 L1353.5,689.5 L1354.5,688.6 L1355.5,688.5 L1356.5,687.6 L1357.5,686.1 L1358.5,686.0 L1359.5,685.1 L1360.5,684.2 L1361.5,684.3 L1362.5,683.4 L1363.5,682.5 L1364.5,681.6 L1365.5,680.4 L1366.5,677.5 L1367.5,676.3 L1368.5,675.1 L1369.5,673.9 L1370.5,676.1 L1371.5,674.9 L1372.5,669.8 L1373.5,668.6 L1374.5,667.7 L1375.5,663.7"/>
<path stroke="none" fill="#ff00ff" d="M1366.0,669 L1367.0,669 L1367.0,666 L1368.0,666 L1368.0,666 L1369.0,666 L1369.0,666 L1370.0,666 L1370.0,666 L1371.0,666 L1371.0,663 L1372.0,663 L1372.0,663 L1373.0,663 L1373.0,658 L1374.0,658 L1374.0,658 L1375.0,658 L1375.0,658 L1376.0,658 L1376.0,647 L1377.0,647 L1377.0,647 L1378.0,647 L1378.0,647 L1379.0,647 L1379.0,647 L1380.0,647 L1380.0,646 L1381.0,646 L1381.0,646 L1382.0,646 L1382.0,646 L1383.0,646 L1383.0,647 L1384.0,647 L1384.0,647 L1385.0,647 L1385.0,645 L1386.0,645 L1386.0,645 L1387.0,645 L1387.0,645 L1388.0,645 L1388.0,645 L1389.0,645 L1389.0,647 L1390.0,647 L1390.0,649 L1391.0,649 L1391.0,649 L1392.0,649 L1392.0,649 L1393.0,649 L1393.0,649 L1394.0,649 L1394.0,649 L1395.0,649 L1395.0,649 L1396.0,649 L1396.0,649 L1397.0,649 L1397.0,648 L1398.0,648 L1398.0,648 L1399.0,648 L1399.0,648 L1400.0,648 L1400.0,648 L1401.0,648 L1401.0,648 L1402.0,648 L1402.0,648 L1403.0,648 L1403.0,648 L1404.0,648 L1404.0,649 L1405.0,649 L1405.0,649 L1406.0,649 L1406.0,649 L1407.0,649 L1407.0,655 L1408.0,655 L1408.0,655 L1409.0,655 L1409.0,655 L1410.0,655 L1410.0,655 L1411.0,655 L1411.0,658 L1412.0,658 L1412.0,658 L1413.0,658 L1413.0,658 L1414.0,658 L1414.0,658 L1415.0,658 L1415.0,652 L1416.0,652 L1416.0,652 L1417.0,652 L1417.0,652 L1418.0,652 L1418.0,652 L1419.0,652 L1419.0,646 L1420.0,646 L1420.0,646 L1421.0,646 L1421.0,646 L1422.0,646 L1422.0,646 L1423.0,646 L1423.0,646 L1424.0,646 L1424.0,641 L1425.0,641 L1425.0,641 L1426.0,641 L1426.0,641 L1427.0,641 L1427.0,641 L1428.0,641 L1428.0,636 L1429.0,636 L1429.0,636 L1430.0,636 L1430.0,636 L1431.0,636 L1431.0,631 L1432.0,631 L1432.0,631 L1433.0,631 L1433.0,631 L1434.0,631 L1434.0,628 L1435.0,628 L1435.0,628 L1436.0,628 L1436.0,629 L1437.0,629 L1437.0,629 L1438.0,629 L1438.0,628 L1439.0,628 L1439.0,628 L1440.0,628 L1440.0,628 L1441.0,628 L1441.0,627 L1442.0,627 L1442.0,627 L1443.0,627 L1443.0,626 L1444.0,626 L1444.0,626 L1445.0,626 L1445.0,626 L1446.0,626 L1446.0,625 L1447.0,625 L1447.0,624 L1448.0,624 L1448.0,624 L1449.0,624 L1449.0,624 L1450.0,624 L1450.0,624 L1451.0,624 L1451.0,623 L1452.0,623 L1452.0,623 L1453.0,623 L1453.0,623 L1454.0,623 L1454.0,624 L1455.0,624 L1455.0,625 L1456.0,625 L1456.0,625 L1457.0,625 L1457.0,625 L1458.0,625 L1458.0,625 L1459.0,625 L1459.0,625 L1460.0,625 L1460.0,625 L1461.0,625 L1461.0,625 L1462.0,625 L1462.0,626 L1463.0,626 L1463.0,626 L1464.0,626 L1464.0,626 L1465.0,626 L1465.0,626 L1466.0,626 L1466.0,626 L1467.0,626 L1467.0,626 L1468.0,626 L1468.0,626 L1469.0,626 L1469.0,626 L1470.0,626 L1470.0,623 L1471.0,623 L1471.0,619 L1472.0,619 L1472.0,619 L1473.0,619 L1473.0,619 L1474.0,619 L1474.0,618 L1475.0,618 L1475.0,617 L1476.0,617 L1476.0,617 L1477.0,617 L1477.0,617 L1478.0,617 L1478.0,615 L1479.0,615 L1479.0,615 L1480.0,615 L1480.0,609 L1481.0,609 L1481.0,609 L1482.0,609 L1482.0,609 L1483.0,609 L1483.0,609 L1484.0,609 L1484.0,606 L1485.0,606 L1485.0,602 L1486.0,602 L1486.0,602 L1487.0,602 L1487.0,602 L1488.0,602 L1488.0,599 L1489.0,599 L1489.0,599 L1490.0,599 L1490.0,599 L1491.0,599 L1491.0,599 L1492.0,599 L1492.0,599 L1493.0,599 L1493.0,599 L1494.0,599 L1494.0,599 L1495.0,599 L1495.0,599 L1496.0,599 L1496.0,599 L1497.0,599 L1497.0,599 L1498.0,599 L1498.0,599 L1499.0,599 L1499.0,601 L1500.0,601 L1500.0,601 L1501.0,601 L1501.0,606 L1502.0,606 L1502.0,614 L1503.0,614 L1503.0,614 L1504.0,614 L1504.0,614 L1505.0,614 L1505.0,618 L1506.0,618 L1506.0,621 L1507.0,621 L1507.0,621 L1508.0,621 L1508.0,622 L1509.0,622 L1509.0,627 L1510.0,627 L1510.0,627 L1511.0,627 L1511.0,627 L1512.0,627 L1512.0,627 L1513.0,627 L1513.0,633 L1514.0,633 L1514.0,633 L1515.0,633 L1515.0,633 L1516.0,633 L1516.0,657 L1517.0,657 L1517.0,657 L1518.0,657 L1518.0,657 L1519.0,657 L1519.0,660 L1520.0,660 L1520.0,660 L1521.0,660 L1521.0,660 L1522.0,660 L1522.0,662 L1523.0,662 L1523.0,663 L1524.0,663 L1524.0,663 L1525.0,663 L1525.0,663 L1526.0,663 L1526.0,663 L1527.0,663 L1527.0,662 L1528.0,662 L1528.0,662 L1529.0,662 L1529.0,662 L1530.0,662 L1530.0,662 L1531.0,662 L1531.0,660 L1532.0,660 L1532.0,660 L1533.0,660 L1533.0,660 L1534.0,660 L1534.0,646 L1535.0,646 L1535.0,646 L1536.0,646 L1536.0,632 L1537.0,632 L1537.0,632 L1538.0,632 L1538.0,619 L1539.0,619 L1539.0,619 L1540.0,619 L1540.0,615 L1541.0,615 L1541.0,615 L1542.0,615 L1542.0,615 L1543.0,615 L1543.0,615 L1544.0,615 L1544.0,615 L1545.0,615 L1545.0,615 L1546.0,615 L1546.0,613 L1547.0,613 L1547.0,613 L1548.0,613 L1548.0,613 L1549.0,613 L1549.0,613 L1550.0,613 L1550.0,613 L1551.0,613 L1551.0,613 L1552.0,613 L1552.0,611 L1553.0,611 L1553.0,611 L1554.0,611 L1554.0,611 L1555.0,611 L1555.0,611 L1556.0,611 L1556.0,609 L1557.0,609 L1557.0,609 L1558.0,609 L1558.0,608 L1559.0,608 L1559.0,608 L1560.0,608 L1560.0,607 L1561.0,607 L1561.0,607 L1562.0,607 L1562.0,607 L1563.0,607 L1563.0,607 L1564.0,607 L1564.0,606 L1565.0,606 L1565.0,608 L1566.0,608 L1566.0,608 L1567.0,608 L1567.0,610 L1568.0,610 L1568.0,610 L1569.0,610 L1569.0,610 L1570.0,610 L1570.0,610 L1571.0,610 L1571.0,612 L1572.0,612 L1572.0,615 L1573.0,615 L1573.0,612 L1574.0,612 L1574.0,612 L1575.0,612 L1575.0,604 L1576.0,604 L1576.0,604 L1577.0,604 L1577.0,604 L1578.0,604 L1578.0,604 L1579.0,604 L1579.0,604 L1580.0,604 L1580.0,604 L1581.0,604 L1581.0,604 L1582.0,604 L1582.0,604 L1583.0,604 L1583.0,605 L1584.0,605 L1584.0,605 L1585.0,605 L1585.0,605 L1586.0,605 L1586.0,605 L1587.0,605 L1587.0,610 L1588.0,610 L1588.0,619 L1589.0,619 L1589.0,619 L1590.0,619 L1590.0,619 L1591.0,619 L1591.0,628 L1592.0,628 L1592.0,636 L1593.0,636 L1593.0,636 L1594.0,636 L1594.0,636 L1595.0,636 L1595.0,636 L1596.0,636 L1596.0,658 L1597.0,658 L1597.0,658 L1598.0,658 L1598.0,663 L1599.0,663 L1599.0,663 L1600.0,663 L1600.0,663 L1601.0,663 L1601.0,664 L1602.0,664 L1602.0,664 L1603.0,664 L1603.0,664 L1604.0,664 L1604.0,664 L1605.0,664 L1605.0,664 L1606.0,664 L1606.0,664 L1607.0,664 L1607.0,664 L1608.0,664 L1608.0,664 L1609.0,664 L1609.0,669 L1610.0,669 L1610.0,669 L1611.0,669 L1611.0,669 L1612.0,669 L1612.0,672 L1613.0,672 L1613.0,672 L1614.0,672 L1614.0,672 L1615.0,672 L1615.0,672 L1616.0,672 L1616.0,672 L1617.0,672 L1617.0,672 L1618.0,672 L1618.0,672 L1619.0,672 L1619.0,672 L1620.0,672 L1620.0,665 L1621.0,665 L1621.0,665 L1622.0,665 L1622.0,665 L1623.0,665 L1623.0,665 L1624.0,665 L1624.0,659 L1625.0,659 L1625.0,659 L1626.0,659 L1626.0,659 L1627.0,659 L1627.0,646 L1628.0,646 L1628.0,646 L1629.0,646 L1629.0,636 L1630.0,636 L1630.0,636 L1631.0,636 L1631.0,633 L1632.0,633 L1632.0,633 L1633.0,633 L1633.0,634 L1634.0,634 L1634.0,633 L1635.0,633 L1635.0,631 L1636.0,631 L1636.0,631 L1637.0,631 L1637.0,631 L1638.0,631 L1638.0,622 L1639.0,622 L1639.0,622 L1640.0,622 L1640.0,622 L1641.0,622 L1641.0,622 L1642.0,622 L1642.0,620 L1643.0,620 L1643.0,620 L1644.0,620 L1644.0,621 L1645.0,621 L1645.0,621 L1646.0,621 L1646.0,621 L1647.0,621 L1647.0,621 L1648.0,621 L1648.0,620 L1649.0,620 L1649.0,620 L1650.0,620 L1650.0,620 L1651.0,620 L1651.0,620 L1652.0,620 L1652.0,620 L1653.0,620 L1653.0,621 L1654.0,621 L1654.0,623 L1655.0,623 L1655.0,623 L1656.0,623 L1656.0,623 L1657.0,623 L1657.0,623 L1658.0,623 L1658.0,631 L1659.0,631 L1659.0,631 L1660.0,631 L1660.0,631 L1661.0,631 L1661.0,645 L1662.0,645 L1662.0,645 L1663.0,645 L1663.0,653 L1664.0,653 L1664.0,653 L1665.0,653 L1665.0,655 L1666.0,655 L1666.0,655 L1667.0,655 L1667.0,659 L1668.0,659 L1668.0,659 L1669.0,659 L1669.0,659 L1670.0,659 L1670.0,658 L1671.0,658 L1671.0,658 L1672.0,658 L1672.0,658 L1673.0,658 L1673.0,658 L1674.0,658 L1674.0,655 L1675.0,655 L1675.0,655 L1676.0,655 L1676.0,656 L1677.0,656 L1677.0,656 L1678.0,656 L1678.0,656 L1679.0,656 L1679.0,657 L1680.0,657 L1680.0,657 L1681.0,657 L1681.0,657 L1682.0,657 L1682.0,657 L1683.0,657 L1683.0,658 L1684.0,658 L1684.0,667 L1683.0,667 L1683.0,667 L1682.0,667 L1682.0,667 L1681.0,667 L1681.0,667 L1680.0,667 L1680.0,668 L1679.0,668 L1679.0,668 L1678.0,668 L1678.0,668 L1677.0,668 L1677.0,668 L1676.0,668 L1676.0,668 L1675.0,668 L1675.0,668 L1674.0,668 L1674.0,670 L1673.0,670 L1673.0,671 L1672.0,671 L1672.0,672 L1671.0,672 L1671.0,672 L1670.0,672 L1670.0,673 L1669.0,673 L1669.0,673 L1668.0,673 L1668.0,673 L1667.0,673 L1667.0,673 L1666.0,673 L1666.0,675 L1665.0,675 L1665.0,675 L1664.0,675 L1664.0,675 L1663.0,675 L1663.0,675 L1662.0,675 L1662.0,675 L1661.0,675 L1661.0,675 L1660.0,675 L1660.0,675 L1659.0,675 L1659.0,672 L1658.0,672 L1658.0,672 L1657.0,672 L1657.0,672 L1656.0,672 L1656.0,672 L1655.0,672 L1655.0,657 L1654.0,657 L1654.0,657 L1653.0,657 L1653.0,657 L1652.0,657 L1652.0,657 L1651.0,657 L1651.0,649 L1650.0,649 L1650.0,649 L1649.0,649 L1649.0,649 L1648.0,649 L1648.0,649 L1647.0,649 L1647.0,646 L1646.0,646 L1646.0,646 L1645.0,646 L1645.0,646 L1644.0,646 L1644.0,647 L1643.0,647 L1643.0,647 L1642.0,647 L1642.0,647 L1641.0,647 L1641.0,647 L1640.0,647 L1640.0,651 L1639.0,651 L1639.0,653 L1638.0,653 L1638.0,658 L1637.0,658 L1637.0,658 L1636.0,658 L1636.0,658 L1635.0,658 L1635.0,667 L1634.0,667 L1634.0,667 L1633.0,667 L1633.0,667 L1632.0,667 L1632.0,667 L1631.0,667 L1631.0,678 L1630.0,678 L1630.0,678 L1629.0,678 L1629.0,678 L1628.0,678 L1628.0,678 L1627.0,678 L1627.0,695 L1626.0,695 L1626.0,695 L1625.0,695 L1625.0,695 L1624.0,695 L1624.0,708 L1623.0,708 L1623.0,708 L1622.0,708 L1622.0,708 L1621.0,708 L1621.0,708 L1620.0,708 L1620.0,708 L1619.0,708 L1619.0,708 L1618.0,708 L1618.0,707 L1617.0,707 L1617.0,707 L1616.0,707 L1616.0,707 L1615.0,707 L1615.0,705 L1614.0,705 L1614.0,705 L1613.0,705 L1613.0,705 L1612.0,705 L1612.0,699 L1611.0,699 L1611.0,699 L1610.0,699 L1610.0,699 L1609.0,699 L1609.0,694 L1608.0,694 L1608.0,692 L1607.0,692 L1607.0,692 L1606.0,692 L1606.0,692 L1605.0,692 L1605.0,692 L1604.0,692 L1604.0,689 L1603.0,689 L1603.0,689 L1602.0,689 L1602.0,689 L1601.0,689 L1601.0,681 L1600.0,681 L1600.0,681 L1599.0,681 L1599.0,681 L1598.0,681 L1598.0,681 L1597.0,681 L1597.0,675 L1596.0,675 L1596.0,675 L1595.0,675 L1595.0,674 L1594.0,674 L1594.0,674 L1593.0,674 L1593.0,674 L1592.0,674 L1592.0,674 L1591.0,674 L1591.0,665 L1590.0,665 L1590.0,665 L1589.0,665 L1589.0,665 L1588.0,665 L1588.0,654 L1587.0,654 L1587.0,654 L1586.0,654 L1586.0,638 L1585.0,638 L1585.0,638 L1584.0,638 L1584.0,638 L1583.0,638 L1583.0,638 L1582.0,638 L1582.0,633 L1581.0,633 L1581.0,633 L1580.0,633 L1580.0,631 L1579.0,631 L1579.0,631 L1578.0,631 L1578.0,631 L1577.0,631 L1577.0,631 L1576.0,631 L1576.0,632 L1575.0,632 L1575.0,632 L1574.0,632 L1574.0,632 L1573.0,632 L1573.0,632 L1572.0,632 L1572.0,632 L1571.0,632 L1571.0,631 L1570.0,631 L1570.0,632 L1569.0,632 L1569.0,632 L1568.0,632 L1568.0,626 L1567.0,626 L1567.0,626 L1566.0,626 L1566.0,626 L1565.0,626 L1565.0,626 L1564.0,626 L1564.0,619 L1563.0,619 L1563.0,619 L1562.0,619 L1562.0,623 L1561.0,623 L1561.0,627 L1560.0,627 L1560.0,627 L1559.0,627 L1559.0,632 L1558.0,632 L1558.0,632 L1557.0,632 L1557.0,635 L1556.0,635 L1556.0,635 L1555.0,635 L1555.0,637 L1554.0,637 L1554.0,637 L1553.0,637 L1553.0,637 L1552.0,637 L1552.0,637 L1551.0,637 L1551.0,637 L1550.0,637 L1550.0,637 L1549.0,637 L1549.0,637 L1548.0,637 L1548.0,637 L1547.0,637 L1547.0,637 L1546.0,637 L1546.0,641 L1545.0,641 L1545.0,641 L1544.0,641 L1544.0,652 L1543.0,652 L1543.0,663 L1542.0,663 L1542.0,663 L1541.0,663 L1541.0,663 L1540.0,663 L1540.0,670 L1539.0,670 L1539.0,670 L1538.0,670 L1538.0,670 L1537.0,670 L1537.0,674 L1536.0,674 L1536.0,674 L1535.0,674 L1535.0,674 L1534.0,674 L1534.0,674 L1533.0,674 L1533.0,682 L1532.0,682 L1532.0,682 L1531.0,682 L1531.0,682 L1530.0,682 L1530.0,691 L1529.0,691 L1529.0,691 L1528.0,691 L1528.0,691 L1527.0,691 L1527.0,690 L1526.0,690 L1526.0,690 L1525.0,690 L1525.0,690 L1524.0,690 L1524.0,691 L1523.0,691 L1523.0,691 L1522.0,691 L1522.0,691 L1521.0,691 L1521.0,691 L1520.0,691 L1520.0,691 L1519.0,691 L1519.0,691 L1518.0,691 L1518.0,691 L1517.0,691 L1517.0,686 L1516.0,686 L1516.0,675 L1515.0,675 L1515.0,675 L1514.0,675 L1514.0,675 L1513.0,675 L1513.0,670 L1512.0,670 L1512.0,670 L1511.0,670 L1511.0,670 L1510.0,670 L1510.0,666 L1509.0,666 L1509.0,662 L1508.0,662 L1508.0,656 L1507.0,656 L1507.0,644 L1506.0,644 L1506.0,644 L1505.0,644 L1505.0,644 L1504.0,644 L1504.0,636 L1503.0,636 L1503.0,636 L1502.0,636 L1502.0,629 L1501.0,629 L1501.0,629 L1500.0,629 L1500.0,629 L1499.0,629 L1499.0,629 L1498.0,629 L1498.0,629 L1497.0,629 L1497.0,629 L1496.0,629 L1496.0,628 L1495.0,628 L1495.0,628 L1494.0,628 L1494.0,628 L1493.0,628 L1493.0,628 L1492.0,628 L1492.0,625 L1491.0,625 L1491.0,625 L1490.0,625 L1490.0,625 L1489.0,625 L1489.0,625 L1488.0,625 L1488.0,625 L1487.0,625 L1487.0,625 L1486.0,625 L1486.0,627 L1485.0,627 L1485.0,629 L1484.0,629 L1484.0,629 L1483.0,629 L1483.0,631 L1482.0,631 L1482.0,631 L1481.0,631 L1481.0,631 L1480.0,631 L1480.0,631 L1479.0,631 L1479.0,633 L1478.0,633 L1478.0,633 L1477.0,633 L1477.0,639 L1476.0,639 L1476.0,639 L1475.0,639 L1475.0,639 L1474.0,639 L1474.0,639 L1473.0,639 L1473.0,647 L1472.0,647 L1472.0,647 L1471.0,647 L1471.0,647 L1470.0,647 L1470.0,652 L1469.0,652 L1469.0,652 L1468.0,652 L1468.0,652 L1467.0,652 L1467.0,652 L1466.0,652 L1466.0,652 L1465.0,652 L1465.0,653 L1464.0,653 L1464.0,653 L1463.0,653 L1463.0,654 L1462.0,654 L1462.0,654 L1461.0,654 L1461.0,652 L1460.0,652 L1460.0,652 L1459.0,652 L1459.0,648 L1458.0,648 L1458.0,648 L1457.0,648 L1457.0,648 L1456.0,648 L1456.0,645 L1455.0,645 L1455.0,645 L1454.0,645 L1454.0,643 L1453.0,643 L1453.0,643 L1452.0,643 L1452.0,643 L1451.0,643 L1451.0,643 L1450.0,643 L1450.0,640 L1449.0,640 L1449.0,640 L1448.0,640 L1448.0,640 L1447.0,640 L1447.0,640 L1446.0,640 L1446.0,640 L1445.0,640 L1445.0,641 L1444.0,641 L1444.0,641 L1443.0,641 L1443.0,640 L1442.0,640 L1442.0,640 L1441.0,640 L1441.0,642 L1440.0,642 L1440.0,642 L1439.0,642 L1439.0,642 L1438.0,642 L1438.0,642 L1437.0,642 L1437.0,650 L1436.0,650 L1436.0,650 L1435.0,650 L1435.0,656 L1434.0,656 L1434.0,656 L1433.0,656 L1433.0,658 L1432.0,658 L1432.0,658 L1431.0,658 L1431.0,658 L1430.0,658 L1430.0,658 L1429.0,658 L1429.0,658 L1428.0,658 L1428.0,658 L1427.0,658 L1427.0,669 L1426.0,669 L1426.0,669 L1425.0,669 L1425.0,669 L1424.0,669 L1424.0,675 L1423.0,675 L1423.0,675 L1422.0,675 L1422.0,679 L1421.0,679 L1421.0,683 L1420.0,683 L1420.0,683 L1419.0,683 L1419.0,683 L1418.0,683 L1418.0,685 L1417.0,685 L1417.0,685 L1416.0,685 L1416.0,685 L1415.0,685 L1415.0,685 L1414.0,685 L1414.0,686 L1413.0,686 L1413.0,686 L1412.0,686 L1412.0,685 L1411.0,685 L1411.0,685 L1410.0,685 L1410.0,685 L1409.0,685 L1409.0,685 L1408.0,685 L1408.0,681 L1407.0,681 L1407.0,669 L1406.0,669 L1406.0,669 L1405.0,669 L1405.0,669 L1404.0,669 L1404.0,665 L1403.0,665 L1403.0,665 L1402.0,665 L1402.0,665 L1401.0,665 L1401.0,664 L1400.0,664 L1400.0,663 L1399.0,663 L1399.0,663 L1398.0,663 L1398.0,662 L1397.0,662 L1397.0,662 L1396.0,662 L1396.0,662 L1395.0,662 L1395.0,663 L1394.0,663 L1394.0,663 L1393.0,663 L1393.0,664 L1392.0,664 L1392.0,664 L1391.0,664 L1391.0,664 L1390.0,664 L1390.0,666 L1389.0,666 L1389.0,666 L1388.0,666 L1388.0,666 L1387.0,666 L1387.0,666 L1386.0,666 L1386.0,667 L1385.0,667 L1385.0,667 L1384.0,667 L1384.0,667 L1383.0,667 L1383.0,667 L1382.0,667 L1382.0,667 L1381.0,667 L1381.0,667 L1380.0,667 L1380.0,667 L1379.0,667 L1379.0,670 L1378.0,670 L1378.0,669 L1377.0,669 L1377.0,669 L1376.0,669 L1376.0,676 L1375.0,676 L1375.0,676 L1374.0,676 L1374.0,676 L1373.0,676 L1373.0,676 L1372.0,676 L1372.0,683 L1371.0,683 L1371.0,683 L1370.0,683 L1370.0,686 L1369.0,686 L1369.0,686 L1368.0,686 L1368.0,686 L1367.0,686 L1367.0,686 L1366.0,686Z"/>
</g>
<path d="M278,471.5 H1680" stroke="#0000ff" stroke-width="11" stroke-dasharray="52 24.1" fill="none" shape-rendering="crispEdges"/>
<g stroke-width="11" shape-rendering="crispEdges">
<path d="M352,616.5 H540" stroke="#00009c"/>
<path d="M352,713.5 H540" stroke="#008040"/>
<path d="M352,810.5 H540" stroke="#808000"/>
<path d="M352,906.5 H540" stroke="#ff00ff"/>
</g>
<g font-family="'Liberation Serif', serif" font-size="69.5" fill="#000">
<text transform="translate(577.5,638) scale(0.942,1)">100 m</text>
<text transform="translate(577.5,735) scale(0.942,1)">200 m</text>
<text transform="translate(577.5,832) scale(0.942,1)">300 m</text>
<text transform="translate(577.5,929) scale(0.942,1)">400 m</text>
</g>
<g font-family="'Liberation Serif', serif" font-size="80" fill="#000">
<text x="275.5" y="1135" text-anchor="middle">0</text>
<text x="450.6" y="1135" text-anchor="middle">5</text>
<text x="625.8" y="1135" text-anchor="middle">10</text>
<text x="800.9" y="1135" text-anchor="middle">15</text>
<text x="976.0" y="1135" text-anchor="middle">20</text>
<text x="1151.1" y="1135" text-anchor="middle">25</text>
<text x="1326.2" y="1135" text-anchor="middle">30</text>
<text x="1501.4" y="1135" text-anchor="middle">35</text>
<text x="1676.5" y="1135" text-anchor="middle">40</text>
<text x="212" y="127.3" text-anchor="end">0</text>
<text x="212" y="373.1" text-anchor="end">-4</text>
<text x="212" y="623.0" text-anchor="end">-8</text>
<text x="212" y="871.5" text-anchor="end">-12</text>
<text x="982" y="1218.7" text-anchor="middle">Frequency (GHz)</text>
<text transform="translate(97.3,849.6) rotate(-90)">S</text>
<text transform="translate(114,804.8) rotate(-90)" font-size="62">21</text>
<text transform="translate(97.3,718.5) rotate(-90)">of</text>
<text transform="translate(97.3,637) rotate(-90)">Fiber (dBe)</text>
</g>
<text transform="translate(1190.9,399.6) scale(0.962,1)" font-family="'Liberation Sans', sans-serif" font-size="68.5" fill="#000">-6 dBe</text>
<path d="M1342.6,412.5 L1357.5,441.5" stroke="#000" stroke-width="8.6" fill="none"/>
<path d="M1372.6,465.6 L1342.9,446.2 L1372.1,430.9 Z" fill="#000"/>
</svg>
</body></html>
